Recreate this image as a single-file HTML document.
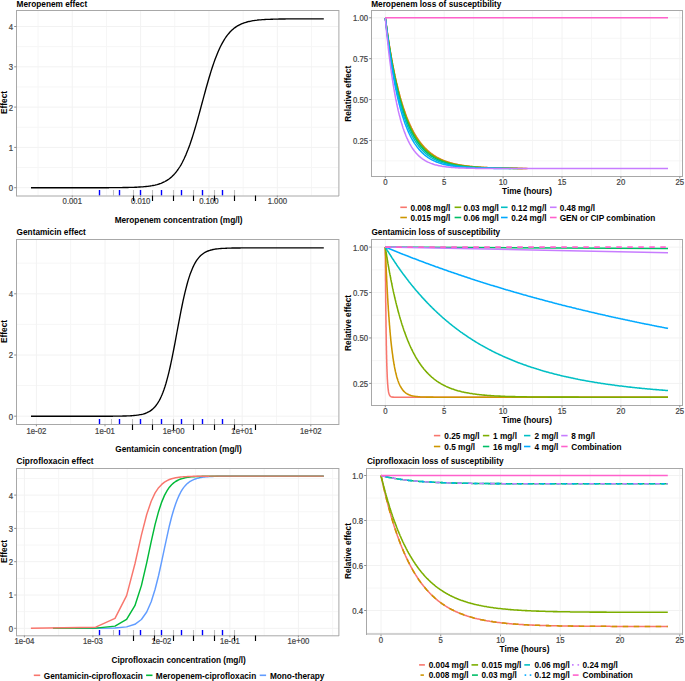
<!DOCTYPE html>
<html><head><meta charset="utf-8"><style>
html,body{margin:0;padding:0;background:#fff;width:685px;height:681px;overflow:hidden;}
svg{display:block;font-family:"Liberation Sans",sans-serif;}
</style></head><body>
<svg width="685" height="681" viewBox="0 0 685 681">
<rect x="0" y="0" width="685" height="681" fill="#fff"/>
<line x1="38.075" y1="10.5" x2="38.075" y2="195.5" stroke="#F6F6F6" stroke-width="1"/>
<line x1="106.425" y1="10.5" x2="106.425" y2="195.5" stroke="#F6F6F6" stroke-width="1"/>
<line x1="174.77499999999998" y1="10.5" x2="174.77499999999998" y2="195.5" stroke="#F6F6F6" stroke-width="1"/>
<line x1="243.125" y1="10.5" x2="243.125" y2="195.5" stroke="#F6F6F6" stroke-width="1"/>
<line x1="311.475" y1="10.5" x2="311.475" y2="195.5" stroke="#F6F6F6" stroke-width="1"/>
<line x1="16.5" y1="167.54999999999998" x2="338.5" y2="167.54999999999998" stroke="#F6F6F6" stroke-width="1"/>
<line x1="16.5" y1="127.25" x2="338.5" y2="127.25" stroke="#F6F6F6" stroke-width="1"/>
<line x1="16.5" y1="86.94999999999999" x2="338.5" y2="86.94999999999999" stroke="#F6F6F6" stroke-width="1"/>
<line x1="16.5" y1="46.650000000000006" x2="338.5" y2="46.650000000000006" stroke="#F6F6F6" stroke-width="1"/>
<line x1="72.25" y1="10.5" x2="72.25" y2="195.5" stroke="#F2F2F2" stroke-width="1"/>
<line x1="140.6" y1="10.5" x2="140.6" y2="195.5" stroke="#F2F2F2" stroke-width="1"/>
<line x1="208.95" y1="10.5" x2="208.95" y2="195.5" stroke="#F2F2F2" stroke-width="1"/>
<line x1="277.29999999999995" y1="10.5" x2="277.29999999999995" y2="195.5" stroke="#F2F2F2" stroke-width="1"/>
<line x1="16.5" y1="187.7" x2="338.5" y2="187.7" stroke="#F2F2F2" stroke-width="1"/>
<line x1="16.5" y1="147.39999999999998" x2="338.5" y2="147.39999999999998" stroke="#F2F2F2" stroke-width="1"/>
<line x1="16.5" y1="107.1" x2="338.5" y2="107.1" stroke="#F2F2F2" stroke-width="1"/>
<line x1="16.5" y1="66.8" x2="338.5" y2="66.8" stroke="#F2F2F2" stroke-width="1"/>
<line x1="16.5" y1="26.5" x2="338.5" y2="26.5" stroke="#F2F2F2" stroke-width="1"/>
<polyline points="31.0,187.7 32.0,187.7 33.0,187.7 34.0,187.7 35.0,187.7 36.0,187.7 37.0,187.7 38.0,187.7 39.0,187.7 40.0,187.7 41.0,187.7 42.0,187.7 43.0,187.7 44.0,187.7 45.0,187.7 46.0,187.7 47.0,187.7 48.0,187.7 49.0,187.7 50.0,187.7 51.0,187.7 52.0,187.7 53.0,187.7 54.0,187.7 55.0,187.7 56.0,187.7 57.0,187.7 58.0,187.7 59.0,187.7 60.0,187.7 61.0,187.7 62.0,187.7 63.0,187.7 64.0,187.7 65.0,187.7 66.0,187.7 67.0,187.7 68.0,187.7 69.0,187.7 70.0,187.7 71.0,187.7 72.0,187.7 73.0,187.7 74.0,187.7 75.0,187.7 76.0,187.7 77.0,187.7 78.0,187.7 79.0,187.7 80.0,187.7 81.0,187.7 82.0,187.7 83.0,187.7 84.0,187.7 85.0,187.7 86.0,187.7 87.0,187.7 88.0,187.7 89.0,187.7 90.0,187.7 91.0,187.7 92.0,187.7 93.0,187.7 94.0,187.7 95.0,187.7 96.0,187.7 97.0,187.7 98.0,187.7 99.0,187.7 100.0,187.7 101.0,187.7 102.0,187.7 103.0,187.7 104.0,187.7 105.0,187.7 106.0,187.7 107.0,187.7 108.0,187.7 109.0,187.7 110.0,187.6 111.0,187.6 112.0,187.6 113.0,187.6 114.0,187.6 115.0,187.6 116.0,187.6 117.0,187.6 118.0,187.6 119.0,187.6 120.0,187.6 121.0,187.6 122.0,187.6 123.0,187.5 124.0,187.5 125.0,187.5 126.0,187.5 127.0,187.5 128.0,187.5 129.0,187.4 130.0,187.4 131.0,187.4 132.0,187.3 133.0,187.3 134.0,187.3 135.0,187.2 136.0,187.2 137.0,187.2 138.0,187.1 139.0,187.0 140.0,187.0 141.0,186.9 142.0,186.8 143.0,186.8 144.0,186.7 145.0,186.6 146.0,186.5 147.0,186.4 148.0,186.3 149.0,186.1 150.0,186.0 151.0,185.8 152.0,185.7 153.0,185.5 154.0,185.3 155.0,185.1 156.0,184.8 157.0,184.6 158.0,184.3 159.0,184.0 160.0,183.6 161.0,183.3 162.0,182.9 163.0,182.4 164.0,182.0 165.0,181.5 166.0,180.9 167.0,180.3 168.0,179.7 169.0,179.0 170.0,178.2 171.0,177.4 172.0,176.5 173.0,175.5 174.0,174.5 175.0,173.4 176.0,172.2 177.0,170.9 178.0,169.5 179.0,168.0 180.0,166.5 181.0,164.8 182.0,163.0 183.0,161.0 184.0,159.0 185.0,156.8 186.0,154.6 187.0,152.1 188.0,149.6 189.0,146.9 190.0,144.2 191.0,141.3 192.0,138.2 193.0,135.1 194.0,131.9 195.0,128.5 196.0,125.1 197.0,121.6 198.0,118.0 199.0,114.4 200.0,110.7 201.0,107.0 202.0,103.3 203.0,99.6 204.0,95.9 205.0,92.2 206.0,88.5 207.0,85.0 208.0,81.5 209.0,78.0 210.0,74.7 211.0,71.4 212.0,68.3 213.0,65.3 214.0,62.4 215.0,59.6 216.0,56.9 217.0,54.4 218.0,52.0 219.0,49.7 220.0,47.5 221.0,45.5 222.0,43.6 223.0,41.8 224.0,40.1 225.0,38.5 226.0,37.0 227.0,35.6 228.0,34.4 229.0,33.2 230.0,32.0 231.0,31.0 232.0,30.1 233.0,29.2 234.0,28.3 235.0,27.6 236.0,26.9 237.0,26.2 238.0,25.6 239.0,25.1 240.0,24.6 241.0,24.1 242.0,23.7 243.0,23.3 244.0,22.9 245.0,22.6 246.0,22.3 247.0,22.0 248.0,21.7 249.0,21.5 250.0,21.3 251.0,21.1 252.0,20.9 253.0,20.7 254.0,20.6 255.0,20.4 256.0,20.3 257.0,20.2 258.0,20.0 259.0,19.9 260.0,19.9 261.0,19.8 262.0,19.7 263.0,19.6 264.0,19.6 265.0,19.5 266.0,19.4 267.0,19.4 268.0,19.3 269.0,19.3 270.0,19.3 271.0,19.2 272.0,19.2 273.0,19.2 274.0,19.1 275.0,19.1 276.0,19.1 277.0,19.1 278.0,19.1 279.0,19.0 280.0,19.0 281.0,19.0 282.0,19.0 283.0,19.0 284.0,19.0 285.0,19.0 286.0,18.9 287.0,18.9 288.0,18.9 289.0,18.9 290.0,18.9 291.0,18.9 292.0,18.9 293.0,18.9 294.0,18.9 295.0,18.9 296.0,18.9 297.0,18.9 298.0,18.9 299.0,18.9 300.0,18.9 301.0,18.9 302.0,18.9 303.0,18.9 304.0,18.9 305.0,18.9 306.0,18.9 307.0,18.9 308.0,18.9 309.0,18.9 310.0,18.9 311.0,18.9 312.0,18.9 313.0,18.9 314.0,18.9 315.0,18.9 316.0,18.9 317.0,18.8 318.0,18.8 319.0,18.8 320.0,18.8 321.0,18.8 322.0,18.8 323.0,18.8 323.8,18.8" fill="none" stroke="#000" stroke-width="1.35" stroke-linejoin="round" stroke-linecap="butt"/>
<line x1="113.5" y1="190" x2="113.5" y2="195.5" stroke="#C0C0C0" stroke-width="1.1"/>
<line x1="133.5" y1="190" x2="133.5" y2="195.5" stroke="#C0C0C0" stroke-width="1.1"/>
<line x1="152.5" y1="190" x2="152.5" y2="195.5" stroke="#C0C0C0" stroke-width="1.1"/>
<line x1="173.5" y1="190" x2="173.5" y2="195.5" stroke="#C0C0C0" stroke-width="1.1"/>
<line x1="193.5" y1="190" x2="193.5" y2="195.5" stroke="#C0C0C0" stroke-width="1.1"/>
<line x1="214.5" y1="190" x2="214.5" y2="195.5" stroke="#C0C0C0" stroke-width="1.1"/>
<line x1="234.5" y1="190" x2="234.5" y2="195.5" stroke="#C0C0C0" stroke-width="1.1"/>
<line x1="99.5" y1="190" x2="99.5" y2="195.5" stroke="#0000FF" stroke-width="1.4"/>
<line x1="119.5" y1="190" x2="119.5" y2="195.5" stroke="#0000FF" stroke-width="1.4"/>
<line x1="140.5" y1="190" x2="140.5" y2="195.5" stroke="#0000FF" stroke-width="1.4"/>
<line x1="161.5" y1="190" x2="161.5" y2="195.5" stroke="#0000FF" stroke-width="1.4"/>
<line x1="181.5" y1="190" x2="181.5" y2="195.5" stroke="#0000FF" stroke-width="1.4"/>
<line x1="202.5" y1="190" x2="202.5" y2="195.5" stroke="#0000FF" stroke-width="1.4"/>
<line x1="222.5" y1="190" x2="222.5" y2="195.5" stroke="#0000FF" stroke-width="1.4"/>
<line x1="16" y1="10.5" x2="339" y2="10.5" stroke="#A8A8A8" stroke-width="1"/>
<line x1="16.5" y1="10" x2="16.5" y2="196" stroke="#A8A8A8" stroke-width="1"/>
<line x1="16" y1="196.0" x2="339" y2="196.0" stroke="#A8A8A8" stroke-width="1"/>
<line x1="338.9" y1="10" x2="338.9" y2="196" stroke="#A8A8A8" stroke-width="1"/>
<line x1="14.2" y1="187.7" x2="16.5" y2="187.7" stroke="#8C8C8C" stroke-width="1"/>
<text font-size="8.6" text-anchor="end" fill="#444444" stroke="#444444" stroke-width="0.22" transform="translate(13.00 191.10) scale(0.9 1)">0</text>
<line x1="14.2" y1="147.39999999999998" x2="16.5" y2="147.39999999999998" stroke="#8C8C8C" stroke-width="1"/>
<text font-size="8.6" text-anchor="end" fill="#444444" stroke="#444444" stroke-width="0.22" transform="translate(13.00 150.80) scale(0.9 1)">1</text>
<line x1="14.2" y1="107.1" x2="16.5" y2="107.1" stroke="#8C8C8C" stroke-width="1"/>
<text font-size="8.6" text-anchor="end" fill="#444444" stroke="#444444" stroke-width="0.22" transform="translate(13.00 110.50) scale(0.9 1)">2</text>
<line x1="14.2" y1="66.8" x2="16.5" y2="66.8" stroke="#8C8C8C" stroke-width="1"/>
<text font-size="8.6" text-anchor="end" fill="#444444" stroke="#444444" stroke-width="0.22" transform="translate(13.00 70.20) scale(0.9 1)">3</text>
<line x1="14.2" y1="26.5" x2="16.5" y2="26.5" stroke="#8C8C8C" stroke-width="1"/>
<text font-size="8.6" text-anchor="end" fill="#444444" stroke="#444444" stroke-width="0.22" transform="translate(13.00 29.90) scale(0.9 1)">4</text>
<line x1="72.25" y1="195.5" x2="72.25" y2="197.3" stroke="#8C8C8C" stroke-width="1"/>
<text font-size="8.6" text-anchor="middle" fill="#444444" stroke="#444444" stroke-width="0.22" transform="translate(72.25 204.30) scale(0.9 1)">0.001</text>
<line x1="140.6" y1="195.5" x2="140.6" y2="197.3" stroke="#8C8C8C" stroke-width="1"/>
<text font-size="8.6" text-anchor="middle" fill="#444444" stroke="#444444" stroke-width="0.22" transform="translate(140.60 204.30) scale(0.9 1)">0.010</text>
<line x1="208.95" y1="195.5" x2="208.95" y2="197.3" stroke="#8C8C8C" stroke-width="1"/>
<text font-size="8.6" text-anchor="middle" fill="#444444" stroke="#444444" stroke-width="0.22" transform="translate(208.95 204.30) scale(0.9 1)">0.100</text>
<line x1="277.29999999999995" y1="195.5" x2="277.29999999999995" y2="197.3" stroke="#8C8C8C" stroke-width="1"/>
<text font-size="8.6" text-anchor="middle" fill="#444444" stroke="#444444" stroke-width="0.22" transform="translate(277.30 204.30) scale(0.9 1)">1.000</text>
<line x1="133.5" y1="195.5" x2="133.5" y2="201" stroke="#000" stroke-width="1.15"/>
<line x1="152.5" y1="195.5" x2="152.5" y2="201" stroke="#000" stroke-width="1.15"/>
<line x1="173.5" y1="195.5" x2="173.5" y2="201" stroke="#000" stroke-width="1.15"/>
<line x1="193.5" y1="195.5" x2="193.5" y2="201" stroke="#000" stroke-width="1.15"/>
<line x1="214.5" y1="195.5" x2="214.5" y2="201" stroke="#000" stroke-width="1.15"/>
<line x1="234.5" y1="195.5" x2="234.5" y2="201" stroke="#000" stroke-width="1.15"/>
<line x1="255.5" y1="195.5" x2="255.5" y2="201" stroke="#000" stroke-width="1.15"/>
<text x="16.6" y="6.7" font-size="8.25" font-weight="bold" text-anchor="start" fill="#000000">Meropenem effect</text>
<text x="178.6" y="222.6" font-size="8.25" font-weight="bold" text-anchor="middle" fill="#000000">Meropenem concentration (mg/l)</text>
<text x="7.1" y="102.5" font-size="8.25" font-weight="bold" text-anchor="middle" fill="#000000" transform="rotate(-90 7.1 102.5)">Effect</text>
<line x1="70.69999999999999" y1="239.5" x2="70.69999999999999" y2="424.5" stroke="#F6F6F6" stroke-width="1"/>
<line x1="139.29999999999998" y1="239.5" x2="139.29999999999998" y2="424.5" stroke="#F6F6F6" stroke-width="1"/>
<line x1="207.9" y1="239.5" x2="207.9" y2="424.5" stroke="#F6F6F6" stroke-width="1"/>
<line x1="276.49999999999994" y1="239.5" x2="276.49999999999994" y2="424.5" stroke="#F6F6F6" stroke-width="1"/>
<line x1="16.5" y1="385.59999999999997" x2="338.5" y2="385.59999999999997" stroke="#F6F6F6" stroke-width="1"/>
<line x1="16.5" y1="324.4" x2="338.5" y2="324.4" stroke="#F6F6F6" stroke-width="1"/>
<line x1="16.5" y1="263.2" x2="338.5" y2="263.2" stroke="#F6F6F6" stroke-width="1"/>
<line x1="36.4" y1="239.5" x2="36.4" y2="424.5" stroke="#F2F2F2" stroke-width="1"/>
<line x1="105.0" y1="239.5" x2="105.0" y2="424.5" stroke="#F2F2F2" stroke-width="1"/>
<line x1="173.6" y1="239.5" x2="173.6" y2="424.5" stroke="#F2F2F2" stroke-width="1"/>
<line x1="242.2" y1="239.5" x2="242.2" y2="424.5" stroke="#F2F2F2" stroke-width="1"/>
<line x1="310.79999999999995" y1="239.5" x2="310.79999999999995" y2="424.5" stroke="#F2F2F2" stroke-width="1"/>
<line x1="16.5" y1="416.2" x2="338.5" y2="416.2" stroke="#F2F2F2" stroke-width="1"/>
<line x1="16.5" y1="355.0" x2="338.5" y2="355.0" stroke="#F2F2F2" stroke-width="1"/>
<line x1="16.5" y1="293.79999999999995" x2="338.5" y2="293.79999999999995" stroke="#F2F2F2" stroke-width="1"/>
<polyline points="31.0,416.2 32.0,416.2 33.0,416.2 34.0,416.2 35.0,416.2 36.0,416.2 37.0,416.2 38.0,416.2 39.0,416.2 40.0,416.2 41.0,416.2 42.0,416.2 43.0,416.2 44.0,416.2 45.0,416.2 46.0,416.2 47.0,416.2 48.0,416.2 49.0,416.2 50.0,416.2 51.0,416.2 52.0,416.2 53.0,416.2 54.0,416.2 55.0,416.2 56.0,416.2 57.0,416.2 58.0,416.2 59.0,416.2 60.0,416.2 61.0,416.2 62.0,416.2 63.0,416.2 64.0,416.2 65.0,416.2 66.0,416.2 67.0,416.2 68.0,416.2 69.0,416.2 70.0,416.2 71.0,416.2 72.0,416.2 73.0,416.2 74.0,416.2 75.0,416.2 76.0,416.2 77.0,416.2 78.0,416.2 79.0,416.2 80.0,416.2 81.0,416.2 82.0,416.2 83.0,416.2 84.0,416.2 85.0,416.2 86.0,416.2 87.0,416.2 88.0,416.2 89.0,416.2 90.0,416.2 91.0,416.2 92.0,416.2 93.0,416.2 94.0,416.2 95.0,416.2 96.0,416.2 97.0,416.2 98.0,416.2 99.0,416.2 100.0,416.2 101.0,416.2 102.0,416.2 103.0,416.2 104.0,416.2 105.0,416.2 106.0,416.2 107.0,416.2 108.0,416.2 109.0,416.2 110.0,416.2 111.0,416.2 112.0,416.2 113.0,416.2 114.0,416.1 115.0,416.1 116.0,416.1 117.0,416.1 118.0,416.1 119.0,416.1 120.0,416.1 121.0,416.1 122.0,416.1 123.0,416.0 124.0,416.0 125.0,416.0 126.0,416.0 127.0,415.9 128.0,415.9 129.0,415.8 130.0,415.8 131.0,415.7 132.0,415.7 133.0,415.6 134.0,415.5 135.0,415.4 136.0,415.3 137.0,415.2 138.0,415.1 139.0,414.9 140.0,414.7 141.0,414.6 142.0,414.3 143.0,414.1 144.0,413.8 145.0,413.5 146.0,413.1 147.0,412.7 148.0,412.2 149.0,411.7 150.0,411.1 151.0,410.4 152.0,409.6 153.0,408.8 154.0,407.8 155.0,406.7 156.0,405.5 157.0,404.2 158.0,402.7 159.0,401.0 160.0,399.1 161.0,397.0 162.0,394.7 163.0,392.2 164.0,389.5 165.0,386.5 166.0,383.2 167.0,379.6 168.0,375.8 169.0,371.8 170.0,367.5 171.0,362.9 172.0,358.1 173.0,353.2 174.0,348.0 175.0,342.8 176.0,337.4 177.0,332.0 178.0,326.7 179.0,321.3 180.0,316.1 181.0,310.9 182.0,306.0 183.0,301.2 184.0,296.6 185.0,292.3 186.0,288.3 187.0,284.5 188.0,280.9 189.0,277.6 190.0,274.6 191.0,271.9 192.0,269.4 193.0,267.1 194.0,265.0 195.0,263.1 196.0,261.4 197.0,259.9 198.0,258.6 199.0,257.4 200.0,256.3 201.0,255.3 202.0,254.5 203.0,253.7 204.0,253.0 205.0,252.4 206.0,251.9 207.0,251.4 208.0,251.0 209.0,250.6 210.0,250.3 211.0,250.0 212.0,249.8 213.0,249.5 214.0,249.4 215.0,249.2 216.0,249.0 217.0,248.9 218.0,248.8 219.0,248.7 220.0,248.6 221.0,248.5 222.0,248.4 223.0,248.4 224.0,248.3 225.0,248.3 226.0,248.2 227.0,248.2 228.0,248.1 229.0,248.1 230.0,248.1 231.0,248.1 232.0,248.0 233.0,248.0 234.0,248.0 235.0,248.0 236.0,248.0 237.0,248.0 238.0,248.0 239.0,248.0 240.0,248.0 241.0,247.9 242.0,247.9 243.0,247.9 244.0,247.9 245.0,247.9 246.0,247.9 247.0,247.9 248.0,247.9 249.0,247.9 250.0,247.9 251.0,247.9 252.0,247.9 253.0,247.9 254.0,247.9 255.0,247.9 256.0,247.9 257.0,247.9 258.0,247.9 259.0,247.9 260.0,247.9 261.0,247.9 262.0,247.9 263.0,247.9 264.0,247.9 265.0,247.9 266.0,247.9 267.0,247.9 268.0,247.9 269.0,247.9 270.0,247.9 271.0,247.9 272.0,247.9 273.0,247.9 274.0,247.9 275.0,247.9 276.0,247.9 277.0,247.9 278.0,247.9 279.0,247.9 280.0,247.9 281.0,247.9 282.0,247.9 283.0,247.9 284.0,247.9 285.0,247.9 286.0,247.9 287.0,247.9 288.0,247.9 289.0,247.9 290.0,247.9 291.0,247.9 292.0,247.9 293.0,247.9 294.0,247.9 295.0,247.9 296.0,247.9 297.0,247.9 298.0,247.9 299.0,247.9 300.0,247.9 301.0,247.9 302.0,247.9 303.0,247.9 304.0,247.9 305.0,247.9 306.0,247.9 307.0,247.9 308.0,247.9 309.0,247.9 310.0,247.9 311.0,247.9 312.0,247.9 313.0,247.9 314.0,247.9 315.0,247.9 316.0,247.9 317.0,247.9 318.0,247.9 319.0,247.9 320.0,247.9 321.0,247.9 322.0,247.9 323.0,247.9 323.8,247.9" fill="none" stroke="#000" stroke-width="1.35" stroke-linejoin="round" stroke-linecap="butt"/>
<line x1="111.5" y1="419" x2="111.5" y2="424.5" stroke="#C0C0C0" stroke-width="1.1"/>
<line x1="132.5" y1="419" x2="132.5" y2="424.5" stroke="#C0C0C0" stroke-width="1.1"/>
<line x1="152.5" y1="419" x2="152.5" y2="424.5" stroke="#C0C0C0" stroke-width="1.1"/>
<line x1="173.5" y1="419" x2="173.5" y2="424.5" stroke="#C0C0C0" stroke-width="1.1"/>
<line x1="193.5" y1="419" x2="193.5" y2="424.5" stroke="#C0C0C0" stroke-width="1.1"/>
<line x1="214.5" y1="419" x2="214.5" y2="424.5" stroke="#C0C0C0" stroke-width="1.1"/>
<line x1="234.5" y1="419" x2="234.5" y2="424.5" stroke="#C0C0C0" stroke-width="1.1"/>
<line x1="99.5" y1="419" x2="99.5" y2="424.5" stroke="#0000FF" stroke-width="1.4"/>
<line x1="119.5" y1="419" x2="119.5" y2="424.5" stroke="#0000FF" stroke-width="1.4"/>
<line x1="140.5" y1="419" x2="140.5" y2="424.5" stroke="#0000FF" stroke-width="1.4"/>
<line x1="161.5" y1="419" x2="161.5" y2="424.5" stroke="#0000FF" stroke-width="1.4"/>
<line x1="181.5" y1="419" x2="181.5" y2="424.5" stroke="#0000FF" stroke-width="1.4"/>
<line x1="202.5" y1="419" x2="202.5" y2="424.5" stroke="#0000FF" stroke-width="1.4"/>
<line x1="222.5" y1="419" x2="222.5" y2="424.5" stroke="#0000FF" stroke-width="1.4"/>
<line x1="16" y1="239.5" x2="339" y2="239.5" stroke="#A8A8A8" stroke-width="1"/>
<line x1="16.5" y1="239" x2="16.5" y2="425" stroke="#A8A8A8" stroke-width="1"/>
<line x1="16" y1="424.5" x2="339" y2="424.5" stroke="#A8A8A8" stroke-width="1"/>
<line x1="338.9" y1="239" x2="338.9" y2="425" stroke="#A8A8A8" stroke-width="1"/>
<line x1="14.2" y1="416.2" x2="16.5" y2="416.2" stroke="#8C8C8C" stroke-width="1"/>
<text font-size="8.6" text-anchor="end" fill="#444444" stroke="#444444" stroke-width="0.22" transform="translate(13.00 419.60) scale(0.9 1)">0</text>
<line x1="14.2" y1="355.0" x2="16.5" y2="355.0" stroke="#8C8C8C" stroke-width="1"/>
<text font-size="8.6" text-anchor="end" fill="#444444" stroke="#444444" stroke-width="0.22" transform="translate(13.00 358.40) scale(0.9 1)">2</text>
<line x1="14.2" y1="293.79999999999995" x2="16.5" y2="293.79999999999995" stroke="#8C8C8C" stroke-width="1"/>
<text font-size="8.6" text-anchor="end" fill="#444444" stroke="#444444" stroke-width="0.22" transform="translate(13.00 297.20) scale(0.9 1)">4</text>
<line x1="36.4" y1="424.5" x2="36.4" y2="426.3" stroke="#8C8C8C" stroke-width="1"/>
<text font-size="8.6" text-anchor="middle" fill="#444444" stroke="#444444" stroke-width="0.22" transform="translate(36.40 433.50) scale(0.9 1)">1e-02</text>
<line x1="105.0" y1="424.5" x2="105.0" y2="426.3" stroke="#8C8C8C" stroke-width="1"/>
<text font-size="8.6" text-anchor="middle" fill="#444444" stroke="#444444" stroke-width="0.22" transform="translate(105.00 433.50) scale(0.9 1)">1e-01</text>
<line x1="173.6" y1="424.5" x2="173.6" y2="426.3" stroke="#8C8C8C" stroke-width="1"/>
<text font-size="8.6" text-anchor="middle" fill="#444444" stroke="#444444" stroke-width="0.22" transform="translate(173.60 433.50) scale(0.9 1)">1e+00</text>
<line x1="242.2" y1="424.5" x2="242.2" y2="426.3" stroke="#8C8C8C" stroke-width="1"/>
<text font-size="8.6" text-anchor="middle" fill="#444444" stroke="#444444" stroke-width="0.22" transform="translate(242.20 433.50) scale(0.9 1)">1e+01</text>
<line x1="310.79999999999995" y1="424.5" x2="310.79999999999995" y2="426.3" stroke="#8C8C8C" stroke-width="1"/>
<text font-size="8.6" text-anchor="middle" fill="#444444" stroke="#444444" stroke-width="0.22" transform="translate(310.80 433.50) scale(0.9 1)">1e+02</text>
<line x1="132.5" y1="424.5" x2="132.5" y2="430" stroke="#000" stroke-width="1.15"/>
<line x1="152.5" y1="424.5" x2="152.5" y2="430" stroke="#000" stroke-width="1.15"/>
<line x1="173.5" y1="424.5" x2="173.5" y2="430" stroke="#000" stroke-width="1.15"/>
<line x1="193.5" y1="424.5" x2="193.5" y2="430" stroke="#000" stroke-width="1.15"/>
<line x1="214.5" y1="424.5" x2="214.5" y2="430" stroke="#000" stroke-width="1.15"/>
<line x1="234.5" y1="424.5" x2="234.5" y2="430" stroke="#000" stroke-width="1.15"/>
<line x1="255.5" y1="424.5" x2="255.5" y2="430" stroke="#000" stroke-width="1.15"/>
<text x="16.6" y="235.1" font-size="8.25" font-weight="bold" text-anchor="start" fill="#000000">Gentamicin effect</text>
<text x="178.5" y="452.0" font-size="8.25" font-weight="bold" text-anchor="middle" fill="#000000">Gentamicin concentration (mg/l)</text>
<text x="7.1" y="331.5" font-size="8.25" font-weight="bold" text-anchor="middle" fill="#000000" transform="rotate(-90 7.1 331.5)">Effect</text>
<line x1="58.65" y1="468.5" x2="58.65" y2="635.5" stroke="#F6F6F6" stroke-width="1"/>
<line x1="127.15" y1="468.5" x2="127.15" y2="635.5" stroke="#F6F6F6" stroke-width="1"/>
<line x1="195.65" y1="468.5" x2="195.65" y2="635.5" stroke="#F6F6F6" stroke-width="1"/>
<line x1="264.15" y1="468.5" x2="264.15" y2="635.5" stroke="#F6F6F6" stroke-width="1"/>
<line x1="332.65" y1="468.5" x2="332.65" y2="635.5" stroke="#F6F6F6" stroke-width="1"/>
<line x1="16.5" y1="611.65" x2="338.5" y2="611.65" stroke="#F6F6F6" stroke-width="1"/>
<line x1="16.5" y1="578.3499999999999" x2="338.5" y2="578.3499999999999" stroke="#F6F6F6" stroke-width="1"/>
<line x1="16.5" y1="545.05" x2="338.5" y2="545.05" stroke="#F6F6F6" stroke-width="1"/>
<line x1="16.5" y1="511.75" x2="338.5" y2="511.75" stroke="#F6F6F6" stroke-width="1"/>
<line x1="16.5" y1="478.44999999999993" x2="338.5" y2="478.44999999999993" stroke="#F6F6F6" stroke-width="1"/>
<line x1="24.4" y1="468.5" x2="24.4" y2="635.5" stroke="#F2F2F2" stroke-width="1"/>
<line x1="92.9" y1="468.5" x2="92.9" y2="635.5" stroke="#F2F2F2" stroke-width="1"/>
<line x1="161.4" y1="468.5" x2="161.4" y2="635.5" stroke="#F2F2F2" stroke-width="1"/>
<line x1="229.9" y1="468.5" x2="229.9" y2="635.5" stroke="#F2F2F2" stroke-width="1"/>
<line x1="298.4" y1="468.5" x2="298.4" y2="635.5" stroke="#F2F2F2" stroke-width="1"/>
<line x1="16.5" y1="628.3" x2="338.5" y2="628.3" stroke="#F2F2F2" stroke-width="1"/>
<line x1="16.5" y1="595.0" x2="338.5" y2="595.0" stroke="#F2F2F2" stroke-width="1"/>
<line x1="16.5" y1="561.6999999999999" x2="338.5" y2="561.6999999999999" stroke="#F2F2F2" stroke-width="1"/>
<line x1="16.5" y1="528.4" x2="338.5" y2="528.4" stroke="#F2F2F2" stroke-width="1"/>
<line x1="16.5" y1="495.09999999999997" x2="338.5" y2="495.09999999999997" stroke="#F2F2F2" stroke-width="1"/>
<polyline points="75.4,628.3 95.7,628.3 115.0,628.0 126.6,626.9 134.9,624.3 141.4,619.5 146.7,612.0 151.2,601.8 155.1,589.3 158.6,575.5 161.7,561.4 164.5,548.1 167.1,536.1 169.4,525.7 171.6,517.0 173.7,509.8 175.6,504.0 177.4,499.2 179.1,495.4 180.7,492.2 182.2,489.7 183.6,487.6 185.0,485.9 186.3,484.5 187.6,483.3 188.8,482.4 189.9,481.5 191.1,480.9 192.1,480.3 193.2,479.8 194.2,479.4 195.2,479.0 196.1,478.7 197.0,478.4 197.9,478.2 198.8,478.0 199.6,477.8 200.4,477.6 201.2,477.5 202.0,477.4 202.7,477.2 203.4,477.1 204.2,477.1 204.9,477.0 205.5,476.9 206.2,476.8 206.9,476.8 207.5,476.7 208.1,476.7 208.7,476.6 209.3,476.6 212.2,476.5 214.8,476.4 217.1,476.3 219.3,476.3 221.4,476.2 223.3,476.2 225.1,476.2 226.8,476.2 228.4,476.2 229.9,476.2 231.4,476.2 232.8,476.1 234.1,476.1 235.3,476.1 236.6,476.1 237.7,476.1 238.8,476.1 239.9,476.1 241.0,476.1 242.0,476.1 243.0,476.1 243.9,476.1 244.8,476.1 245.7,476.1 246.6,476.1 247.4,476.1 248.2,476.1 249.0,476.1 249.8,476.1 250.5,476.1 251.3,476.1 252.0,476.1 252.7,476.1 253.4,476.1 254.0,476.1 254.7,476.1 255.3,476.1 256.0,476.1 256.6,476.1 257.2,476.1 257.8,476.1 258.3,476.1 258.9,476.1 259.5,476.1 260.0,476.1 260.5,476.1 261.1,476.1 261.6,476.1 262.1,476.1 262.6,476.1 265.0,476.1 267.2,476.1 269.2,476.1 271.1,476.1 273.0,476.1 274.7,476.1 276.3,476.1 277.8,476.1 279.2,476.1 280.6,476.1 281.9,476.1 283.2,476.1 284.4,476.1 285.6,476.1 286.7,476.1 287.8,476.1 288.8,476.1 289.8,476.1 290.8,476.1 291.8,476.1 292.7,476.1 293.6,476.1 294.4,476.1 295.3,476.1 296.1,476.1 296.9,476.1 297.6,476.1 298.4,476.1 299.1,476.1 299.9,476.1 300.6,476.1 301.2,476.1 301.9,476.1 302.6,476.1 303.2,476.1 303.8,476.1 304.4,476.1 305.0,476.1 305.6,476.1 306.2,476.1 306.8,476.1 307.3,476.1 307.9,476.1 308.4,476.1 308.9,476.1 309.5,476.1 310.0,476.1 310.5,476.1 311.0,476.1 311.4,476.1 311.9,476.1 312.4,476.1 312.8,476.1 313.3,476.1 313.7,476.1 314.2,476.1 314.6,476.1 315.0,476.1 315.5,476.1 315.9,476.1 316.3,476.1 316.7,476.1 317.1,476.1 317.5,476.1 317.9,476.1 318.3,476.1 318.6,476.1 319.0,476.1 319.4,476.1 319.8,476.1 320.1,476.1 320.5,476.1 320.8,476.1 321.2,476.1 321.5,476.1 321.9,476.1 322.2,476.1 322.5,476.1 322.9,476.1 323.2,476.1 323.5,476.1 323.8,476.1" fill="none" stroke="#619CFF" stroke-width="1.45" stroke-linejoin="round" stroke-linecap="butt"/>
<polyline points="52.9,628.3 95.7,628.1 115.0,626.1 126.6,619.4 134.9,605.7 141.4,585.6 146.7,562.8 151.2,541.6 155.1,524.4 158.6,511.4 161.7,502.1 164.5,495.4 167.1,490.7 169.4,487.2 171.6,484.7 173.7,482.9 175.6,481.5 177.4,480.5 179.1,479.7 180.7,479.0 182.2,478.6 183.6,478.2 185.0,477.8 186.3,477.6 187.6,477.4 188.8,477.2 189.9,477.1 191.1,476.9 192.1,476.8 193.2,476.7 194.2,476.7 195.2,476.6 196.1,476.6 197.0,476.5 197.9,476.5 198.8,476.4 199.6,476.4 200.4,476.4 201.2,476.4 202.0,476.3 202.7,476.3 203.4,476.3 204.2,476.3 204.9,476.3 205.5,476.3 206.2,476.2 206.9,476.2 207.5,476.2 208.1,476.2 208.7,476.2 209.3,476.2 212.2,476.2 214.8,476.2 217.1,476.2 219.3,476.1 221.4,476.1 223.3,476.1 225.1,476.1 226.8,476.1 228.4,476.1 229.9,476.1 231.4,476.1 232.8,476.1 234.1,476.1 235.3,476.1 236.6,476.1 237.7,476.1 238.8,476.1 239.9,476.1 241.0,476.1 242.0,476.1 243.0,476.1 243.9,476.1 244.8,476.1 245.7,476.1 246.6,476.1 247.4,476.1 248.2,476.1 249.0,476.1 249.8,476.1 250.5,476.1 251.3,476.1 252.0,476.1 252.7,476.1 253.4,476.1 254.0,476.1 254.7,476.1 255.3,476.1 256.0,476.1 256.6,476.1 257.2,476.1 257.8,476.1 258.3,476.1 258.9,476.1 259.5,476.1 260.0,476.1 260.5,476.1 261.1,476.1 261.6,476.1 262.1,476.1 262.6,476.1 265.0,476.1 267.2,476.1 269.2,476.1 271.1,476.1 273.0,476.1 274.7,476.1 276.3,476.1 277.8,476.1 279.2,476.1 280.6,476.1 281.9,476.1 283.2,476.1 284.4,476.1 285.6,476.1 286.7,476.1 287.8,476.1 288.8,476.1 289.8,476.1 290.8,476.1 291.8,476.1 292.7,476.1 293.6,476.1 294.4,476.1 295.3,476.1 296.1,476.1 296.9,476.1 297.6,476.1 298.4,476.1 299.1,476.1 299.9,476.1 300.6,476.1 301.2,476.1 301.9,476.1 302.6,476.1 303.2,476.1 303.8,476.1 304.4,476.1 305.0,476.1 305.6,476.1 306.2,476.1 306.8,476.1 307.3,476.1 307.9,476.1 308.4,476.1 308.9,476.1 309.5,476.1 310.0,476.1 310.5,476.1 311.0,476.1 311.4,476.1 311.9,476.1 312.4,476.1 312.8,476.1 313.3,476.1 313.7,476.1 314.2,476.1 314.6,476.1 315.0,476.1 315.5,476.1 315.9,476.1 316.3,476.1 316.7,476.1 317.1,476.1 317.5,476.1 317.9,476.1 318.3,476.1 318.6,476.1 319.0,476.1 319.4,476.1 319.8,476.1 320.1,476.1 320.5,476.1 320.8,476.1 321.2,476.1 321.5,476.1 321.9,476.1 322.2,476.1 322.5,476.1 322.9,476.1 323.2,476.1 323.5,476.1 323.8,476.1" fill="none" stroke="#00BA38" stroke-width="1.45" stroke-linejoin="round" stroke-linecap="butt"/>
<polyline points="30.9,628.3 95.7,627.2 115.0,618.4 126.6,595.6 134.9,564.0 141.4,535.1 146.7,514.5 151.2,501.2 155.1,492.9 158.6,487.7 161.7,484.4 164.5,482.1 167.1,480.6 169.4,479.5 171.6,478.8 173.7,478.2 175.6,477.8 177.4,477.5 179.1,477.2 180.7,477.0 182.2,476.9 183.6,476.8 185.0,476.7 186.3,476.6 187.6,476.5 188.8,476.5 189.9,476.4 191.1,476.4 192.1,476.4 193.2,476.3 194.2,476.3 195.2,476.3 196.1,476.3 197.0,476.3 197.9,476.2 198.8,476.2 199.6,476.2 200.4,476.2 201.2,476.2 202.0,476.2 202.7,476.2 203.4,476.2 204.2,476.2 204.9,476.2 205.5,476.2 206.2,476.2 206.9,476.2 207.5,476.2 208.1,476.2 208.7,476.2 209.3,476.1 212.2,476.1 214.8,476.1 217.1,476.1 219.3,476.1 221.4,476.1 223.3,476.1 225.1,476.1 226.8,476.1 228.4,476.1 229.9,476.1 231.4,476.1 232.8,476.1 234.1,476.1 235.3,476.1 236.6,476.1 237.7,476.1 238.8,476.1 239.9,476.1 241.0,476.1 242.0,476.1 243.0,476.1 243.9,476.1 244.8,476.1 245.7,476.1 246.6,476.1 247.4,476.1 248.2,476.1 249.0,476.1 249.8,476.1 250.5,476.1 251.3,476.1 252.0,476.1 252.7,476.1 253.4,476.1 254.0,476.1 254.7,476.1 255.3,476.1 256.0,476.1 256.6,476.1 257.2,476.1 257.8,476.1 258.3,476.1 258.9,476.1 259.5,476.1 260.0,476.1 260.5,476.1 261.1,476.1 261.6,476.1 262.1,476.1 262.6,476.1 265.0,476.1 267.2,476.1 269.2,476.1 271.1,476.1 273.0,476.1 274.7,476.1 276.3,476.1 277.8,476.1 279.2,476.1 280.6,476.1 281.9,476.1 283.2,476.1 284.4,476.1 285.6,476.1 286.7,476.1 287.8,476.1 288.8,476.1 289.8,476.1 290.8,476.1 291.8,476.1 292.7,476.1 293.6,476.1 294.4,476.1 295.3,476.1 296.1,476.1 296.9,476.1 297.6,476.1 298.4,476.1 299.1,476.1 299.9,476.1 300.6,476.1 301.2,476.1 301.9,476.1 302.6,476.1 303.2,476.1 303.8,476.1 304.4,476.1 305.0,476.1 305.6,476.1 306.2,476.1 306.8,476.1 307.3,476.1 307.9,476.1 308.4,476.1 308.9,476.1 309.5,476.1 310.0,476.1 310.5,476.1 311.0,476.1 311.4,476.1 311.9,476.1 312.4,476.1 312.8,476.1 313.3,476.1 313.7,476.1 314.2,476.1 314.6,476.1 315.0,476.1 315.5,476.1 315.9,476.1 316.3,476.1 316.7,476.1 317.1,476.1 317.5,476.1 317.9,476.1 318.3,476.1 318.6,476.1 319.0,476.1 319.4,476.1 319.8,476.1 320.1,476.1 320.5,476.1 320.8,476.1 321.2,476.1 321.5,476.1 321.9,476.1 322.2,476.1 322.5,476.1 322.9,476.1 323.2,476.1 323.5,476.1 323.8,476.1" fill="none" stroke="#F8766D" stroke-width="1.45" stroke-linejoin="round" stroke-linecap="butt"/>
<line x1="113.5" y1="630" x2="113.5" y2="635.5" stroke="#C0C0C0" stroke-width="1.1"/>
<line x1="133.5" y1="630" x2="133.5" y2="635.5" stroke="#C0C0C0" stroke-width="1.1"/>
<line x1="154.5" y1="630" x2="154.5" y2="635.5" stroke="#C0C0C0" stroke-width="1.1"/>
<line x1="173.5" y1="630" x2="173.5" y2="635.5" stroke="#C0C0C0" stroke-width="1.1"/>
<line x1="193.5" y1="630" x2="193.5" y2="635.5" stroke="#C0C0C0" stroke-width="1.1"/>
<line x1="214.5" y1="630" x2="214.5" y2="635.5" stroke="#C0C0C0" stroke-width="1.1"/>
<line x1="234.5" y1="630" x2="234.5" y2="635.5" stroke="#C0C0C0" stroke-width="1.1"/>
<line x1="99.5" y1="630" x2="99.5" y2="635.5" stroke="#0000FF" stroke-width="1.4"/>
<line x1="119.5" y1="630" x2="119.5" y2="635.5" stroke="#0000FF" stroke-width="1.4"/>
<line x1="140.5" y1="630" x2="140.5" y2="635.5" stroke="#0000FF" stroke-width="1.4"/>
<line x1="161.5" y1="630" x2="161.5" y2="635.5" stroke="#0000FF" stroke-width="1.4"/>
<line x1="181.5" y1="630" x2="181.5" y2="635.5" stroke="#0000FF" stroke-width="1.4"/>
<line x1="202.5" y1="630" x2="202.5" y2="635.5" stroke="#0000FF" stroke-width="1.4"/>
<line x1="222.5" y1="630" x2="222.5" y2="635.5" stroke="#0000FF" stroke-width="1.4"/>
<line x1="16" y1="468.5" x2="339" y2="468.5" stroke="#A8A8A8" stroke-width="1"/>
<line x1="16.5" y1="468" x2="16.5" y2="636" stroke="#A8A8A8" stroke-width="1"/>
<line x1="16" y1="635.8" x2="339" y2="635.8" stroke="#A8A8A8" stroke-width="1"/>
<line x1="338.9" y1="468" x2="338.9" y2="636" stroke="#A8A8A8" stroke-width="1"/>
<line x1="14.2" y1="628.3" x2="16.5" y2="628.3" stroke="#8C8C8C" stroke-width="1"/>
<text font-size="8.6" text-anchor="end" fill="#444444" stroke="#444444" stroke-width="0.22" transform="translate(13.00 631.70) scale(0.9 1)">0</text>
<line x1="14.2" y1="595.0" x2="16.5" y2="595.0" stroke="#8C8C8C" stroke-width="1"/>
<text font-size="8.6" text-anchor="end" fill="#444444" stroke="#444444" stroke-width="0.22" transform="translate(13.00 598.40) scale(0.9 1)">1</text>
<line x1="14.2" y1="561.6999999999999" x2="16.5" y2="561.6999999999999" stroke="#8C8C8C" stroke-width="1"/>
<text font-size="8.6" text-anchor="end" fill="#444444" stroke="#444444" stroke-width="0.22" transform="translate(13.00 565.10) scale(0.9 1)">2</text>
<line x1="14.2" y1="528.4" x2="16.5" y2="528.4" stroke="#8C8C8C" stroke-width="1"/>
<text font-size="8.6" text-anchor="end" fill="#444444" stroke="#444444" stroke-width="0.22" transform="translate(13.00 531.80) scale(0.9 1)">3</text>
<line x1="14.2" y1="495.09999999999997" x2="16.5" y2="495.09999999999997" stroke="#8C8C8C" stroke-width="1"/>
<text font-size="8.6" text-anchor="end" fill="#444444" stroke="#444444" stroke-width="0.22" transform="translate(13.00 498.50) scale(0.9 1)">4</text>
<line x1="24.4" y1="635.5" x2="24.4" y2="637.3" stroke="#8C8C8C" stroke-width="1"/>
<text font-size="8.6" text-anchor="middle" fill="#444444" stroke="#444444" stroke-width="0.22" transform="translate(24.40 644.30) scale(0.9 1)">1e-04</text>
<line x1="92.9" y1="635.5" x2="92.9" y2="637.3" stroke="#8C8C8C" stroke-width="1"/>
<text font-size="8.6" text-anchor="middle" fill="#444444" stroke="#444444" stroke-width="0.22" transform="translate(92.90 644.30) scale(0.9 1)">1e-03</text>
<line x1="161.4" y1="635.5" x2="161.4" y2="637.3" stroke="#8C8C8C" stroke-width="1"/>
<text font-size="8.6" text-anchor="middle" fill="#444444" stroke="#444444" stroke-width="0.22" transform="translate(161.40 644.30) scale(0.9 1)">1e-02</text>
<line x1="229.9" y1="635.5" x2="229.9" y2="637.3" stroke="#8C8C8C" stroke-width="1"/>
<text font-size="8.6" text-anchor="middle" fill="#444444" stroke="#444444" stroke-width="0.22" transform="translate(229.90 644.30) scale(0.9 1)">1e-01</text>
<line x1="298.4" y1="635.5" x2="298.4" y2="637.3" stroke="#8C8C8C" stroke-width="1"/>
<text font-size="8.6" text-anchor="middle" fill="#444444" stroke="#444444" stroke-width="0.22" transform="translate(298.40 644.30) scale(0.9 1)">1e+00</text>
<line x1="133.5" y1="635.5" x2="133.5" y2="641" stroke="#000" stroke-width="1.15"/>
<line x1="154.5" y1="635.5" x2="154.5" y2="641" stroke="#000" stroke-width="1.15"/>
<line x1="173.5" y1="635.5" x2="173.5" y2="641" stroke="#000" stroke-width="1.15"/>
<line x1="193.5" y1="635.5" x2="193.5" y2="641" stroke="#000" stroke-width="1.15"/>
<line x1="214.5" y1="635.5" x2="214.5" y2="641" stroke="#000" stroke-width="1.15"/>
<line x1="234.5" y1="635.5" x2="234.5" y2="641" stroke="#000" stroke-width="1.15"/>
<line x1="255.5" y1="635.5" x2="255.5" y2="641" stroke="#000" stroke-width="1.15"/>
<text x="16.6" y="464.0" font-size="8.25" font-weight="bold" text-anchor="start" fill="#000000">Ciprofloxacin effect</text>
<text x="178.6" y="662.8" font-size="8.25" font-weight="bold" text-anchor="middle" fill="#000000">Ciprofloxacin concentration (mg/l)</text>
<text x="7.1" y="551.5" font-size="8.25" font-weight="bold" text-anchor="middle" fill="#000000" transform="rotate(-90 7.1 551.5)">Effect</text>
<line x1="33.8" y1="675.3" x2="40.199999999999996" y2="675.3" stroke="#F8766D" stroke-width="1.6"/>
<text x="43.8" y="678.6" font-size="8.25" font-weight="bold" text-anchor="start" fill="#000000">Gentamicin-ciprofloxacin</text>
<line x1="146.1" y1="675.3" x2="152.5" y2="675.3" stroke="#00BA38" stroke-width="1.6"/>
<text x="155.8" y="678.6" font-size="8.25" font-weight="bold" text-anchor="start" fill="#000000">Meropenem-ciprofloxacin</text>
<line x1="259.7" y1="675.3" x2="266.09999999999997" y2="675.3" stroke="#619CFF" stroke-width="1.6"/>
<text x="269.9" y="678.6" font-size="8.25" font-weight="bold" text-anchor="start" fill="#000000">Mono-therapy</text>
<line x1="414.75" y1="10.5" x2="414.75" y2="176.5" stroke="#F6F6F6" stroke-width="1"/>
<line x1="473.65" y1="10.5" x2="473.65" y2="176.5" stroke="#F6F6F6" stroke-width="1"/>
<line x1="532.55" y1="10.5" x2="532.55" y2="176.5" stroke="#F6F6F6" stroke-width="1"/>
<line x1="591.45" y1="10.5" x2="591.45" y2="176.5" stroke="#F6F6F6" stroke-width="1"/>
<line x1="650.35" y1="10.5" x2="650.35" y2="176.5" stroke="#F6F6F6" stroke-width="1"/>
<line x1="371.5" y1="160.8625" x2="682.5" y2="160.8625" stroke="#F6F6F6" stroke-width="1"/>
<line x1="371.5" y1="119.98750000000001" x2="682.5" y2="119.98750000000001" stroke="#F6F6F6" stroke-width="1"/>
<line x1="371.5" y1="79.11250000000001" x2="682.5" y2="79.11250000000001" stroke="#F6F6F6" stroke-width="1"/>
<line x1="371.5" y1="38.23750000000001" x2="682.5" y2="38.23750000000001" stroke="#F6F6F6" stroke-width="1"/>
<line x1="385.3" y1="10.5" x2="385.3" y2="176.5" stroke="#F2F2F2" stroke-width="1"/>
<line x1="444.2" y1="10.5" x2="444.2" y2="176.5" stroke="#F2F2F2" stroke-width="1"/>
<line x1="503.1" y1="10.5" x2="503.1" y2="176.5" stroke="#F2F2F2" stroke-width="1"/>
<line x1="562.0" y1="10.5" x2="562.0" y2="176.5" stroke="#F2F2F2" stroke-width="1"/>
<line x1="620.9" y1="10.5" x2="620.9" y2="176.5" stroke="#F2F2F2" stroke-width="1"/>
<line x1="679.8" y1="10.5" x2="679.8" y2="176.5" stroke="#F2F2F2" stroke-width="1"/>
<line x1="371.5" y1="140.425" x2="682.5" y2="140.425" stroke="#F2F2F2" stroke-width="1"/>
<line x1="371.5" y1="99.55000000000001" x2="682.5" y2="99.55000000000001" stroke="#F2F2F2" stroke-width="1"/>
<line x1="371.5" y1="58.67500000000001" x2="682.5" y2="58.67500000000001" stroke="#F2F2F2" stroke-width="1"/>
<line x1="371.5" y1="17.80000000000001" x2="682.5" y2="17.80000000000001" stroke="#F2F2F2" stroke-width="1"/>
<polyline points="385.3,17.8 385.4,18.5 385.5,19.2 385.6,20.0 385.7,20.7 385.8,21.4 385.9,22.1 386.0,23.0 386.1,23.9 386.3,24.8 386.4,25.7 386.5,26.6 386.6,27.5 386.8,28.4 386.9,29.2 387.0,30.1 387.1,31.0 387.3,31.8 387.4,32.7 387.5,33.5 387.6,34.4 387.8,35.2 387.9,36.0 388.0,36.9 388.1,37.7 388.3,38.5 388.4,39.3 388.5,40.1 388.6,40.9 388.7,41.7 388.9,42.5 389.0,43.3 389.1,44.1 389.2,44.9 389.4,45.6 389.5,46.4 389.6,47.2 389.7,47.9 389.9,48.7 390.0,49.4 390.1,50.2 390.2,50.9 390.4,51.6 390.5,52.4 390.6,53.1 390.7,53.8 390.9,54.5 391.0,55.2 391.1,55.9 391.2,56.6 391.4,57.3 391.5,58.0 391.6,58.7 391.7,59.4 391.9,60.1 392.0,60.8 392.2,61.6 392.3,62.5 392.5,63.4 392.6,64.2 392.8,65.1 393.0,65.9 393.1,66.7 393.3,67.6 393.5,68.4 393.6,69.2 393.8,70.0 393.9,70.8 394.1,71.6 394.3,72.4 394.4,73.1 394.6,73.9 394.8,74.7 394.9,75.4 395.1,76.2 395.2,76.9 395.4,77.7 395.6,78.4 395.7,79.2 395.9,79.9 396.1,80.6 396.2,81.3 396.4,82.0 396.5,82.7 396.7,83.4 396.9,84.1 397.0,84.8 397.2,85.5 397.4,86.1 397.5,86.8 397.7,87.5 397.8,88.1 398.0,88.8 398.2,89.4 398.3,90.1 398.5,90.9 398.8,91.7 399.0,92.5 399.2,93.3 399.4,94.1 399.6,94.9 399.8,95.7 400.0,96.4 400.2,97.2 400.4,97.9 400.7,98.7 400.9,99.4 401.1,100.1 401.3,100.9 401.5,101.6 401.7,102.3 401.9,103.0 402.1,103.7 402.3,104.3 402.6,105.0 402.8,105.7 403.0,106.3 403.2,107.0 403.4,107.7 403.6,108.3 403.8,108.9 404.0,109.6 404.2,110.2 404.5,110.8 404.7,111.4 404.9,112.0 405.1,112.6 405.4,113.4 405.6,114.1 405.9,114.9 406.2,115.6 406.5,116.3 406.7,117.0 407.0,117.7 407.3,118.4 407.6,119.1 407.8,119.8 408.1,120.4 408.4,121.1 408.7,121.7 408.9,122.4 409.2,123.0 409.5,123.6 409.8,124.3 410.0,124.9 410.3,125.5 410.6,126.0 410.9,126.6 411.1,127.2 411.4,127.8 411.7,128.3 411.9,128.9 412.2,129.4 412.5,129.9 412.8,130.5 413.1,131.1 413.5,131.8 413.8,132.5 414.2,133.1 414.6,133.7 414.9,134.3 415.3,134.9 415.6,135.5 416.0,136.1 416.3,136.7 416.7,137.3 417.1,137.8 417.4,138.4 417.8,138.9 418.1,139.4 418.5,139.9 418.8,140.4 419.2,140.9 419.6,141.4 419.9,141.9 420.3,142.4 420.6,142.8 421.0,143.3 421.3,143.7 421.8,144.3 422.3,144.9 422.7,145.4 423.2,145.9 423.7,146.5 424.1,147.0 424.6,147.5 425.0,148.0 425.5,148.4 426.0,148.9 426.4,149.3 426.9,149.8 427.4,150.2 427.8,150.6 428.3,151.0 428.8,151.4 429.2,151.8 429.7,152.2 430.1,152.6 430.6,153.0 431.1,153.3 431.5,153.7 432.0,154.0 432.6,154.4 433.2,154.9 433.8,155.3 434.4,155.7 435.0,156.0 435.6,156.4 436.2,156.8 436.8,157.1 437.4,157.5 438.0,157.8 438.6,158.1 439.2,158.4 439.8,158.7 440.4,159.0 441.0,159.3 441.6,159.6 442.3,159.8 442.9,160.1 443.5,160.4 444.1,160.6 444.7,160.8 445.3,161.1 445.9,161.3 446.5,161.5 447.1,161.7 447.7,161.9 448.3,162.1 449.1,162.4 449.9,162.6 450.6,162.8 451.4,163.1 452.2,163.3 453.0,163.5 453.8,163.7 454.6,163.8 455.3,164.0 456.1,164.2 456.9,164.4 457.7,164.5 458.5,164.7 459.3,164.8 460.0,165.0 460.8,165.1 461.6,165.2 462.4,165.4 463.2,165.5 464.0,165.6 464.7,165.7 465.5,165.8 466.3,165.9 467.1,166.0 467.9,166.1 468.7,166.2 469.4,166.3 470.2,166.4 471.0,166.5 471.8,166.6 472.6,166.6 473.4,166.7 474.1,166.8 474.9,166.9 475.7,166.9 476.5,167.0 477.3,167.0 478.1,167.1 478.9,167.2 479.6,167.2 480.4,167.3 481.2,167.3 482.0,167.4 482.8,167.4 483.6,167.4 484.3,167.5 485.1,167.5 485.9,167.6 486.7,167.6 487.5,167.6 488.3,167.7 489.0,167.7 489.8,167.7 490.6,167.8 491.4,167.8 492.2,167.8 493.0,167.9 493.7,167.9 494.5,167.9 495.3,167.9 496.1,168.0 496.9,168.0 497.7,168.0 498.4,168.0 499.2,168.0 500.0,168.1 500.8,168.1 501.6,168.1 502.4,168.1 503.2,168.1 504.2,168.2 505.2,168.2 506.2,168.2 507.2,168.2 508.2,168.2 509.3,168.2 510.3,168.3 511.3,168.3 512.3,168.3 513.3,168.3 514.4,168.3 515.4,168.3 516.4,168.3 517.4,168.3 518.4,168.4 519.5,168.4 520.5,168.4 521.5,168.4 522.5,168.4 523.5,168.4 524.6,168.4 525.6,168.4 526.6,168.4 527.6,168.4 527.8,168.4" fill="none" stroke="#F8766D" stroke-width="1.5" stroke-linejoin="round" stroke-linecap="butt"/>
<polyline points="385.3,17.8 385.4,18.5 385.5,19.3 385.6,20.0 385.7,20.7 385.8,21.4 385.9,22.1 386.0,22.8 386.1,23.5 386.2,24.5 386.3,25.4 386.4,26.3 386.6,27.2 386.7,28.0 386.8,28.9 386.9,29.8 387.1,30.7 387.2,31.5 387.3,32.4 387.4,33.3 387.6,34.1 387.7,35.0 387.8,35.8 387.9,36.6 388.1,37.5 388.2,38.3 388.3,39.1 388.4,39.9 388.6,40.7 388.7,41.5 388.8,42.3 388.9,43.1 389.1,43.9 389.2,44.7 389.3,45.5 389.4,46.3 389.6,47.0 389.7,47.8 389.8,48.5 389.9,49.3 390.1,50.1 390.2,50.8 390.3,51.5 390.4,52.3 390.6,53.0 390.7,53.7 390.8,54.5 390.9,55.2 391.1,55.9 391.2,56.6 391.3,57.3 391.4,58.0 391.6,58.7 391.7,59.4 391.8,60.1 391.9,60.8 392.1,61.4 392.2,62.3 392.4,63.2 392.6,64.0 392.7,64.9 392.9,65.7 393.0,66.6 393.2,67.4 393.4,68.2 393.5,69.1 393.7,69.9 393.9,70.7 394.0,71.5 394.2,72.3 394.3,73.1 394.5,73.8 394.7,74.6 394.8,75.4 395.0,76.1 395.2,76.9 395.3,77.6 395.5,78.4 395.6,79.1 395.8,79.8 396.0,80.6 396.1,81.3 396.3,82.0 396.4,82.7 396.6,83.4 396.8,84.1 396.9,84.8 397.1,85.5 397.3,86.2 397.4,86.8 397.6,87.5 397.7,88.2 397.9,88.8 398.1,89.5 398.2,90.1 398.4,90.8 398.6,91.6 398.8,92.4 399.0,93.2 399.2,94.0 399.5,94.8 399.7,95.6 399.9,96.4 400.1,97.1 400.3,97.9 400.5,98.6 400.7,99.4 400.9,100.1 401.1,100.8 401.4,101.5 401.6,102.3 401.8,103.0 402.0,103.7 402.2,104.3 402.4,105.0 402.6,105.7 402.8,106.4 403.0,107.0 403.3,107.7 403.5,108.3 403.7,109.0 403.9,109.6 404.1,110.2 404.3,110.8 404.5,111.4 404.7,112.1 404.9,112.7 405.2,113.2 405.4,114.0 405.7,114.8 406.0,115.5 406.3,116.2 406.5,116.9 406.8,117.7 407.1,118.4 407.3,119.1 407.6,119.7 407.9,120.4 408.2,121.1 408.4,121.7 408.7,122.4 409.0,123.0 409.3,123.6 409.5,124.2 409.8,124.9 410.1,125.5 410.4,126.1 410.6,126.6 410.9,127.2 411.2,127.8 411.5,128.3 411.7,128.9 412.0,129.4 412.3,130.0 412.6,130.5 412.9,131.2 413.3,131.9 413.6,132.5 414.0,133.2 414.3,133.8 414.7,134.4 415.1,135.0 415.4,135.6 415.8,136.2 416.1,136.8 416.5,137.4 416.8,137.9 417.2,138.5 417.6,139.0 417.9,139.5 418.3,140.0 418.6,140.5 419.0,141.0 419.3,141.5 419.7,142.0 420.1,142.5 420.4,143.0 420.8,143.4 421.1,143.9 421.6,144.4 422.1,145.0 422.5,145.5 423.0,146.1 423.4,146.6 423.9,147.1 424.4,147.6 424.8,148.1 425.3,148.6 425.8,149.0 426.2,149.5 426.7,149.9 427.2,150.3 427.6,150.8 428.1,151.2 428.5,151.6 429.0,152.0 429.5,152.4 429.9,152.7 430.4,153.1 430.9,153.5 431.3,153.8 431.8,154.1 432.4,154.6 433.0,155.0 433.6,155.4 434.2,155.8 434.8,156.2 435.4,156.6 436.0,156.9 436.6,157.3 437.2,157.6 437.8,157.9 438.4,158.2 439.0,158.6 439.6,158.9 440.2,159.1 440.8,159.4 441.4,159.7 442.0,160.0 442.6,160.2 443.3,160.5 443.9,160.7 444.5,161.0 445.1,161.2 445.7,161.4 446.3,161.6 446.9,161.8 447.5,162.0 448.3,162.3 449.0,162.5 449.8,162.8 450.6,163.0 451.4,163.2 452.2,163.4 453.0,163.6 453.7,163.8 454.5,164.0 455.3,164.2 456.1,164.3 456.9,164.5 457.7,164.6 458.4,164.8 459.2,164.9 460.0,165.1 460.8,165.2 461.6,165.3 462.4,165.5 463.1,165.6 463.9,165.7 464.7,165.8 465.5,165.9 466.3,166.0 467.1,166.1 467.9,166.2 468.6,166.3 469.4,166.4 470.2,166.5 471.0,166.6 471.8,166.6 472.6,166.7 473.3,166.8 474.1,166.8 474.9,166.9 475.7,167.0 476.5,167.0 477.3,167.1 478.0,167.2 478.8,167.2 479.6,167.3 480.4,167.3 481.2,167.4 482.0,167.4 482.7,167.4 483.5,167.5 484.3,167.5 485.1,167.6 485.9,167.6 486.7,167.6 487.4,167.7 488.2,167.7 489.0,167.7 489.8,167.8 490.6,167.8 491.4,167.8 492.2,167.9 492.9,167.9 493.7,167.9 494.5,167.9 495.3,168.0 496.1,168.0 496.9,168.0 497.6,168.0 498.4,168.0 499.2,168.1 500.0,168.1 500.8,168.1 501.6,168.1 502.3,168.1 503.4,168.2 504.4,168.2 505.4,168.2 506.4,168.2 507.4,168.2 508.5,168.2 509.5,168.3 510.5,168.3 511.5,168.3 512.5,168.3 513.6,168.3 514.6,168.3 515.6,168.3 516.6,168.3 517.6,168.4 518.6,168.4 519.7,168.4 520.7,168.4 521.7,168.4 522.7,168.4 523.7,168.4 524.8,168.4 525.8,168.4 526.6,168.4" fill="none" stroke="#CD9600" stroke-width="1.5" stroke-linejoin="round" stroke-linecap="butt"/>
<polyline points="385.3,17.8 385.4,18.6 385.5,19.3 385.6,20.0 385.7,20.8 385.8,21.5 385.9,22.2 386.0,23.0 386.1,23.7 386.2,24.4 386.3,25.1 386.4,25.9 386.5,26.6 386.5,27.3 386.7,28.2 386.8,29.1 386.9,30.0 387.0,30.9 387.2,31.8 387.3,32.7 387.4,33.5 387.5,34.4 387.7,35.3 387.8,36.2 387.9,37.0 388.0,37.9 388.2,38.7 388.3,39.5 388.4,40.4 388.5,41.2 388.7,42.0 388.8,42.8 388.9,43.7 389.0,44.5 389.2,45.3 389.3,46.1 389.4,46.9 389.5,47.6 389.7,48.4 389.8,49.2 389.9,50.0 390.0,50.7 390.2,51.5 390.3,52.3 390.4,53.0 390.5,53.8 390.7,54.5 390.8,55.2 390.9,56.0 391.0,56.7 391.2,57.4 391.3,58.1 391.4,58.9 391.5,59.6 391.7,60.3 391.8,61.0 391.9,61.7 392.0,62.4 392.2,63.1 392.3,63.7 392.4,64.4 392.6,65.3 392.7,66.2 392.9,67.0 393.1,67.9 393.2,68.7 393.4,69.6 393.6,70.4 393.7,71.2 393.9,72.0 394.0,72.8 394.2,73.6 394.4,74.4 394.5,75.2 394.7,76.0 394.9,76.8 395.0,77.6 395.2,78.3 395.3,79.1 395.5,79.8 395.7,80.6 395.8,81.3 396.0,82.1 396.2,82.8 396.3,83.5 396.5,84.2 396.6,84.9 396.8,85.6 397.0,86.3 397.1,87.0 397.3,87.7 397.5,88.4 397.6,89.1 397.8,89.7 397.9,90.4 398.1,91.0 398.3,91.7 398.4,92.3 398.6,93.0 398.8,93.8 399.0,94.6 399.2,95.4 399.4,96.2 399.6,97.0 399.9,97.8 400.1,98.6 400.3,99.3 400.5,100.1 400.7,100.8 400.9,101.6 401.1,102.3 401.3,103.0 401.5,103.7 401.8,104.4 402.0,105.1 402.2,105.8 402.4,106.5 402.6,107.2 402.8,107.9 403.0,108.5 403.2,109.2 403.4,109.8 403.7,110.5 403.9,111.1 404.1,111.7 404.3,112.3 404.5,113.0 404.7,113.6 404.9,114.2 405.1,114.8 405.4,115.5 405.7,116.3 406.0,117.0 406.2,117.7 406.5,118.5 406.8,119.2 407.1,119.9 407.3,120.6 407.6,121.2 407.9,121.9 408.2,122.6 408.4,123.2 408.7,123.9 409.0,124.5 409.3,125.1 409.5,125.7 409.8,126.3 410.1,126.9 410.4,127.5 410.6,128.1 410.9,128.7 411.2,129.2 411.4,129.8 411.7,130.3 412.0,130.9 412.3,131.4 412.5,131.9 412.9,132.6 413.3,133.3 413.6,133.9 414.0,134.6 414.3,135.2 414.7,135.8 415.0,136.4 415.4,137.0 415.8,137.6 416.1,138.1 416.5,138.7 416.8,139.2 417.2,139.8 417.5,140.3 417.9,140.8 418.3,141.3 418.6,141.8 419.0,142.3 419.3,142.8 419.7,143.3 420.0,143.7 420.4,144.2 420.8,144.6 421.2,145.2 421.7,145.8 422.1,146.3 422.6,146.8 423.1,147.4 423.5,147.9 424.0,148.4 424.5,148.8 424.9,149.3 425.4,149.8 425.9,150.2 426.3,150.7 426.8,151.1 427.2,151.5 427.7,151.9 428.2,152.3 428.6,152.7 429.1,153.1 429.6,153.4 430.0,153.8 430.5,154.1 431.0,154.5 431.6,154.9 432.2,155.3 432.8,155.7 433.4,156.1 434.0,156.5 434.6,156.9 435.2,157.3 435.8,157.6 436.4,157.9 437.0,158.3 437.6,158.6 438.2,158.9 438.8,159.2 439.4,159.5 440.0,159.8 440.6,160.0 441.2,160.3 441.8,160.5 442.4,160.8 443.0,161.0 443.6,161.3 444.2,161.5 444.8,161.7 445.4,161.9 446.0,162.1 446.6,162.3 447.4,162.6 448.2,162.8 449.0,163.0 449.8,163.3 450.6,163.5 451.3,163.7 452.1,163.9 452.9,164.1 453.7,164.2 454.5,164.4 455.3,164.6 456.0,164.7 456.8,164.9 457.6,165.0 458.4,165.2 459.2,165.3 460.0,165.4 460.7,165.6 461.5,165.7 462.3,165.8 463.1,165.9 463.9,166.0 464.7,166.1 465.4,166.2 466.2,166.3 467.0,166.4 467.8,166.5 468.6,166.6 469.4,166.6 470.1,166.7 470.9,166.8 471.7,166.9 472.5,166.9 473.3,167.0 474.1,167.0 474.9,167.1 475.6,167.2 476.4,167.2 477.2,167.3 478.0,167.3 478.8,167.4 479.6,167.4 480.3,167.5 481.1,167.5 481.9,167.6 482.7,167.6 483.5,167.6 484.3,167.7 485.0,167.7 485.8,167.7 486.6,167.8 487.4,167.8 488.2,167.8 489.0,167.9 489.7,167.9 490.5,167.9 491.3,167.9 492.1,168.0 492.9,168.0 493.7,168.0 494.4,168.0 495.2,168.0 496.0,168.1 496.8,168.1 497.6,168.1 498.4,168.1 499.2,168.1 499.9,168.2 501.0,168.2 502.0,168.2 503.0,168.2 504.0,168.2 505.0,168.2 506.1,168.3 507.1,168.3 508.1,168.3 509.1,168.3 510.1,168.3 511.1,168.3 512.2,168.3 513.2,168.4 514.2,168.4 515.2,168.4 516.2,168.4 517.3,168.4 518.3,168.4 519.3,168.4 520.3,168.4 521.3,168.4 522.4,168.4 522.7,168.4" fill="none" stroke="#7CAE00" stroke-width="1.5" stroke-linejoin="round" stroke-linecap="butt"/>
<polyline points="385.3,17.8 385.4,18.6 385.5,19.4 385.6,20.1 385.7,20.9 385.8,21.7 385.9,22.4 386.0,23.2 386.1,23.9 386.2,24.7 386.3,25.4 386.4,26.1 386.5,26.9 386.5,27.6 386.6,28.3 386.7,29.1 386.8,29.8 386.9,30.5 387.0,31.2 387.1,31.9 387.2,32.6 387.3,33.5 387.5,34.5 387.6,35.4 387.7,36.2 387.8,37.1 388.0,38.0 388.1,38.9 388.2,39.8 388.3,40.6 388.5,41.5 388.6,42.3 388.7,43.2 388.8,44.0 389.0,44.9 389.1,45.7 389.2,46.5 389.3,47.3 389.5,48.1 389.6,49.0 389.7,49.8 389.8,50.6 390.0,51.3 390.1,52.1 390.2,52.9 390.3,53.7 390.5,54.5 390.6,55.2 390.7,56.0 390.8,56.7 391.0,57.5 391.1,58.2 391.2,59.0 391.3,59.7 391.5,60.4 391.6,61.2 391.7,61.9 391.8,62.6 392.0,63.3 392.1,64.0 392.2,64.7 392.3,65.4 392.5,66.1 392.6,66.8 392.7,67.5 392.8,68.2 393.0,69.0 393.2,69.9 393.3,70.8 393.5,71.6 393.7,72.5 393.8,73.3 394.0,74.1 394.1,75.0 394.3,75.8 394.5,76.6 394.6,77.4 394.8,78.2 395.0,79.0 395.1,79.7 395.3,80.5 395.4,81.3 395.6,82.0 395.8,82.8 395.9,83.5 396.1,84.3 396.3,85.0 396.4,85.7 396.6,86.5 396.7,87.2 396.9,87.9 397.1,88.6 397.2,89.3 397.4,90.0 397.6,90.7 397.7,91.3 397.9,92.0 398.0,92.7 398.2,93.4 398.4,94.0 398.5,94.7 398.7,95.3 398.9,95.9 399.1,96.8 399.3,97.6 399.5,98.4 399.7,99.2 399.9,100.0 400.1,100.7 400.3,101.5 400.5,102.3 400.8,103.0 401.0,103.7 401.2,104.5 401.4,105.2 401.6,105.9 401.8,106.6 402.0,107.3 402.2,108.0 402.4,108.7 402.7,109.4 402.9,110.1 403.1,110.7 403.3,111.4 403.5,112.0 403.7,112.7 403.9,113.3 404.1,113.9 404.3,114.5 404.6,115.1 404.8,115.8 405.0,116.3 405.2,116.9 405.5,117.7 405.7,118.4 406.0,119.2 406.3,119.9 406.6,120.6 406.8,121.3 407.1,122.0 407.4,122.7 407.7,123.4 407.9,124.0 408.2,124.7 408.5,125.3 408.8,126.0 409.0,126.6 409.3,127.2 409.6,127.8 409.9,128.4 410.1,129.0 410.4,129.6 410.7,130.2 410.9,130.7 411.2,131.3 411.5,131.8 411.8,132.4 412.0,132.9 412.4,133.6 412.8,134.2 413.1,134.9 413.5,135.5 413.8,136.2 414.2,136.8 414.5,137.4 414.9,138.0 415.3,138.6 415.6,139.1 416.0,139.7 416.3,140.2 416.7,140.8 417.0,141.3 417.4,141.8 417.8,142.3 418.1,142.8 418.5,143.3 418.8,143.8 419.2,144.3 419.5,144.7 419.9,145.2 420.3,145.6 420.7,146.2 421.2,146.8 421.6,147.3 422.1,147.8 422.6,148.3 423.0,148.8 423.5,149.3 424.0,149.8 424.4,150.3 424.9,150.7 425.4,151.1 425.8,151.6 426.3,152.0 426.7,152.4 427.2,152.8 427.7,153.2 428.1,153.6 428.6,153.9 429.1,154.3 429.5,154.7 430.0,155.0 430.6,155.4 431.2,155.8 431.8,156.3 432.4,156.6 433.0,157.0 433.6,157.4 434.2,157.8 434.8,158.1 435.4,158.4 436.0,158.8 436.6,159.1 437.2,159.4 437.8,159.7 438.4,160.0 439.0,160.2 439.6,160.5 440.2,160.7 440.8,161.0 441.4,161.2 442.1,161.5 442.7,161.7 443.3,161.9 443.9,162.1 444.5,162.3 445.1,162.5 445.9,162.8 446.6,163.0 447.4,163.3 448.2,163.5 449.0,163.7 449.8,163.9 450.6,164.1 451.3,164.3 452.1,164.4 452.9,164.6 453.7,164.8 454.5,164.9 455.3,165.1 456.0,165.2 456.8,165.4 457.6,165.5 458.4,165.6 459.2,165.7 460.0,165.9 460.7,166.0 461.5,166.1 462.3,166.2 463.1,166.3 463.9,166.4 464.7,166.5 465.4,166.5 466.2,166.6 467.0,166.7 467.8,166.8 468.6,166.9 469.4,166.9 470.2,167.0 470.9,167.1 471.7,167.1 472.5,167.2 473.3,167.2 474.1,167.3 474.9,167.3 475.6,167.4 476.4,167.4 477.2,167.5 478.0,167.5 478.8,167.6 479.6,167.6 480.3,167.6 481.1,167.7 481.9,167.7 482.7,167.8 483.5,167.8 484.3,167.8 485.0,167.9 485.8,167.9 486.6,167.9 487.4,167.9 488.2,168.0 489.0,168.0 489.7,168.0 490.5,168.0 491.3,168.0 492.1,168.1 492.9,168.1 493.7,168.1 494.5,168.1 495.2,168.1 496.0,168.2 497.0,168.2 498.1,168.2 499.1,168.2 500.1,168.2 501.1,168.3 502.1,168.3 503.2,168.3 504.2,168.3 505.2,168.3 506.2,168.3 507.2,168.3 508.2,168.3 509.3,168.4 510.3,168.4 511.3,168.4 512.3,168.4 513.3,168.4 514.4,168.4 515.4,168.4 516.4,168.4 517.4,168.4 517.7,168.4" fill="none" stroke="#00BE67" stroke-width="1.5" stroke-linejoin="round" stroke-linecap="butt"/>
<polyline points="385.3,17.8 385.4,18.6 385.5,19.4 385.6,20.3 385.7,21.1 385.8,21.9 385.9,22.7 386.0,23.5 386.1,24.2 386.2,25.0 386.3,25.8 386.4,26.6 386.5,27.4 386.5,28.1 386.6,28.9 386.7,29.7 386.8,30.4 386.9,31.2 387.0,31.9 387.1,32.7 387.2,33.4 387.3,34.1 387.4,34.9 387.5,35.6 387.6,36.3 387.7,37.1 387.8,37.8 387.9,38.5 388.0,39.2 388.1,39.9 388.2,40.8 388.3,41.7 388.5,42.6 388.6,43.5 388.7,44.4 388.8,45.3 389.0,46.1 389.1,47.0 389.2,47.9 389.3,48.7 389.5,49.6 389.6,50.4 389.7,51.2 389.8,52.1 390.0,52.9 390.1,53.7 390.2,54.5 390.3,55.3 390.5,56.1 390.6,56.9 390.7,57.7 390.8,58.5 391.0,59.3 391.1,60.1 391.2,60.8 391.3,61.6 391.5,62.4 391.6,63.1 391.7,63.9 391.8,64.6 392.0,65.3 392.1,66.1 392.2,66.8 392.3,67.5 392.5,68.2 392.6,68.9 392.7,69.6 392.8,70.3 393.0,71.0 393.1,71.7 393.2,72.4 393.3,73.1 393.5,73.8 393.6,74.6 393.8,75.5 393.9,76.4 394.1,77.2 394.3,78.0 394.4,78.9 394.6,79.7 394.8,80.5 394.9,81.3 395.1,82.1 395.2,82.9 395.4,83.7 395.6,84.5 395.7,85.3 395.9,86.0 396.1,86.8 396.2,87.5 396.4,88.3 396.5,89.0 396.7,89.8 396.9,90.5 397.0,91.2 397.2,91.9 397.4,92.6 397.5,93.3 397.7,94.0 397.8,94.7 398.0,95.4 398.2,96.0 398.3,96.7 398.5,97.4 398.7,98.0 398.8,98.7 399.0,99.3 399.2,100.1 399.4,101.0 399.6,101.8 399.8,102.6 400.0,103.3 400.2,104.1 400.5,104.9 400.7,105.7 400.9,106.4 401.1,107.1 401.3,107.9 401.5,108.6 401.7,109.3 401.9,110.0 402.1,110.7 402.4,111.4 402.6,112.1 402.8,112.8 403.0,113.4 403.2,114.1 403.4,114.7 403.6,115.4 403.8,116.0 404.0,116.6 404.3,117.3 404.5,117.9 404.7,118.5 404.9,119.1 405.1,119.7 405.4,120.4 405.7,121.2 405.9,121.9 406.2,122.6 406.5,123.3 406.7,124.0 407.0,124.7 407.3,125.4 407.6,126.1 407.8,126.7 408.1,127.4 408.4,128.0 408.7,128.6 408.9,129.3 409.2,129.9 409.5,130.5 409.8,131.1 410.0,131.6 410.3,132.2 410.6,132.8 410.9,133.3 411.1,133.9 411.4,134.4 411.7,134.9 412.0,135.6 412.4,136.3 412.8,136.9 413.1,137.6 413.5,138.2 413.8,138.8 414.2,139.4 414.5,140.0 414.9,140.6 415.3,141.1 415.6,141.7 416.0,142.2 416.3,142.7 416.7,143.3 417.0,143.8 417.4,144.3 417.8,144.7 418.1,145.2 418.5,145.7 418.8,146.2 419.2,146.6 419.6,147.2 420.1,147.7 420.6,148.3 421.0,148.8 421.5,149.3 422.0,149.8 422.4,150.3 422.9,150.8 423.4,151.2 423.8,151.7 424.3,152.1 424.7,152.6 425.2,153.0 425.7,153.4 426.1,153.8 426.6,154.2 427.1,154.5 427.5,154.9 428.0,155.3 428.5,155.6 428.9,155.9 429.5,156.4 430.1,156.8 430.7,157.2 431.3,157.6 431.9,157.9 432.5,158.3 433.1,158.6 433.7,159.0 434.3,159.3 435.0,159.6 435.6,159.9 436.2,160.2 436.8,160.5 437.4,160.7 438.0,161.0 438.6,161.3 439.2,161.5 439.8,161.7 440.4,162.0 441.0,162.2 441.6,162.4 442.2,162.6 442.8,162.8 443.6,163.1 444.4,163.3 445.1,163.5 445.9,163.8 446.7,164.0 447.5,164.2 448.3,164.4 449.1,164.5 449.8,164.7 450.6,164.9 451.4,165.0 452.2,165.2 453.0,165.3 453.8,165.5 454.5,165.6 455.3,165.7 456.1,165.9 456.9,166.0 457.7,166.1 458.5,166.2 459.3,166.3 460.0,166.4 460.8,166.5 461.6,166.6 462.4,166.7 463.2,166.7 464.0,166.8 464.7,166.9 465.5,167.0 466.3,167.0 467.1,167.1 467.9,167.2 468.7,167.2 469.4,167.3 470.2,167.3 471.0,167.4 471.8,167.4 472.6,167.5 473.4,167.5 474.1,167.6 474.9,167.6 475.7,167.7 476.5,167.7 477.3,167.7 478.1,167.8 478.8,167.8 479.6,167.8 480.4,167.9 481.2,167.9 482.0,167.9 482.8,168.0 483.6,168.0 484.3,168.0 485.1,168.0 485.9,168.1 486.7,168.1 487.5,168.1 488.3,168.1 489.0,168.1 489.8,168.2 490.6,168.2 491.4,168.2 492.4,168.2 493.4,168.2 494.4,168.2 495.5,168.3 496.5,168.3 497.5,168.3 498.5,168.3 499.5,168.3 500.6,168.3 501.6,168.3 502.6,168.4 503.6,168.4 504.6,168.4 505.7,168.4 506.7,168.4 507.7,168.4 508.7,168.4 509.7,168.4 510.8,168.4 510.8,168.4" fill="none" stroke="#00BFC4" stroke-width="1.5" stroke-linejoin="round" stroke-linecap="butt"/>
<polyline points="385.3,17.8 385.4,18.7 385.5,19.6 385.6,20.4 385.7,21.3 385.8,22.2 385.9,23.0 386.0,23.9 386.1,24.7 386.2,25.6 386.3,26.4 386.4,27.2 386.5,28.1 386.5,28.9 386.6,29.7 386.7,30.5 386.8,31.3 386.9,32.1 387.0,32.9 387.1,33.7 387.2,34.5 387.3,35.3 387.4,36.1 387.5,36.8 387.6,37.6 387.7,38.4 387.8,39.1 387.9,39.9 388.0,40.7 388.1,41.4 388.2,42.2 388.3,42.9 388.4,43.6 388.5,44.4 388.6,45.1 388.7,45.8 388.8,46.5 388.9,47.2 389.0,48.0 389.0,48.7 389.2,49.6 389.3,50.5 389.4,51.4 389.5,52.3 389.7,53.2 389.8,54.0 389.9,54.9 390.0,55.8 390.2,56.6 390.3,57.5 390.4,58.3 390.5,59.2 390.7,60.0 390.8,60.8 390.9,61.6 391.0,62.4 391.2,63.3 391.3,64.1 391.4,64.8 391.5,65.6 391.7,66.4 391.8,67.2 391.9,68.0 392.0,68.7 392.2,69.5 392.3,70.2 392.4,71.0 392.5,71.7 392.7,72.5 392.8,73.2 392.9,73.9 393.0,74.6 393.2,75.4 393.3,76.1 393.4,76.8 393.5,77.5 393.7,78.2 393.8,78.9 393.9,79.5 394.0,80.2 394.2,81.1 394.4,81.9 394.5,82.8 394.7,83.7 394.9,84.5 395.0,85.3 395.2,86.1 395.3,87.0 395.5,87.8 395.7,88.6 395.8,89.3 396.0,90.1 396.2,90.9 396.3,91.7 396.5,92.4 396.6,93.2 396.8,93.9 397.0,94.7 397.1,95.4 397.3,96.1 397.5,96.8 397.6,97.5 397.8,98.2 397.9,98.9 398.1,99.6 398.3,100.3 398.4,101.0 398.6,101.6 398.8,102.3 398.9,103.0 399.1,103.6 399.2,104.3 399.5,105.1 399.7,105.9 399.9,106.7 400.1,107.5 400.3,108.3 400.5,109.0 400.7,109.8 400.9,110.6 401.1,111.3 401.4,112.0 401.6,112.8 401.8,113.5 402.0,114.2 402.2,114.9 402.4,115.6 402.6,116.2 402.8,116.9 403.0,117.6 403.3,118.2 403.5,118.9 403.7,119.5 403.9,120.1 404.1,120.8 404.3,121.4 404.5,122.0 404.7,122.6 404.9,123.2 405.2,123.9 405.5,124.7 405.8,125.4 406.0,126.1 406.3,126.8 406.6,127.5 406.9,128.2 407.1,128.9 407.4,129.5 407.7,130.2 408.0,130.8 408.2,131.4 408.5,132.1 408.8,132.7 409.1,133.3 409.3,133.8 409.6,134.4 409.9,135.0 410.2,135.6 410.4,136.1 410.7,136.6 411.0,137.2 411.3,137.8 411.7,138.5 412.0,139.2 412.4,139.8 412.8,140.4 413.1,141.0 413.5,141.6 413.8,142.2 414.2,142.8 414.5,143.3 414.9,143.9 415.3,144.4 415.6,144.9 416.0,145.4 416.3,145.9 416.7,146.4 417.0,146.9 417.4,147.4 417.8,147.8 418.1,148.3 418.6,148.8 419.0,149.4 419.5,149.9 420.0,150.4 420.4,150.9 420.9,151.4 421.4,151.9 421.8,152.4 422.3,152.8 422.8,153.3 423.2,153.7 423.7,154.1 424.1,154.5 424.6,154.9 425.1,155.3 425.5,155.7 426.0,156.0 426.5,156.4 426.9,156.7 427.5,157.1 428.1,157.6 428.7,157.9 429.3,158.3 429.9,158.7 430.5,159.1 431.1,159.4 431.8,159.7 432.4,160.1 433.0,160.4 433.6,160.7 434.2,160.9 434.8,161.2 435.4,161.5 436.0,161.7 436.6,162.0 437.2,162.2 437.8,162.4 438.4,162.7 439.0,162.9 439.6,163.1 440.2,163.3 441.0,163.5 441.8,163.8 442.5,164.0 443.3,164.2 444.1,164.4 444.9,164.6 445.7,164.8 446.5,165.0 447.2,165.1 448.0,165.3 448.8,165.4 449.6,165.6 450.4,165.7 451.2,165.9 452.0,166.0 452.7,166.1 453.5,166.2 454.3,166.3 455.1,166.4 455.9,166.5 456.7,166.6 457.4,166.7 458.2,166.8 459.0,166.9 459.8,167.0 460.6,167.0 461.4,167.1 462.1,167.2 462.9,167.2 463.7,167.3 464.5,167.4 465.3,167.4 466.1,167.5 466.8,167.5 467.6,167.6 468.4,167.6 469.2,167.7 470.0,167.7 470.8,167.7 471.5,167.8 472.3,167.8 473.1,167.8 473.9,167.9 474.7,167.9 475.5,167.9 476.3,168.0 477.0,168.0 477.8,168.0 478.6,168.0 479.4,168.1 480.2,168.1 481.0,168.1 481.7,168.1 482.5,168.2 483.3,168.2 484.1,168.2 484.9,168.2 485.9,168.2 486.9,168.2 487.9,168.3 488.9,168.3 490.0,168.3 491.0,168.3 492.0,168.3 493.0,168.3 494.0,168.4 495.1,168.4 496.1,168.4 497.1,168.4 498.1,168.4 499.1,168.4 500.2,168.4 501.2,168.4 502.1,168.4" fill="none" stroke="#00A9FF" stroke-width="1.5" stroke-linejoin="round" stroke-linecap="butt"/>
<polyline points="385.3,17.8 385.4,18.6 385.4,19.4 385.5,20.2 385.6,21.1 385.7,21.9 385.7,22.7 385.8,23.5 385.9,24.2 386.0,25.0 386.0,25.8 386.1,26.6 386.2,27.4 386.3,28.1 386.3,28.9 386.4,29.7 386.5,30.4 386.6,31.2 386.6,31.9 386.7,32.7 386.8,33.4 386.9,34.1 386.9,34.9 387.0,35.6 387.1,36.5 387.2,37.5 387.3,38.4 387.4,39.3 387.5,40.2 387.6,41.1 387.7,42.0 387.8,42.9 387.9,43.8 388.0,44.7 388.1,45.6 388.2,46.4 388.2,47.3 388.3,48.2 388.4,49.0 388.5,49.9 388.6,50.7 388.7,51.5 388.8,52.4 388.9,53.2 389.0,54.0 389.1,54.8 389.2,55.6 389.3,56.4 389.4,57.2 389.5,58.0 389.6,58.8 389.7,59.5 389.8,60.3 389.9,61.1 390.0,61.8 390.1,62.6 390.2,63.3 390.3,64.1 390.4,64.8 390.5,65.6 390.6,66.3 390.7,67.0 390.7,67.7 390.8,68.4 390.9,69.2 391.1,70.1 391.2,71.0 391.3,71.9 391.4,72.8 391.6,73.6 391.7,74.5 391.8,75.4 391.9,76.2 392.1,77.1 392.2,77.9 392.3,78.7 392.4,79.6 392.6,80.4 392.7,81.2 392.8,82.0 392.9,82.8 393.1,83.6 393.2,84.4 393.3,85.1 393.4,85.9 393.6,86.7 393.7,87.4 393.8,88.2 393.9,88.9 394.1,89.6 394.2,90.4 394.3,91.1 394.4,91.8 394.6,92.5 394.7,93.2 394.8,93.9 394.9,94.6 395.1,95.2 395.2,96.1 395.4,97.0 395.5,97.8 395.7,98.7 395.9,99.5 396.0,100.3 396.2,101.1 396.4,101.9 396.5,102.7 396.7,103.5 396.8,104.3 397.0,105.1 397.2,105.8 397.3,106.6 397.5,107.3 397.7,108.0 397.8,108.8 398.0,109.5 398.1,110.2 398.3,110.9 398.5,111.6 398.6,112.2 398.8,112.9 399.0,113.6 399.1,114.2 399.3,114.9 399.4,115.5 399.7,116.3 399.9,117.1 400.1,117.9 400.3,118.7 400.5,119.5 400.7,120.3 400.9,121.0 401.1,121.7 401.3,122.5 401.6,123.2 401.8,123.9 402.0,124.6 402.2,125.2 402.4,125.9 402.6,126.6 402.8,127.2 403.0,127.9 403.2,128.5 403.5,129.1 403.7,129.7 403.9,130.3 404.1,130.9 404.4,131.7 404.6,132.4 404.9,133.1 405.2,133.8 405.5,134.5 405.7,135.2 406.0,135.9 406.3,136.6 406.6,137.2 406.8,137.8 407.1,138.4 407.4,139.0 407.7,139.6 407.9,140.2 408.2,140.8 408.5,141.3 408.8,141.9 409.0,142.4 409.4,143.1 409.7,143.8 410.1,144.4 410.5,145.0 410.8,145.6 411.2,146.2 411.5,146.8 411.9,147.4 412.2,147.9 412.6,148.5 413.0,149.0 413.3,149.5 413.7,150.0 414.0,150.5 414.4,151.0 414.7,151.4 415.1,151.9 415.6,152.4 416.0,153.0 416.5,153.5 417.0,154.0 417.4,154.5 417.9,155.0 418.3,155.4 418.8,155.9 419.3,156.3 419.7,156.7 420.2,157.1 420.7,157.5 421.1,157.9 421.6,158.2 422.1,158.6 422.5,158.9 423.1,159.3 423.7,159.7 424.3,160.1 424.9,160.5 425.5,160.8 426.1,161.2 426.7,161.5 427.3,161.8 427.9,162.1 428.5,162.4 429.2,162.6 429.8,162.9 430.4,163.1 431.0,163.4 431.6,163.6 432.2,163.8 432.8,164.0 433.4,164.2 434.2,164.5 434.9,164.7 435.7,164.9 436.5,165.1 437.3,165.3 438.1,165.5 438.9,165.7 439.6,165.8 440.4,166.0 441.2,166.1 442.0,166.3 442.8,166.4 443.6,166.5 444.3,166.6 445.1,166.7 445.9,166.8 446.7,166.9 447.5,167.0 448.3,167.1 449.0,167.2 449.8,167.3 450.6,167.3 451.4,167.4 452.2,167.5 453.0,167.5 453.8,167.6 454.5,167.6 455.3,167.7 456.1,167.7 456.9,167.8 457.7,167.8 458.5,167.9 459.2,167.9 460.0,167.9 460.8,168.0 461.6,168.0 462.4,168.0 463.2,168.1 463.9,168.1 464.7,168.1 465.5,168.1 466.3,168.2 467.1,168.2 467.9,168.2 468.6,168.2 469.4,168.2 470.2,168.3 471.2,168.3 472.3,168.3 473.3,168.3 474.3,168.3 475.3,168.4 476.3,168.4 477.3,168.4 478.4,168.4 479.4,168.4 480.4,168.4 481.4,168.4 482.4,168.4 483.5,168.4 484.5,168.4 485.5,168.5 486.5,168.5 487.5,168.5 488.6,168.5 489.6,168.5 490.6,168.5 491.6,168.5 492.6,168.5 493.7,168.5 494.7,168.5 495.7,168.5 496.7,168.5 497.7,168.5 498.7,168.5 499.8,168.5 500.8,168.5 501.8,168.5 502.8,168.5 503.8,168.5 504.9,168.5 505.9,168.5 506.9,168.5 507.9,168.5 508.9,168.5 510.0,168.5 511.0,168.5 512.0,168.5 513.0,168.5 514.0,168.5 515.1,168.5 516.1,168.5 517.1,168.5 518.1,168.5 519.1,168.5 520.1,168.5 521.2,168.5 522.2,168.5 523.2,168.5 524.2,168.5 525.2,168.5 526.3,168.5 527.3,168.5 528.3,168.5 529.3,168.5 530.3,168.5 531.4,168.5 532.4,168.5 533.4,168.5 534.4,168.5 535.4,168.5 536.4,168.5 537.5,168.5 538.5,168.5 539.5,168.5 540.5,168.5 541.5,168.5 542.6,168.5 543.6,168.5 544.6,168.5 545.6,168.5 546.6,168.5 547.7,168.5 548.7,168.5 549.7,168.5 550.7,168.5 551.7,168.5 552.8,168.5 553.8,168.5 554.8,168.5 555.8,168.5 556.8,168.5 557.8,168.5 558.9,168.5 559.9,168.5 560.9,168.5 561.9,168.5 562.9,168.5 564.0,168.5 565.0,168.5 566.0,168.5 567.0,168.5 568.0,168.5 569.1,168.5 570.1,168.5 571.1,168.5 572.1,168.5 573.1,168.5 574.2,168.5 575.2,168.5 576.2,168.5 577.2,168.5 578.2,168.5 579.2,168.5 580.3,168.5 581.3,168.5 582.3,168.5 583.3,168.5 584.3,168.5 585.4,168.5 586.4,168.5 587.4,168.5 588.4,168.5 589.4,168.5 590.5,168.5 591.5,168.5 592.5,168.5 593.5,168.5 594.5,168.5 595.6,168.5 596.6,168.5 597.6,168.5 598.6,168.5 599.6,168.5 600.6,168.5 601.7,168.5 602.7,168.5 603.7,168.5 604.7,168.5 605.7,168.5 606.8,168.5 607.8,168.5 608.8,168.5 609.8,168.5 610.8,168.5 611.9,168.5 612.9,168.5 613.9,168.5 614.9,168.5 615.9,168.5 617.0,168.5 618.0,168.5 619.0,168.5 620.0,168.5 621.0,168.5 622.0,168.5 623.1,168.5 624.1,168.5 625.1,168.5 626.1,168.5 627.1,168.5 628.2,168.5 629.2,168.5 630.2,168.5 631.2,168.5 632.2,168.5 633.3,168.5 634.3,168.5 635.3,168.5 636.3,168.5 637.3,168.5 638.4,168.5 639.4,168.5 640.4,168.5 641.4,168.5 642.4,168.5 643.4,168.5 644.5,168.5 645.5,168.5 646.5,168.5 647.5,168.5 648.5,168.5 649.6,168.5 650.6,168.5 651.6,168.5 652.6,168.5 653.6,168.5 654.7,168.5 655.7,168.5 656.7,168.5 657.7,168.5 658.7,168.5 659.8,168.5 660.8,168.5 661.8,168.5 662.8,168.5 663.8,168.5 664.8,168.5 665.9,168.5 666.9,168.5 667.9,168.5 668.0,168.5" fill="none" stroke="#C77CFF" stroke-width="1.5" stroke-linejoin="round" stroke-linecap="butt"/>
<polyline points="385.3,17.8 668.0,17.8" fill="none" stroke="#FF61CC" stroke-width="1.6" stroke-linejoin="round" stroke-linecap="butt"/>
<line x1="371" y1="10.5" x2="683" y2="10.5" stroke="#A8A8A8" stroke-width="1"/>
<line x1="371.5" y1="10" x2="371.5" y2="177" stroke="#A8A8A8" stroke-width="1"/>
<line x1="371" y1="176.5" x2="683" y2="176.5" stroke="#A8A8A8" stroke-width="1"/>
<line x1="682.5" y1="10" x2="682.5" y2="177" stroke="#A8A8A8" stroke-width="1"/>
<line x1="369.2" y1="140.425" x2="371.5" y2="140.425" stroke="#8C8C8C" stroke-width="1"/>
<text font-size="8.6" text-anchor="end" fill="#444444" stroke="#444444" stroke-width="0.22" transform="translate(368.00 143.83) scale(0.9 1)">0.25</text>
<line x1="369.2" y1="99.55000000000001" x2="371.5" y2="99.55000000000001" stroke="#8C8C8C" stroke-width="1"/>
<text font-size="8.6" text-anchor="end" fill="#444444" stroke="#444444" stroke-width="0.22" transform="translate(368.00 102.95) scale(0.9 1)">0.50</text>
<line x1="369.2" y1="58.67500000000001" x2="371.5" y2="58.67500000000001" stroke="#8C8C8C" stroke-width="1"/>
<text font-size="8.6" text-anchor="end" fill="#444444" stroke="#444444" stroke-width="0.22" transform="translate(368.00 62.08) scale(0.9 1)">0.75</text>
<line x1="369.2" y1="17.80000000000001" x2="371.5" y2="17.80000000000001" stroke="#8C8C8C" stroke-width="1"/>
<text font-size="8.6" text-anchor="end" fill="#444444" stroke="#444444" stroke-width="0.22" transform="translate(368.00 21.20) scale(0.9 1)">1.00</text>
<line x1="385.3" y1="176.5" x2="385.3" y2="178.3" stroke="#8C8C8C" stroke-width="1"/>
<text font-size="8.6" text-anchor="middle" fill="#444444" stroke="#444444" stroke-width="0.22" transform="translate(385.30 185.20) scale(0.9 1)">0</text>
<line x1="444.2" y1="176.5" x2="444.2" y2="178.3" stroke="#8C8C8C" stroke-width="1"/>
<text font-size="8.6" text-anchor="middle" fill="#444444" stroke="#444444" stroke-width="0.22" transform="translate(444.20 185.20) scale(0.9 1)">5</text>
<line x1="503.1" y1="176.5" x2="503.1" y2="178.3" stroke="#8C8C8C" stroke-width="1"/>
<text font-size="8.6" text-anchor="middle" fill="#444444" stroke="#444444" stroke-width="0.22" transform="translate(503.10 185.20) scale(0.9 1)">10</text>
<line x1="562.0" y1="176.5" x2="562.0" y2="178.3" stroke="#8C8C8C" stroke-width="1"/>
<text font-size="8.6" text-anchor="middle" fill="#444444" stroke="#444444" stroke-width="0.22" transform="translate(562.00 185.20) scale(0.9 1)">15</text>
<line x1="620.9" y1="176.5" x2="620.9" y2="178.3" stroke="#8C8C8C" stroke-width="1"/>
<text font-size="8.6" text-anchor="middle" fill="#444444" stroke="#444444" stroke-width="0.22" transform="translate(620.90 185.20) scale(0.9 1)">20</text>
<line x1="679.8" y1="176.5" x2="679.8" y2="178.3" stroke="#8C8C8C" stroke-width="1"/>
<text font-size="8.6" text-anchor="middle" fill="#444444" stroke="#444444" stroke-width="0.22" transform="translate(679.80 185.20) scale(0.9 1)">25</text>
<text x="371.2" y="6.7" font-size="8.25" font-weight="bold" text-anchor="start" fill="#000000">Meropenem loss of susceptibility</text>
<text x="527.0" y="193.7" font-size="8.25" font-weight="bold" text-anchor="middle" fill="#000000">Time (hours)</text>
<text x="351.0" y="93.8" font-size="8.25" font-weight="bold" text-anchor="middle" fill="#000000" transform="rotate(-90 351.0 93.8)">Relative effect</text>
<line x1="400.3" y1="207.3" x2="406.90000000000003" y2="207.3" stroke="#F8766D" stroke-width="1.6"/>
<text x="410.4" y="210.8" font-size="8.25" font-weight="bold" text-anchor="start" fill="#000000">0.008 mg/l</text>
<line x1="400.3" y1="217.5" x2="406.90000000000003" y2="217.5" stroke="#CD9600" stroke-width="1.6"/>
<text x="410.4" y="221.0" font-size="8.25" font-weight="bold" text-anchor="start" fill="#000000">0.015 mg/l</text>
<line x1="454.6" y1="207.3" x2="461.20000000000005" y2="207.3" stroke="#7CAE00" stroke-width="1.6"/>
<text x="463.6" y="210.8" font-size="8.25" font-weight="bold" text-anchor="start" fill="#000000">0.03 mg/l</text>
<line x1="454.6" y1="217.5" x2="461.20000000000005" y2="217.5" stroke="#00BE67" stroke-width="1.6"/>
<text x="463.6" y="221.0" font-size="8.25" font-weight="bold" text-anchor="start" fill="#000000">0.06 mg/l</text>
<line x1="501.0" y1="207.3" x2="507.6" y2="207.3" stroke="#00BFC4" stroke-width="1.6"/>
<text x="511.2" y="210.8" font-size="8.25" font-weight="bold" text-anchor="start" fill="#000000">0.12 mg/l</text>
<line x1="501.0" y1="217.5" x2="507.6" y2="217.5" stroke="#00A9FF" stroke-width="1.6"/>
<text x="511.2" y="221.0" font-size="8.25" font-weight="bold" text-anchor="start" fill="#000000">0.24 mg/l</text>
<line x1="550.0" y1="207.3" x2="556.6" y2="207.3" stroke="#C77CFF" stroke-width="1.6"/>
<text x="559.7" y="210.8" font-size="8.25" font-weight="bold" text-anchor="start" fill="#000000">0.48 mg/l</text>
<line x1="550.0" y1="217.5" x2="556.6" y2="217.5" stroke="#FF61CC" stroke-width="1.6"/>
<text x="559.7" y="221.0" font-size="8.25" font-weight="bold" text-anchor="start" fill="#000000">GEN or CIP combination</text>
<line x1="414.75" y1="239.5" x2="414.75" y2="405.5" stroke="#F6F6F6" stroke-width="1"/>
<line x1="473.65" y1="239.5" x2="473.65" y2="405.5" stroke="#F6F6F6" stroke-width="1"/>
<line x1="532.55" y1="239.5" x2="532.55" y2="405.5" stroke="#F6F6F6" stroke-width="1"/>
<line x1="591.45" y1="239.5" x2="591.45" y2="405.5" stroke="#F6F6F6" stroke-width="1"/>
<line x1="650.35" y1="239.5" x2="650.35" y2="405.5" stroke="#F6F6F6" stroke-width="1"/>
<line x1="371.5" y1="360.6625" x2="682.5" y2="360.6625" stroke="#F6F6F6" stroke-width="1"/>
<line x1="371.5" y1="315.23749999999995" x2="682.5" y2="315.23749999999995" stroke="#F6F6F6" stroke-width="1"/>
<line x1="371.5" y1="269.8125" x2="682.5" y2="269.8125" stroke="#F6F6F6" stroke-width="1"/>
<line x1="385.3" y1="239.5" x2="385.3" y2="405.5" stroke="#F2F2F2" stroke-width="1"/>
<line x1="444.2" y1="239.5" x2="444.2" y2="405.5" stroke="#F2F2F2" stroke-width="1"/>
<line x1="503.1" y1="239.5" x2="503.1" y2="405.5" stroke="#F2F2F2" stroke-width="1"/>
<line x1="562.0" y1="239.5" x2="562.0" y2="405.5" stroke="#F2F2F2" stroke-width="1"/>
<line x1="620.9" y1="239.5" x2="620.9" y2="405.5" stroke="#F2F2F2" stroke-width="1"/>
<line x1="679.8" y1="239.5" x2="679.8" y2="405.5" stroke="#F2F2F2" stroke-width="1"/>
<line x1="371.5" y1="383.375" x2="682.5" y2="383.375" stroke="#F2F2F2" stroke-width="1"/>
<line x1="371.5" y1="337.95" x2="682.5" y2="337.95" stroke="#F2F2F2" stroke-width="1"/>
<line x1="371.5" y1="292.525" x2="682.5" y2="292.525" stroke="#F2F2F2" stroke-width="1"/>
<line x1="371.5" y1="247.1" x2="682.5" y2="247.1" stroke="#F2F2F2" stroke-width="1"/>
<polyline points="385.3,247.1 385.3,248.9 385.3,250.7 385.3,252.4 385.3,254.1 385.4,255.8 385.4,257.5 385.4,259.2 385.4,260.8 385.4,262.5 385.4,264.1 385.4,265.7 385.4,267.2 385.5,268.8 385.5,270.3 385.5,271.8 385.5,273.3 385.5,274.8 385.5,276.3 385.5,277.7 385.5,279.1 385.5,280.5 385.6,281.9 385.6,283.3 385.6,284.7 385.6,286.0 385.6,287.3 385.6,288.6 385.6,289.9 385.6,291.2 385.7,292.5 385.7,293.7 385.7,295.0 385.7,296.2 385.7,297.4 385.7,298.6 385.7,299.7 385.7,300.9 385.7,302.1 385.8,303.2 385.8,304.3 385.8,305.4 385.8,306.5 385.8,307.6 385.8,308.7 385.8,309.7 385.8,310.8 385.9,311.8 385.9,312.8 385.9,313.8 385.9,314.8 385.9,315.8 385.9,316.8 385.9,317.7 385.9,318.7 385.9,319.6 386.0,320.5 386.0,321.5 386.0,322.4 386.0,323.2 386.0,324.1 386.0,325.0 386.0,325.9 386.0,326.7 386.1,327.6 386.1,328.4 386.1,329.2 386.1,330.0 386.1,330.8 386.1,331.6 386.1,332.6 386.1,333.6 386.2,334.6 386.2,335.6 386.2,336.5 386.2,337.5 386.2,338.4 386.2,339.3 386.3,340.2 386.3,341.1 386.3,341.9 386.3,342.8 386.3,343.6 386.3,344.5 386.3,345.3 386.4,346.1 386.4,346.9 386.4,347.9 386.4,348.9 386.4,349.9 386.5,350.8 386.5,351.7 386.5,352.6 386.5,353.5 386.5,354.4 386.6,355.3 386.6,356.1 386.6,356.9 386.6,357.7 386.6,358.5 386.7,359.5 386.7,360.5 386.7,361.5 386.7,362.4 386.8,363.3 386.8,364.2 386.8,365.1 386.8,365.9 386.9,366.7 386.9,367.5 386.9,368.5 387.0,369.5 387.0,370.4 387.0,371.3 387.1,372.2 387.1,373.0 387.1,373.8 387.2,374.6 387.2,375.6 387.2,376.5 387.3,377.4 387.3,378.3 387.4,379.1 387.4,379.9 387.5,380.9 387.5,381.8 387.6,382.7 387.6,383.5 387.7,384.3 387.8,385.2 387.9,386.1 387.9,386.9 388.0,387.6 388.1,388.5 388.2,389.3 388.3,390.1 388.4,390.9 388.5,391.7 388.7,392.5 388.9,393.2 389.1,394.0 389.3,394.6 389.6,395.2 389.9,395.8 390.4,396.3 391.0,396.7 391.6,396.9 392.4,397.1 393.2,397.1 393.9,397.2 395.0,397.2 396.0,397.2 397.0,397.2 398.0,397.2 399.0,397.2 400.1,397.2 401.1,397.2 402.1,397.2 403.1,397.2 404.1,397.2 405.1,397.2 406.2,397.2 407.2,397.2 408.2,397.2 409.2,397.2 410.2,397.2 411.3,397.2 412.3,397.2 413.3,397.2 414.3,397.2 415.3,397.2 416.4,397.2 417.4,397.2 418.4,397.2 419.4,397.2 420.4,397.2 421.5,397.2 422.5,397.2 423.5,397.2 424.5,397.2 425.5,397.2 426.5,397.2 427.6,397.2 428.6,397.2 429.6,397.2 430.6,397.2 431.6,397.2 432.7,397.2 433.7,397.2 434.7,397.2 435.7,397.2 436.7,397.2 437.8,397.2 438.8,397.2 439.8,397.2 440.8,397.2 441.8,397.2 442.9,397.2 443.9,397.2 444.9,397.2 445.9,397.2 446.9,397.2 447.9,397.2 449.0,397.2 450.0,397.2 451.0,397.2 452.0,397.2 453.0,397.2 454.1,397.2 455.1,397.2 456.1,397.2 457.1,397.2 458.1,397.2 459.2,397.2 460.2,397.2 461.2,397.2 462.2,397.2 463.2,397.2 464.3,397.2 465.3,397.2 466.3,397.2 467.3,397.2 468.3,397.2 469.3,397.2 470.4,397.2 471.4,397.2 472.4,397.2 473.4,397.2 474.4,397.2 475.5,397.2 476.5,397.2 477.5,397.2 478.5,397.2 479.5,397.2 480.6,397.2 481.6,397.2 482.6,397.2 483.6,397.2 484.6,397.2 485.7,397.2 486.7,397.2 487.7,397.2 488.7,397.2 489.7,397.2 490.7,397.2 491.8,397.2 492.8,397.2 493.8,397.2 494.8,397.2 495.8,397.2 496.9,397.2 497.9,397.2 498.9,397.2 499.9,397.2 500.9,397.2 502.0,397.2 503.0,397.2 504.0,397.2 505.0,397.2 506.0,397.2 507.1,397.2 508.1,397.2 509.1,397.2 510.1,397.2 511.1,397.2 512.1,397.2 513.2,397.2 514.2,397.2 515.2,397.2 516.2,397.2 517.2,397.2 518.3,397.2 519.3,397.2 520.3,397.2 521.3,397.2 522.3,397.2 523.4,397.2 524.4,397.2 525.4,397.2 526.4,397.2 527.4,397.2 528.5,397.2 529.5,397.2 530.5,397.2 531.5,397.2 532.5,397.2 533.5,397.2 534.6,397.2 535.6,397.2 536.6,397.2 537.6,397.2 538.6,397.2 539.7,397.2 540.7,397.2 541.7,397.2 542.7,397.2 543.7,397.2 544.8,397.2 545.8,397.2 546.8,397.2 547.8,397.2 548.8,397.2 549.8,397.2 550.9,397.2 551.9,397.2 552.9,397.2 553.9,397.2 554.9,397.2 556.0,397.2 557.0,397.2 558.0,397.2 559.0,397.2 560.0,397.2 561.1,397.2 562.1,397.2 563.1,397.2 564.1,397.2 565.1,397.2 566.2,397.2 567.2,397.2 568.2,397.2 569.2,397.2 570.2,397.2 571.2,397.2 572.3,397.2 573.3,397.2 574.3,397.2 575.3,397.2 576.3,397.2 577.4,397.2 578.4,397.2 579.4,397.2 580.4,397.2 581.4,397.2 582.5,397.2 583.5,397.2 584.5,397.2 585.5,397.2 586.5,397.2 587.6,397.2 588.6,397.2 589.6,397.2 590.6,397.2 591.6,397.2 592.6,397.2 593.7,397.2 594.7,397.2 595.7,397.2 596.7,397.2 597.7,397.2 598.8,397.2 599.8,397.2 600.8,397.2 601.8,397.2 602.8,397.2 603.9,397.2 604.9,397.2 605.9,397.2 606.9,397.2 607.9,397.2 609.0,397.2 610.0,397.2 611.0,397.2 612.0,397.2 613.0,397.2 614.0,397.2 615.1,397.2 616.1,397.2 617.1,397.2 618.1,397.2 619.1,397.2 620.2,397.2 621.2,397.2 622.2,397.2 623.2,397.2 624.2,397.2 625.3,397.2 626.3,397.2 627.3,397.2 628.3,397.2 629.3,397.2 630.4,397.2 631.4,397.2 632.4,397.2 633.4,397.2 634.4,397.2 635.4,397.2 636.5,397.2 637.5,397.2 638.5,397.2 639.5,397.2 640.5,397.2 641.6,397.2 642.6,397.2 643.6,397.2 644.6,397.2 645.6,397.2 646.7,397.2 647.7,397.2 648.7,397.2 649.7,397.2 650.7,397.2 651.8,397.2 652.8,397.2 653.8,397.2 654.8,397.2 655.8,397.2 656.8,397.2 657.9,397.2 658.9,397.2 659.9,397.2 660.9,397.2 661.9,397.2 663.0,397.2 664.0,397.2 665.0,397.2 666.0,397.2 667.0,397.2 668.0,397.2" fill="none" stroke="#F8766D" stroke-width="1.55" stroke-linejoin="round" stroke-linecap="butt"/>
<polyline points="385.3,247.1 385.3,248.0 385.4,248.8 385.4,249.7 385.4,250.6 385.5,251.4 385.5,252.3 385.5,253.1 385.6,254.0 385.6,254.8 385.6,255.6 385.7,256.5 385.7,257.3 385.7,258.1 385.8,258.9 385.8,259.7 385.8,260.5 385.9,261.3 385.9,262.1 385.9,262.9 386.0,263.7 386.0,264.5 386.0,265.2 386.1,266.0 386.1,267.0 386.2,268.0 386.2,269.0 386.2,269.9 386.3,270.9 386.3,271.9 386.4,272.8 386.4,273.8 386.5,274.7 386.5,275.6 386.6,276.5 386.6,277.5 386.6,278.4 386.7,279.3 386.7,280.2 386.8,281.0 386.8,281.9 386.9,282.8 386.9,283.7 386.9,284.5 387.0,285.4 387.0,286.2 387.1,287.1 387.1,287.9 387.2,288.7 387.2,289.6 387.3,290.4 387.3,291.2 387.3,292.0 387.4,292.8 387.4,293.6 387.5,294.4 387.5,295.1 387.6,295.9 387.6,296.7 387.6,297.4 387.7,298.4 387.8,299.4 387.8,300.4 387.9,301.3 387.9,302.3 388.0,303.2 388.0,304.1 388.1,305.0 388.2,305.9 388.2,306.8 388.3,307.7 388.3,308.6 388.4,309.5 388.4,310.4 388.5,311.2 388.6,312.1 388.6,312.9 388.7,313.7 388.7,314.5 388.8,315.4 388.8,316.2 388.9,317.0 389.0,317.7 389.0,318.5 389.1,319.3 389.1,320.1 389.2,320.8 389.2,321.6 389.3,322.3 389.4,323.3 389.4,324.2 389.5,325.2 389.6,326.1 389.7,327.0 389.7,327.9 389.8,328.8 389.9,329.6 390.0,330.5 390.0,331.4 390.1,332.2 390.2,333.0 390.3,333.9 390.3,334.7 390.4,335.5 390.5,336.3 390.6,337.0 390.6,337.8 390.7,338.6 390.8,339.3 390.8,340.0 390.9,340.8 391.0,341.7 391.1,342.6 391.2,343.5 391.3,344.4 391.4,345.3 391.5,346.2 391.6,347.0 391.7,347.8 391.8,348.7 391.9,349.5 392.0,350.3 392.1,351.0 392.2,351.8 392.3,352.6 392.4,353.3 392.5,354.0 392.6,354.7 392.7,355.4 392.8,356.3 392.9,357.2 393.0,358.1 393.2,358.9 393.3,359.7 393.4,360.5 393.5,361.3 393.7,362.1 393.8,362.9 393.9,363.6 394.0,364.3 394.2,365.0 394.3,365.7 394.4,366.4 394.6,367.3 394.7,368.1 394.9,368.9 395.1,369.7 395.2,370.5 395.4,371.2 395.5,371.9 395.7,372.6 395.9,373.3 396.0,374.0 396.2,374.6 396.4,375.4 396.6,376.2 396.8,377.0 397.0,377.7 397.2,378.4 397.5,379.1 397.7,379.7 397.9,380.4 398.1,381.0 398.4,381.7 398.6,382.5 398.9,383.1 399.2,383.8 399.5,384.4 399.7,385.0 400.0,385.6 400.3,386.1 400.6,386.8 401.0,387.4 401.4,388.0 401.7,388.6 402.1,389.1 402.4,389.6 402.8,390.0 403.2,390.6 403.7,391.1 404.2,391.6 404.6,392.0 405.1,392.4 405.6,392.8 406.0,393.1 406.6,393.5 407.2,393.9 407.8,394.2 408.4,394.5 409.0,394.8 409.6,395.0 410.2,395.2 411.0,395.5 411.8,395.7 412.6,395.9 413.4,396.1 414.2,396.2 415.0,396.3 415.7,396.4 416.5,396.5 417.3,396.6 418.1,396.7 418.9,396.7 419.7,396.8 420.4,396.9 421.2,396.9 422.0,396.9 422.8,397.0 423.6,397.0 424.4,397.0 425.1,397.0 425.9,397.1 426.7,397.1 427.7,397.1 428.7,397.1 429.8,397.1 430.8,397.1 431.8,397.1 432.8,397.1 433.8,397.2 434.9,397.2 435.9,397.2 436.9,397.2 437.9,397.2 438.9,397.2 440.0,397.2 441.0,397.2 442.0,397.2 443.0,397.2 444.0,397.2 445.1,397.2 446.1,397.2 447.1,397.2 448.1,397.2 449.1,397.2 450.1,397.2 451.2,397.2 452.2,397.2 453.2,397.2 454.2,397.2 455.2,397.2 456.3,397.2 457.3,397.2 458.3,397.2 459.3,397.2 460.3,397.2 461.4,397.2 462.4,397.2 463.4,397.2 464.4,397.2 465.4,397.2 466.5,397.2 467.5,397.2 468.5,397.2 469.5,397.2 470.5,397.2 471.5,397.2 472.6,397.2 473.6,397.2 474.6,397.2 475.6,397.2 476.6,397.2 477.7,397.2 478.7,397.2 479.7,397.2 480.7,397.2 481.7,397.2 482.8,397.2 483.8,397.2 484.8,397.2 485.8,397.2 486.8,397.2 487.9,397.2 488.9,397.2 489.9,397.2 490.9,397.2 491.9,397.2 492.9,397.2 494.0,397.2 495.0,397.2 496.0,397.2 497.0,397.2 498.0,397.2 499.1,397.2 500.1,397.2 501.1,397.2 502.1,397.2 503.1,397.2 504.2,397.2 505.2,397.2 506.2,397.2 507.2,397.2 508.2,397.2 509.3,397.2 510.3,397.2 511.3,397.2 512.3,397.2 513.3,397.2 514.3,397.2 515.4,397.2 516.4,397.2 517.4,397.2 518.4,397.2 519.4,397.2 520.5,397.2 521.5,397.2 522.5,397.2 523.5,397.2 524.5,397.2 525.6,397.2 526.6,397.2 527.6,397.2 528.6,397.2 529.6,397.2 530.7,397.2 531.7,397.2 532.7,397.2 533.7,397.2 534.7,397.2 535.7,397.2 536.8,397.2 537.8,397.2 538.8,397.2 539.8,397.2 540.8,397.2 541.9,397.2 542.9,397.2 543.9,397.2 544.9,397.2 545.9,397.2 547.0,397.2 548.0,397.2 549.0,397.2 550.0,397.2 551.0,397.2 552.0,397.2 553.1,397.2 554.1,397.2 555.1,397.2 556.1,397.2 557.1,397.2 558.2,397.2 559.2,397.2 560.2,397.2 561.2,397.2 562.2,397.2 563.3,397.2 564.3,397.2 565.3,397.2 566.3,397.2 567.3,397.2 568.4,397.2 569.4,397.2 570.4,397.2 571.4,397.2 572.4,397.2 573.4,397.2 574.5,397.2 575.5,397.2 576.5,397.2 577.5,397.2 578.5,397.2 579.6,397.2 580.6,397.2 581.6,397.2 582.6,397.2 583.6,397.2 584.7,397.2 585.7,397.2 586.7,397.2 587.7,397.2 588.7,397.2 589.8,397.2 590.8,397.2 591.8,397.2 592.8,397.2 593.8,397.2 594.8,397.2 595.9,397.2 596.9,397.2 597.9,397.2 598.9,397.2 599.9,397.2 601.0,397.2 602.0,397.2 603.0,397.2 604.0,397.2 605.0,397.2 606.1,397.2 607.1,397.2 608.1,397.2 609.1,397.2 610.1,397.2 611.2,397.2 612.2,397.2 613.2,397.2 614.2,397.2 615.2,397.2 616.2,397.2 617.3,397.2 618.3,397.2 619.3,397.2 620.3,397.2 621.3,397.2 622.4,397.2 623.4,397.2 624.4,397.2 625.4,397.2 626.4,397.2 627.5,397.2 628.5,397.2 629.5,397.2 630.5,397.2 631.5,397.2 632.6,397.2 633.6,397.2 634.6,397.2 635.6,397.2 636.6,397.2 637.6,397.2 638.7,397.2 639.7,397.2 640.7,397.2 641.7,397.2 642.7,397.2 643.8,397.2 644.8,397.2 645.8,397.2 646.8,397.2 647.8,397.2 648.9,397.2 649.9,397.2 650.9,397.2 651.9,397.2 652.9,397.2 654.0,397.2 655.0,397.2 656.0,397.2 657.0,397.2 658.0,397.2 659.0,397.2 660.1,397.2 661.1,397.2 662.1,397.2 663.1,397.2 664.1,397.2 665.2,397.2 666.2,397.2 667.2,397.2 668.0,397.2" fill="none" stroke="#CD9600" stroke-width="1.55" stroke-linejoin="round" stroke-linecap="butt"/>
<polyline points="385.3,247.1 385.4,247.9 385.5,248.7 385.7,249.5 385.8,250.3 385.9,251.1 386.0,251.9 386.2,252.7 386.3,253.5 386.4,254.2 386.5,255.0 386.7,255.8 386.8,256.5 386.9,257.3 387.0,258.0 387.2,258.8 387.3,259.5 387.4,260.3 387.5,261.0 387.7,261.8 387.8,262.5 387.9,263.2 388.0,263.9 388.2,264.7 388.3,265.4 388.4,266.1 388.5,266.8 388.7,267.5 388.8,268.2 388.9,268.9 389.0,269.6 389.2,270.3 389.3,271.0 389.4,271.6 389.5,272.3 389.7,273.2 389.9,274.1 390.0,274.9 390.2,275.8 390.4,276.6 390.5,277.5 390.7,278.3 390.8,279.1 391.0,280.0 391.2,280.8 391.3,281.6 391.5,282.4 391.7,283.2 391.8,284.0 392.0,284.8 392.1,285.6 392.3,286.4 392.5,287.2 392.6,287.9 392.8,288.7 393.0,289.4 393.1,290.2 393.3,291.0 393.4,291.7 393.6,292.4 393.8,293.2 393.9,293.9 394.1,294.6 394.3,295.3 394.4,296.1 394.6,296.8 394.7,297.5 394.9,298.2 395.1,298.9 395.2,299.5 395.4,300.2 395.6,300.9 395.7,301.6 395.9,302.3 396.0,302.9 396.2,303.6 396.4,304.2 396.5,304.9 396.7,305.5 396.9,306.2 397.1,307.0 397.3,307.8 397.5,308.6 397.7,309.4 397.9,310.2 398.1,311.0 398.3,311.8 398.5,312.6 398.8,313.4 399.0,314.1 399.2,314.9 399.4,315.6 399.6,316.4 399.8,317.1 400.0,317.8 400.2,318.6 400.4,319.3 400.7,320.0 400.9,320.7 401.1,321.4 401.3,322.1 401.5,322.8 401.7,323.4 401.9,324.1 402.1,324.8 402.3,325.4 402.6,326.1 402.8,326.7 403.0,327.4 403.2,328.0 403.4,328.6 403.6,329.3 403.8,329.9 404.0,330.5 404.2,331.1 404.5,331.7 404.7,332.3 404.9,332.9 405.2,333.6 405.4,334.4 405.7,335.1 406.0,335.9 406.2,336.6 406.5,337.3 406.8,338.0 407.1,338.7 407.3,339.4 407.6,340.1 407.9,340.8 408.2,341.4 408.4,342.1 408.7,342.7 409.0,343.4 409.3,344.0 409.5,344.6 409.8,345.3 410.1,345.9 410.4,346.5 410.6,347.1 410.9,347.7 411.2,348.3 411.5,348.8 411.7,349.4 412.0,350.0 412.3,350.5 412.6,351.1 412.8,351.6 413.1,352.2 413.4,352.7 413.7,353.4 414.1,354.0 414.5,354.7 414.8,355.4 415.2,356.0 415.5,356.6 415.9,357.3 416.2,357.9 416.6,358.5 417.0,359.1 417.3,359.6 417.7,360.2 418.0,360.8 418.4,361.3 418.7,361.9 419.1,362.4 419.5,363.0 419.8,363.5 420.2,364.0 420.5,364.5 420.9,365.0 421.2,365.5 421.6,366.0 421.9,366.5 422.3,366.9 422.7,367.4 423.0,367.9 423.4,368.3 423.8,368.9 424.3,369.5 424.8,370.0 425.2,370.5 425.7,371.1 426.2,371.6 426.6,372.1 427.1,372.6 427.6,373.1 428.0,373.6 428.5,374.0 428.9,374.5 429.4,374.9 429.9,375.4 430.3,375.8 430.8,376.2 431.3,376.7 431.7,377.1 432.2,377.5 432.7,377.9 433.1,378.2 433.6,378.6 434.0,379.0 434.5,379.4 435.0,379.7 435.4,380.1 435.9,380.4 436.5,380.8 437.1,381.3 437.7,381.7 438.3,382.1 438.9,382.5 439.5,382.8 440.1,383.2 440.7,383.6 441.3,383.9 441.9,384.3 442.5,384.6 443.1,384.9 443.7,385.2 444.3,385.5 444.9,385.8 445.5,386.1 446.1,386.4 446.8,386.7 447.4,387.0 448.0,387.2 448.6,387.5 449.2,387.7 449.8,388.0 450.4,388.2 451.0,388.4 451.6,388.7 452.2,388.9 452.8,389.1 453.4,389.3 454.0,389.5 454.6,389.7 455.4,390.0 456.2,390.2 456.9,390.4 457.7,390.7 458.5,390.9 459.3,391.1 460.1,391.3 460.9,391.5 461.6,391.7 462.4,391.9 463.2,392.0 464.0,392.2 464.8,392.4 465.6,392.5 466.3,392.7 467.1,392.8 467.9,393.0 468.7,393.1 469.5,393.3 470.3,393.4 471.1,393.5 471.8,393.6 472.6,393.8 473.4,393.9 474.2,394.0 475.0,394.1 475.8,394.2 476.5,394.3 477.3,394.4 478.1,394.5 478.9,394.6 479.7,394.7 480.5,394.7 481.2,394.8 482.0,394.9 482.8,395.0 483.6,395.1 484.4,395.1 485.2,395.2 485.9,395.3 486.7,395.3 487.5,395.4 488.3,395.4 489.1,395.5 489.9,395.6 490.6,395.6 491.4,395.7 492.2,395.7 493.0,395.8 493.8,395.8 494.6,395.9 495.4,395.9 496.1,395.9 496.9,396.0 497.7,396.0 498.5,396.1 499.3,396.1 500.1,396.1 500.8,396.2 501.6,396.2 502.4,396.2 503.2,396.3 504.0,396.3 504.8,396.3 505.5,396.4 506.3,396.4 507.1,396.4 507.9,396.4 508.7,396.5 509.5,396.5 510.2,396.5 511.0,396.5 511.8,396.6 512.6,396.6 513.4,396.6 514.2,396.6 514.9,396.6 515.7,396.7 516.5,396.7 517.3,396.7 518.1,396.7 519.1,396.7 520.1,396.7 521.1,396.8 522.2,396.8 523.2,396.8 524.2,396.8 525.2,396.8 526.2,396.8 527.3,396.9 528.3,396.9 529.3,396.9 530.3,396.9 531.3,396.9 532.3,396.9 533.4,396.9 534.4,396.9 535.4,397.0 536.4,397.0 537.4,397.0 538.5,397.0 539.5,397.0 540.5,397.0 541.5,397.0 542.5,397.0 543.6,397.0 544.6,397.0 545.6,397.0 546.6,397.0 547.6,397.1 548.7,397.1 549.7,397.1 550.7,397.1 551.7,397.1 552.7,397.1 553.7,397.1 554.8,397.1 555.8,397.1 556.8,397.1 557.8,397.1 558.8,397.1 559.9,397.1 560.9,397.1 561.9,397.1 562.9,397.1 563.9,397.1 565.0,397.1 566.0,397.1 567.0,397.1 568.0,397.1 569.0,397.1 570.1,397.1 571.1,397.1 572.1,397.1 573.1,397.1 574.1,397.1 575.1,397.1 576.2,397.1 577.2,397.1 578.2,397.1 579.2,397.2 580.2,397.2 581.3,397.2 582.3,397.2 583.3,397.2 584.3,397.2 585.3,397.2 586.4,397.2 587.4,397.2 588.4,397.2 589.4,397.2 590.4,397.2 591.5,397.2 592.5,397.2 593.5,397.2 594.5,397.2 595.5,397.2 596.5,397.2 597.6,397.2 598.6,397.2 599.6,397.2 600.6,397.2 601.6,397.2 602.7,397.2 603.7,397.2 604.7,397.2 605.7,397.2 606.7,397.2 607.8,397.2 608.8,397.2 609.8,397.2 610.8,397.2 611.8,397.2 612.9,397.2 613.9,397.2 614.9,397.2 615.9,397.2 616.9,397.2 617.9,397.2 619.0,397.2 620.0,397.2 621.0,397.2 622.0,397.2 623.0,397.2 624.1,397.2 625.1,397.2 626.1,397.2 627.1,397.2 628.1,397.2 629.2,397.2 630.2,397.2 631.2,397.2 632.2,397.2 633.2,397.2 634.3,397.2 635.3,397.2 636.3,397.2 637.3,397.2 638.3,397.2 639.3,397.2 640.4,397.2 641.4,397.2 642.4,397.2 643.4,397.2 644.4,397.2 645.5,397.2 646.5,397.2 647.5,397.2 648.5,397.2 649.5,397.2 650.6,397.2 651.6,397.2 652.6,397.2 653.6,397.2 654.6,397.2 655.7,397.2 656.7,397.2 657.7,397.2 658.7,397.2 659.7,397.2 660.7,397.2 661.8,397.2 662.8,397.2 663.8,397.2 664.8,397.2 665.8,397.2 666.9,397.2 667.9,397.2 668.0,397.2" fill="none" stroke="#7CAE00" stroke-width="1.55" stroke-linejoin="round" stroke-linecap="butt"/>
<polyline points="385.3,247.1 668.0,248.6" fill="none" stroke="#00BE67" stroke-width="1.5" stroke-linejoin="round" stroke-linecap="butt"/>
<polyline points="385.3,247.1 385.7,247.7 386.0,248.3 386.4,248.9 386.7,249.4 387.1,250.0 387.4,250.6 387.8,251.2 388.2,251.8 388.5,252.3 388.9,252.9 389.2,253.5 389.6,254.0 389.9,254.6 390.3,255.1 390.7,255.7 391.0,256.3 391.4,256.8 391.7,257.4 392.1,257.9 392.4,258.5 392.8,259.0 393.1,259.6 393.5,260.1 393.9,260.6 394.2,261.2 394.6,261.7 394.9,262.2 395.3,262.8 395.6,263.3 396.0,263.8 396.4,264.3 396.7,264.9 397.1,265.4 397.4,265.9 397.8,266.4 398.1,266.9 398.5,267.4 398.9,268.0 399.2,268.5 399.6,269.0 399.9,269.5 400.3,270.0 400.6,270.5 401.0,271.0 401.4,271.5 401.7,272.0 402.1,272.5 402.4,272.9 402.8,273.4 403.1,273.9 403.5,274.4 403.9,274.9 404.2,275.4 404.6,275.8 404.9,276.3 405.3,276.8 405.6,277.3 406.0,277.7 406.4,278.2 406.7,278.7 407.1,279.1 407.4,279.6 407.8,280.1 408.1,280.5 408.5,281.0 408.8,281.4 409.2,281.9 409.6,282.4 409.9,282.8 410.3,283.3 410.6,283.7 411.0,284.1 411.3,284.6 411.8,285.2 412.3,285.7 412.7,286.3 413.2,286.9 413.7,287.4 414.1,288.0 414.6,288.6 415.1,289.1 415.5,289.7 416.0,290.2 416.4,290.8 416.9,291.3 417.4,291.8 417.8,292.4 418.3,292.9 418.8,293.4 419.2,294.0 419.7,294.5 420.2,295.0 420.6,295.5 421.1,296.1 421.5,296.6 422.0,297.1 422.5,297.6 422.9,298.1 423.4,298.6 423.9,299.1 424.3,299.6 424.8,300.1 425.3,300.6 425.7,301.1 426.2,301.6 426.7,302.1 427.1,302.6 427.6,303.1 428.0,303.5 428.5,304.0 429.0,304.5 429.4,305.0 429.9,305.4 430.4,305.9 430.8,306.4 431.3,306.8 431.8,307.3 432.2,307.8 432.7,308.2 433.1,308.7 433.6,309.1 434.1,309.6 434.5,310.0 435.0,310.5 435.5,310.9 435.9,311.3 436.4,311.8 436.9,312.2 437.3,312.7 437.8,313.1 438.2,313.5 438.7,313.9 439.2,314.4 439.6,314.8 440.1,315.2 440.6,315.6 441.0,316.0 441.5,316.5 442.0,316.9 442.4,317.3 442.9,317.7 443.3,318.1 443.8,318.5 444.3,318.9 444.7,319.3 445.2,319.7 445.7,320.1 446.1,320.5 446.6,320.9 447.1,321.3 447.5,321.7 448.0,322.0 448.5,322.4 448.9,322.8 449.4,323.2 449.8,323.6 450.3,323.9 450.8,324.3 451.2,324.7 451.7,325.1 452.2,325.4 452.6,325.8 453.1,326.2 453.6,326.5 454.0,326.9 454.5,327.2 454.9,327.6 455.4,327.9 455.9,328.3 456.3,328.7 456.8,329.0 457.3,329.4 457.7,329.7 458.2,330.0 458.7,330.4 459.1,330.7 459.6,331.1 460.0,331.4 460.6,331.8 461.3,332.3 461.9,332.7 462.5,333.1 463.1,333.6 463.7,334.0 464.3,334.4 464.9,334.8 465.5,335.2 466.1,335.6 466.7,336.0 467.3,336.5 467.9,336.9 468.5,337.3 469.1,337.7 469.7,338.0 470.3,338.4 470.9,338.8 471.5,339.2 472.1,339.6 472.7,340.0 473.3,340.4 473.9,340.7 474.5,341.1 475.1,341.5 475.7,341.9 476.3,342.2 476.9,342.6 477.5,342.9 478.1,343.3 478.7,343.7 479.3,344.0 479.9,344.4 480.5,344.7 481.2,345.1 481.8,345.4 482.4,345.8 483.0,346.1 483.6,346.4 484.2,346.8 484.8,347.1 485.4,347.4 486.0,347.8 486.6,348.1 487.2,348.4 487.8,348.7 488.4,349.1 489.0,349.4 489.6,349.7 490.2,350.0 490.8,350.3 491.4,350.6 492.0,351.0 492.6,351.3 493.2,351.6 493.8,351.9 494.4,352.2 495.0,352.5 495.6,352.8 496.2,353.1 496.8,353.4 497.4,353.6 498.0,353.9 498.6,354.2 499.2,354.5 499.8,354.8 500.4,355.1 501.0,355.3 501.7,355.6 502.3,355.9 502.9,356.2 503.5,356.4 504.1,356.7 504.7,357.0 505.3,357.2 505.9,357.5 506.5,357.8 507.1,358.0 507.7,358.3 508.3,358.6 508.9,358.8 509.5,359.1 510.1,359.3 510.7,359.6 511.3,359.8 511.9,360.1 512.5,360.3 513.1,360.6 513.7,360.8 514.3,361.0 514.9,361.3 515.5,361.5 516.1,361.8 516.7,362.0 517.3,362.2 517.9,362.5 518.5,362.7 519.1,362.9 519.7,363.1 520.3,363.4 520.9,363.6 521.5,363.8 522.2,364.0 522.8,364.3 523.4,364.5 524.0,364.7 524.6,364.9 525.2,365.1 525.8,365.3 526.4,365.5 527.0,365.8 527.6,366.0 528.2,366.2 528.8,366.4 529.4,366.6 530.0,366.8 530.6,367.0 531.2,367.2 531.8,367.4 532.4,367.6 533.2,367.8 534.0,368.1 534.8,368.3 535.5,368.6 536.3,368.8 537.1,369.1 537.9,369.3 538.7,369.6 539.5,369.8 540.2,370.0 541.0,370.3 541.8,370.5 542.6,370.7 543.4,371.0 544.2,371.2 544.9,371.4 545.7,371.6 546.5,371.9 547.3,372.1 548.1,372.3 548.9,372.5 549.6,372.7 550.4,372.9 551.2,373.1 552.0,373.3 552.8,373.5 553.6,373.7 554.4,374.0 555.1,374.2 555.9,374.3 556.7,374.5 557.5,374.7 558.3,374.9 559.1,375.1 559.8,375.3 560.6,375.5 561.4,375.7 562.2,375.9 563.0,376.1 563.8,376.2 564.5,376.4 565.3,376.6 566.1,376.8 566.9,377.0 567.7,377.1 568.5,377.3 569.2,377.5 570.0,377.6 570.8,377.8 571.6,378.0 572.4,378.1 573.2,378.3 573.9,378.5 574.7,378.6 575.5,378.8 576.3,378.9 577.1,379.1 577.9,379.3 578.7,379.4 579.4,379.6 580.2,379.7 581.0,379.9 581.8,380.0 582.6,380.2 583.4,380.3 584.1,380.5 584.9,380.6 585.7,380.7 586.5,380.9 587.3,381.0 588.1,381.2 588.8,381.3 589.6,381.4 590.4,381.6 591.2,381.7 592.0,381.8 592.8,382.0 593.5,382.1 594.3,382.2 595.1,382.4 595.9,382.5 596.7,382.6 597.5,382.7 598.2,382.9 599.0,383.0 599.8,383.1 600.6,383.2 601.4,383.4 602.2,383.5 603.0,383.6 603.7,383.7 604.5,383.8 605.3,383.9 606.1,384.1 606.9,384.2 607.7,384.3 608.4,384.4 609.2,384.5 610.0,384.6 610.8,384.7 611.6,384.8 612.4,384.9 613.1,385.0 613.9,385.1 614.7,385.2 615.5,385.4 616.3,385.5 617.1,385.6 617.8,385.7 618.6,385.8 619.4,385.9 620.2,385.9 621.0,386.0 621.8,386.1 622.5,386.2 623.3,386.3 624.1,386.4 624.9,386.5 625.7,386.6 626.5,386.7 627.3,386.8 628.0,386.9 628.8,387.0 629.6,387.1 630.4,387.1 631.2,387.2 632.0,387.3 632.7,387.4 633.5,387.5 634.3,387.6 635.1,387.7 635.9,387.7 636.7,387.8 637.4,387.9 638.2,388.0 639.0,388.1 639.8,388.1 640.6,388.2 641.4,388.3 642.1,388.4 642.9,388.4 643.7,388.5 644.5,388.6 645.3,388.7 646.1,388.7 646.8,388.8 647.6,388.9 648.4,389.0 649.2,389.0 650.0,389.1 650.8,389.2 651.6,389.2 652.3,389.3 653.1,389.4 653.9,389.4 654.7,389.5 655.5,389.6 656.3,389.6 657.0,389.7 657.8,389.8 658.6,389.8 659.4,389.9 660.2,390.0 661.0,390.0 661.7,390.1 662.5,390.1 663.3,390.2 664.1,390.3 664.9,390.3 665.7,390.4 666.4,390.4 667.2,390.5 668.0,390.6 668.0,390.6" fill="none" stroke="#00BFC4" stroke-width="1.55" stroke-linejoin="round" stroke-linecap="butt"/>
<polyline points="385.3,247.1 385.9,247.3 386.5,247.6 387.1,247.8 387.7,248.1 388.3,248.3 388.9,248.6 389.5,248.8 390.1,249.1 390.7,249.3 391.3,249.6 391.9,249.8 392.5,250.1 393.1,250.3 393.7,250.6 394.3,250.8 394.9,251.0 395.6,251.3 396.2,251.5 396.8,251.8 397.4,252.0 398.0,252.3 398.6,252.5 399.2,252.7 399.8,253.0 400.4,253.2 401.0,253.5 401.6,253.7 402.2,253.9 402.8,254.2 403.4,254.4 404.0,254.6 404.6,254.9 405.2,255.1 405.8,255.4 406.4,255.6 407.0,255.8 407.6,256.1 408.2,256.3 408.8,256.5 409.4,256.8 410.0,257.0 410.6,257.2 411.2,257.5 411.8,257.7 412.4,257.9 413.0,258.2 413.6,258.4 414.2,258.6 414.8,258.8 415.4,259.1 416.1,259.3 416.7,259.5 417.3,259.8 417.9,260.0 418.5,260.2 419.1,260.5 419.7,260.7 420.3,260.9 420.9,261.1 421.5,261.4 422.1,261.6 422.7,261.8 423.3,262.0 423.9,262.3 424.5,262.5 425.1,262.7 425.7,262.9 426.3,263.2 426.9,263.4 427.5,263.6 428.1,263.8 428.7,264.0 429.3,264.3 429.9,264.5 430.5,264.7 431.1,264.9 431.7,265.1 432.3,265.4 432.9,265.6 433.5,265.8 434.1,266.0 434.7,266.2 435.3,266.5 435.9,266.7 436.6,266.9 437.2,267.1 437.8,267.3 438.4,267.5 439.0,267.8 439.6,268.0 440.2,268.2 440.8,268.4 441.4,268.6 442.0,268.8 442.6,269.0 443.2,269.3 443.8,269.5 444.4,269.7 445.0,269.9 445.6,270.1 446.2,270.3 446.8,270.5 447.4,270.7 448.0,270.9 448.6,271.2 449.2,271.4 449.8,271.6 450.4,271.8 451.0,272.0 451.6,272.2 452.2,272.4 452.8,272.6 453.4,272.8 454.0,273.0 454.6,273.2 455.2,273.4 455.8,273.6 456.5,273.8 457.1,274.1 457.7,274.3 458.3,274.5 458.9,274.7 459.5,274.9 460.1,275.1 460.7,275.3 461.3,275.5 461.9,275.7 462.5,275.9 463.1,276.1 463.7,276.3 464.3,276.5 464.9,276.7 465.5,276.9 466.1,277.1 466.7,277.3 467.3,277.5 467.9,277.7 468.5,277.9 469.1,278.1 469.7,278.3 470.3,278.5 470.9,278.7 471.7,278.9 472.5,279.2 473.3,279.4 474.1,279.7 474.8,280.0 475.6,280.2 476.4,280.5 477.2,280.7 478.0,281.0 478.8,281.2 479.5,281.5 480.3,281.7 481.1,282.0 481.9,282.2 482.7,282.5 483.5,282.7 484.2,283.0 485.0,283.2 485.8,283.4 486.6,283.7 487.4,283.9 488.2,284.2 489.0,284.4 489.7,284.7 490.5,284.9 491.3,285.2 492.1,285.4 492.9,285.6 493.7,285.9 494.4,286.1 495.2,286.4 496.0,286.6 496.8,286.8 497.6,287.1 498.4,287.3 499.1,287.6 499.9,287.8 500.7,288.0 501.5,288.3 502.3,288.5 503.1,288.7 503.8,289.0 504.6,289.2 505.4,289.4 506.2,289.7 507.0,289.9 507.8,290.1 508.5,290.4 509.3,290.6 510.1,290.8 510.9,291.1 511.7,291.3 512.5,291.5 513.3,291.7 514.0,292.0 514.8,292.2 515.6,292.4 516.4,292.6 517.2,292.9 518.0,293.1 518.7,293.3 519.5,293.5 520.3,293.8 521.1,294.0 521.9,294.2 522.7,294.4 523.4,294.7 524.2,294.9 525.0,295.1 525.8,295.3 526.6,295.5 527.4,295.8 528.1,296.0 528.9,296.2 529.7,296.4 530.5,296.6 531.3,296.9 532.1,297.1 532.8,297.3 533.6,297.5 534.4,297.7 535.2,297.9 536.0,298.1 536.8,298.4 537.5,298.6 538.3,298.8 539.1,299.0 539.9,299.2 540.7,299.4 541.5,299.6 542.3,299.8 543.0,300.1 543.8,300.3 544.6,300.5 545.4,300.7 546.2,300.9 547.0,301.1 547.7,301.3 548.5,301.5 549.3,301.7 550.1,301.9 550.9,302.1 551.7,302.3 552.4,302.5 553.2,302.8 554.0,303.0 554.8,303.2 555.6,303.4 556.4,303.6 557.1,303.8 557.9,304.0 558.7,304.2 559.5,304.4 560.3,304.6 561.1,304.8 561.8,305.0 562.6,305.2 563.4,305.4 564.2,305.6 565.0,305.8 565.8,306.0 566.6,306.2 567.3,306.4 568.1,306.6 568.9,306.7 569.7,306.9 570.5,307.1 571.3,307.3 572.0,307.5 572.8,307.7 573.6,307.9 574.4,308.1 575.2,308.3 576.0,308.5 576.7,308.7 577.5,308.9 578.3,309.1 579.1,309.3 579.9,309.4 580.7,309.6 581.4,309.8 582.2,310.0 583.0,310.2 583.8,310.4 584.6,310.6 585.4,310.8 586.1,310.9 586.9,311.1 587.7,311.3 588.5,311.5 589.3,311.7 590.1,311.9 590.9,312.1 591.6,312.2 592.4,312.4 593.2,312.6 594.0,312.8 594.8,313.0 595.6,313.2 596.3,313.3 597.1,313.5 597.9,313.7 598.7,313.9 599.5,314.1 600.3,314.2 601.0,314.4 601.8,314.6 602.6,314.8 603.4,315.0 604.2,315.1 605.0,315.3 605.7,315.5 606.5,315.7 607.3,315.8 608.1,316.0 608.9,316.2 609.7,316.4 610.4,316.5 611.2,316.7 612.0,316.9 612.8,317.1 613.6,317.2 614.4,317.4 615.2,317.6 615.9,317.8 616.7,317.9 617.5,318.1 618.3,318.3 619.1,318.4 619.9,318.6 620.6,318.8 621.4,318.9 622.2,319.1 623.0,319.3 623.8,319.5 624.6,319.6 625.3,319.8 626.1,320.0 626.9,320.1 627.7,320.3 628.5,320.5 629.3,320.6 630.0,320.8 630.8,321.0 631.6,321.1 632.4,321.3 633.2,321.4 634.0,321.6 634.7,321.8 635.5,321.9 636.3,322.1 637.1,322.3 637.9,322.4 638.7,322.6 639.5,322.7 640.2,322.9 641.0,323.1 641.8,323.2 642.6,323.4 643.4,323.5 644.2,323.7 644.9,323.9 645.7,324.0 646.5,324.2 647.3,324.3 648.1,324.5 648.9,324.6 649.6,324.8 650.4,325.0 651.2,325.1 652.0,325.3 652.8,325.4 653.6,325.6 654.3,325.7 655.1,325.9 655.9,326.0 656.7,326.2 657.5,326.4 658.3,326.5 659.0,326.7 659.8,326.8 660.6,327.0 661.4,327.1 662.2,327.3 663.0,327.4 663.8,327.6 664.5,327.7 665.3,327.9 666.1,328.0 666.9,328.2 667.7,328.3 668.0,328.4" fill="none" stroke="#00A9FF" stroke-width="1.55" stroke-linejoin="round" stroke-linecap="butt"/>
<polyline points="385.3,247.1 668.0,252.7" fill="none" stroke="#C77CFF" stroke-width="1.5" stroke-linejoin="round" stroke-linecap="butt"/>
<polyline points="385.3,247.1 668.0,247.1" fill="none" stroke="#FF61CC" stroke-width="1.6" stroke-linejoin="round" stroke-linecap="butt" stroke-dasharray="5.5 5.5"/>
<line x1="371" y1="239.5" x2="683" y2="239.5" stroke="#A8A8A8" stroke-width="1"/>
<line x1="371.5" y1="239" x2="371.5" y2="406" stroke="#A8A8A8" stroke-width="1"/>
<line x1="371" y1="405.5" x2="683" y2="405.5" stroke="#A8A8A8" stroke-width="1"/>
<line x1="682.5" y1="239" x2="682.5" y2="406" stroke="#A8A8A8" stroke-width="1"/>
<line x1="369.2" y1="383.375" x2="371.5" y2="383.375" stroke="#8C8C8C" stroke-width="1"/>
<text font-size="8.6" text-anchor="end" fill="#444444" stroke="#444444" stroke-width="0.22" transform="translate(368.00 386.77) scale(0.9 1)">0.25</text>
<line x1="369.2" y1="337.95" x2="371.5" y2="337.95" stroke="#8C8C8C" stroke-width="1"/>
<text font-size="8.6" text-anchor="end" fill="#444444" stroke="#444444" stroke-width="0.22" transform="translate(368.00 341.35) scale(0.9 1)">0.50</text>
<line x1="369.2" y1="292.525" x2="371.5" y2="292.525" stroke="#8C8C8C" stroke-width="1"/>
<text font-size="8.6" text-anchor="end" fill="#444444" stroke="#444444" stroke-width="0.22" transform="translate(368.00 295.92) scale(0.9 1)">0.75</text>
<line x1="369.2" y1="247.1" x2="371.5" y2="247.1" stroke="#8C8C8C" stroke-width="1"/>
<text font-size="8.6" text-anchor="end" fill="#444444" stroke="#444444" stroke-width="0.22" transform="translate(368.00 250.50) scale(0.9 1)">1.00</text>
<line x1="385.3" y1="405.5" x2="385.3" y2="407.3" stroke="#8C8C8C" stroke-width="1"/>
<text font-size="8.6" text-anchor="middle" fill="#444444" stroke="#444444" stroke-width="0.22" transform="translate(385.30 413.80) scale(0.9 1)">0</text>
<line x1="444.2" y1="405.5" x2="444.2" y2="407.3" stroke="#8C8C8C" stroke-width="1"/>
<text font-size="8.6" text-anchor="middle" fill="#444444" stroke="#444444" stroke-width="0.22" transform="translate(444.20 413.80) scale(0.9 1)">5</text>
<line x1="503.1" y1="405.5" x2="503.1" y2="407.3" stroke="#8C8C8C" stroke-width="1"/>
<text font-size="8.6" text-anchor="middle" fill="#444444" stroke="#444444" stroke-width="0.22" transform="translate(503.10 413.80) scale(0.9 1)">10</text>
<line x1="562.0" y1="405.5" x2="562.0" y2="407.3" stroke="#8C8C8C" stroke-width="1"/>
<text font-size="8.6" text-anchor="middle" fill="#444444" stroke="#444444" stroke-width="0.22" transform="translate(562.00 413.80) scale(0.9 1)">15</text>
<line x1="620.9" y1="405.5" x2="620.9" y2="407.3" stroke="#8C8C8C" stroke-width="1"/>
<text font-size="8.6" text-anchor="middle" fill="#444444" stroke="#444444" stroke-width="0.22" transform="translate(620.90 413.80) scale(0.9 1)">20</text>
<line x1="679.8" y1="405.5" x2="679.8" y2="407.3" stroke="#8C8C8C" stroke-width="1"/>
<text font-size="8.6" text-anchor="middle" fill="#444444" stroke="#444444" stroke-width="0.22" transform="translate(679.80 413.80) scale(0.9 1)">25</text>
<text x="371.4" y="234.9" font-size="8.25" font-weight="bold" text-anchor="start" fill="#000000">Gentamicin loss of susceptibility</text>
<text x="527.0" y="422.8" font-size="8.25" font-weight="bold" text-anchor="middle" fill="#000000">Time (hours)</text>
<text x="351.0" y="322.9" font-size="8.25" font-weight="bold" text-anchor="middle" fill="#000000" transform="rotate(-90 351.0 322.9)">Relative effect</text>
<line x1="433.9" y1="435.6" x2="440.29999999999995" y2="435.6" stroke="#F8766D" stroke-width="1.6"/>
<text x="444.3" y="439.0" font-size="8.25" font-weight="bold" text-anchor="start" fill="#000000">0.25 mg/l</text>
<line x1="433.9" y1="446.5" x2="440.29999999999995" y2="446.5" stroke="#CD9600" stroke-width="1.6"/>
<text x="444.3" y="449.9" font-size="8.25" font-weight="bold" text-anchor="start" fill="#000000">0.5 mg/l</text>
<line x1="482.9" y1="435.6" x2="489.29999999999995" y2="435.6" stroke="#7CAE00" stroke-width="1.6"/>
<text x="493.1" y="439.0" font-size="8.25" font-weight="bold" text-anchor="start" fill="#000000">1 mg/l</text>
<line x1="482.9" y1="446.5" x2="489.29999999999995" y2="446.5" stroke="#00BE67" stroke-width="1.6"/>
<text x="493.1" y="449.9" font-size="8.25" font-weight="bold" text-anchor="start" fill="#000000">16 mg/l</text>
<line x1="524.0" y1="435.6" x2="530.4" y2="435.6" stroke="#00BFC4" stroke-width="1.6"/>
<text x="534.5" y="439.0" font-size="8.25" font-weight="bold" text-anchor="start" fill="#000000">2 mg/l</text>
<line x1="524.0" y1="446.5" x2="530.4" y2="446.5" stroke="#00A9FF" stroke-width="1.6"/>
<text x="534.5" y="449.9" font-size="8.25" font-weight="bold" text-anchor="start" fill="#000000">4 mg/l</text>
<line x1="561.2" y1="435.6" x2="567.6" y2="435.6" stroke="#C77CFF" stroke-width="1.6"/>
<text x="571.2" y="439.0" font-size="8.25" font-weight="bold" text-anchor="start" fill="#000000">8 mg/l</text>
<line x1="561.2" y1="446.5" x2="567.6" y2="446.5" stroke="#FF61CC" stroke-width="1.6"/>
<text x="571.2" y="449.9" font-size="8.25" font-weight="bold" text-anchor="start" fill="#000000">Combination</text>
<line x1="410.875" y1="468.5" x2="410.875" y2="634.5" stroke="#F6F6F6" stroke-width="1"/>
<line x1="470.625" y1="468.5" x2="470.625" y2="634.5" stroke="#F6F6F6" stroke-width="1"/>
<line x1="530.375" y1="468.5" x2="530.375" y2="634.5" stroke="#F6F6F6" stroke-width="1"/>
<line x1="590.125" y1="468.5" x2="590.125" y2="634.5" stroke="#F6F6F6" stroke-width="1"/>
<line x1="649.875" y1="468.5" x2="649.875" y2="634.5" stroke="#F6F6F6" stroke-width="1"/>
<line x1="366.5" y1="633.0" x2="682.5" y2="633.0" stroke="#F6F6F6" stroke-width="1"/>
<line x1="366.5" y1="588.0" x2="682.5" y2="588.0" stroke="#F6F6F6" stroke-width="1"/>
<line x1="366.5" y1="543.0" x2="682.5" y2="543.0" stroke="#F6F6F6" stroke-width="1"/>
<line x1="366.5" y1="498.0" x2="682.5" y2="498.0" stroke="#F6F6F6" stroke-width="1"/>
<line x1="381.0" y1="468.5" x2="381.0" y2="634.5" stroke="#F2F2F2" stroke-width="1"/>
<line x1="440.75" y1="468.5" x2="440.75" y2="634.5" stroke="#F2F2F2" stroke-width="1"/>
<line x1="500.5" y1="468.5" x2="500.5" y2="634.5" stroke="#F2F2F2" stroke-width="1"/>
<line x1="560.25" y1="468.5" x2="560.25" y2="634.5" stroke="#F2F2F2" stroke-width="1"/>
<line x1="620.0" y1="468.5" x2="620.0" y2="634.5" stroke="#F2F2F2" stroke-width="1"/>
<line x1="679.75" y1="468.5" x2="679.75" y2="634.5" stroke="#F2F2F2" stroke-width="1"/>
<line x1="366.5" y1="610.5" x2="682.5" y2="610.5" stroke="#F2F2F2" stroke-width="1"/>
<line x1="366.5" y1="565.5" x2="682.5" y2="565.5" stroke="#F2F2F2" stroke-width="1"/>
<line x1="366.5" y1="520.5" x2="682.5" y2="520.5" stroke="#F2F2F2" stroke-width="1"/>
<line x1="366.5" y1="475.5" x2="682.5" y2="475.5" stroke="#F2F2F2" stroke-width="1"/>
<polyline points="381.0,475.5 381.2,476.3 381.3,477.0 381.5,477.8 381.7,478.5 381.8,479.3 382.0,480.1 382.2,480.8 382.3,481.5 382.5,482.3 382.6,483.0 382.8,483.7 383.0,484.5 383.1,485.2 383.3,485.9 383.5,486.6 383.6,487.3 383.8,488.0 384.0,488.7 384.1,489.4 384.3,490.1 384.5,490.8 384.6,491.5 384.8,492.2 385.0,492.9 385.1,493.6 385.3,494.3 385.4,494.9 385.6,495.6 385.8,496.3 385.9,496.9 386.1,497.6 386.3,498.2 386.4,498.9 386.6,499.5 386.8,500.2 386.9,500.8 387.1,501.5 387.3,502.1 387.5,502.9 387.7,503.7 387.9,504.6 388.1,505.4 388.3,506.2 388.5,507.0 388.8,507.7 389.0,508.5 389.2,509.3 389.4,510.1 389.6,510.9 389.8,511.6 390.0,512.4 390.3,513.1 390.5,513.9 390.7,514.6 390.9,515.4 391.1,516.1 391.3,516.8 391.5,517.5 391.8,518.3 392.0,519.0 392.2,519.7 392.4,520.4 392.6,521.1 392.8,521.8 393.0,522.5 393.3,523.2 393.5,523.9 393.7,524.5 393.9,525.2 394.1,525.9 394.3,526.5 394.5,527.2 394.8,527.9 395.0,528.5 395.2,529.2 395.4,529.8 395.6,530.4 395.8,531.1 396.0,531.7 396.3,532.3 396.5,533.0 396.7,533.6 396.9,534.2 397.1,534.8 397.3,535.4 397.5,536.0 397.8,536.6 398.0,537.2 398.2,537.8 398.4,538.4 398.7,539.1 399.0,539.9 399.2,540.6 399.5,541.4 399.8,542.1 400.1,542.8 400.3,543.5 400.6,544.2 400.9,545.0 401.2,545.7 401.5,546.3 401.7,547.0 402.0,547.7 402.3,548.4 402.6,549.1 402.9,549.7 403.1,550.4 403.4,551.0 403.7,551.7 404.0,552.3 404.2,553.0 404.5,553.6 404.8,554.2 405.1,554.8 405.4,555.5 405.6,556.1 405.9,556.7 406.2,557.3 406.5,557.9 406.7,558.5 407.0,559.0 407.3,559.6 407.6,560.2 407.9,560.8 408.1,561.3 408.4,561.9 408.7,562.4 409.0,563.0 409.3,563.5 409.5,564.1 409.8,564.6 410.1,565.1 410.4,565.7 410.6,566.2 411.0,566.9 411.4,567.5 411.7,568.2 412.1,568.8 412.5,569.5 412.8,570.1 413.2,570.7 413.5,571.4 413.9,572.0 414.3,572.6 414.6,573.2 415.0,573.8 415.4,574.4 415.7,574.9 416.1,575.5 416.4,576.1 416.8,576.6 417.2,577.2 417.5,577.7 417.9,578.3 418.2,578.8 418.6,579.4 419.0,579.9 419.3,580.4 419.7,580.9 420.1,581.4 420.4,581.9 420.8,582.4 421.1,582.9 421.5,583.4 421.9,583.9 422.2,584.4 422.6,584.8 423.0,585.3 423.3,585.7 423.7,586.2 424.0,586.6 424.4,587.1 424.8,587.5 425.2,588.1 425.7,588.6 426.2,589.2 426.6,589.7 427.1,590.3 427.6,590.8 428.1,591.3 428.5,591.8 429.0,592.3 429.5,592.8 429.9,593.3 430.4,593.8 430.9,594.2 431.3,594.7 431.8,595.2 432.3,595.6 432.8,596.1 433.2,596.5 433.7,596.9 434.2,597.4 434.6,597.8 435.1,598.2 435.6,598.6 436.1,599.0 436.5,599.4 437.0,599.8 437.5,600.2 437.9,600.6 438.4,601.0 438.9,601.3 439.3,601.7 439.8,602.0 440.3,602.4 440.8,602.7 441.2,603.1 441.7,603.4 442.2,603.8 442.8,604.2 443.4,604.6 444.0,605.0 444.6,605.4 445.2,605.8 445.8,606.2 446.5,606.6 447.1,607.0 447.7,607.3 448.3,607.7 448.9,608.0 449.5,608.4 450.1,608.7 450.7,609.0 451.3,609.4 452.0,609.7 452.6,610.0 453.2,610.3 453.8,610.6 454.4,610.9 455.0,611.2 455.6,611.5 456.2,611.8 456.9,612.1 457.5,612.3 458.1,612.6 458.7,612.9 459.3,613.1 459.9,613.4 460.5,613.6 461.1,613.8 461.7,614.1 462.4,614.3 463.0,614.5 463.6,614.8 464.2,615.0 464.8,615.2 465.4,615.4 466.0,615.6 466.6,615.8 467.2,616.0 467.9,616.2 468.5,616.4 469.1,616.6 469.9,616.8 470.7,617.1 471.5,617.3 472.3,617.5 473.1,617.7 473.9,618.0 474.7,618.2 475.4,618.4 476.2,618.6 477.0,618.8 477.8,618.9 478.6,619.1 479.4,619.3 480.2,619.5 481.0,619.7 481.8,619.8 482.6,620.0 483.4,620.1 484.2,620.3 485.0,620.4 485.8,620.6 486.6,620.7 487.4,620.9 488.2,621.0 489.0,621.1 489.8,621.3 490.6,621.4 491.3,621.5 492.1,621.6 492.9,621.8 493.7,621.9 494.5,622.0 495.3,622.1 496.1,622.2 496.9,622.3 497.7,622.4 498.5,622.5 499.3,622.6 500.1,622.7 500.9,622.8 501.7,622.9 502.5,623.0 503.3,623.0 504.1,623.1 504.9,623.2 505.7,623.3 506.5,623.4 507.3,623.4 508.0,623.5 508.8,623.6 509.6,623.7 510.4,623.7 511.2,623.8 512.0,623.9 512.8,623.9 513.6,624.0 514.4,624.0 515.2,624.1 516.0,624.2 516.8,624.2 517.6,624.3 518.4,624.3 519.2,624.4 520.0,624.4 520.8,624.5 521.6,624.5 522.4,624.6 523.2,624.6 524.0,624.7 524.7,624.7 525.5,624.8 526.3,624.8 527.1,624.8 527.9,624.9 528.7,624.9 529.5,625.0 530.3,625.0 531.1,625.0 531.9,625.1 532.7,625.1 533.5,625.1 534.3,625.2 535.1,625.2 535.9,625.2 536.7,625.3 537.5,625.3 538.3,625.3 539.1,625.3 539.9,625.4 540.7,625.4 541.4,625.4 542.2,625.4 543.0,625.5 543.8,625.5 544.6,625.5 545.4,625.5 546.2,625.6 547.0,625.6 547.8,625.6 548.6,625.6 549.4,625.7 550.2,625.7 551.0,625.7 551.8,625.7 552.6,625.7 553.4,625.7 554.2,625.8 555.0,625.8 555.8,625.8 556.6,625.8 557.3,625.8 558.1,625.8 558.9,625.9 559.7,625.9 560.5,625.9 561.3,625.9 562.1,625.9 562.9,625.9 563.7,625.9 564.5,626.0 565.3,626.0 566.1,626.0 566.9,626.0 567.7,626.0 568.5,626.0 569.3,626.0 570.1,626.0 570.9,626.1 571.7,626.1 572.5,626.1 573.3,626.1 574.0,626.1 574.8,626.1 575.6,626.1 576.4,626.1 577.2,626.1 578.0,626.1 578.8,626.1 579.6,626.2 580.4,626.2 581.2,626.2 582.0,626.2 582.8,626.2 583.6,626.2 584.4,626.2 585.2,626.2 586.0,626.2 586.8,626.2 587.6,626.2 588.4,626.2 589.2,626.2 590.0,626.2 590.7,626.2 591.5,626.3 592.3,626.3 593.1,626.3 593.9,626.3 594.7,626.3 595.5,626.3 596.6,626.3 597.6,626.3 598.6,626.3 599.7,626.3 600.7,626.3 601.7,626.3 602.8,626.3 603.8,626.3 604.8,626.3 605.9,626.3 606.9,626.3 607.9,626.3 609.0,626.3 610.0,626.3 611.0,626.4 612.1,626.4 613.1,626.4 614.1,626.4 615.2,626.4 616.2,626.4 617.2,626.4 618.3,626.4 619.3,626.4 620.3,626.4 621.4,626.4 622.4,626.4 623.4,626.4 624.5,626.4 625.5,626.4 626.5,626.4 627.6,626.4 628.6,626.4 629.6,626.4 630.7,626.4 631.7,626.4 632.7,626.4 633.8,626.4 634.8,626.4 635.8,626.4 636.9,626.4 637.9,626.4 638.9,626.4 640.0,626.4 641.0,626.4 642.0,626.4 643.1,626.4 644.1,626.4 645.1,626.4 646.2,626.4 647.2,626.4 648.2,626.4 649.3,626.4 650.3,626.4 651.3,626.4 652.4,626.4 653.4,626.4 654.4,626.4 655.5,626.4 656.5,626.4 657.5,626.4 658.6,626.4 659.6,626.4 660.6,626.4 661.7,626.4 662.7,626.5 663.7,626.5 664.8,626.5 665.8,626.5 666.8,626.5 667.8,626.5" fill="none" stroke="#F8766D" stroke-width="1.55" stroke-linejoin="round" stroke-linecap="butt"/>
<polyline points="381.0,475.5 381.2,476.3 381.3,477.0 381.5,477.8 381.7,478.5 381.8,479.3 382.0,480.1 382.2,480.8 382.3,481.5 382.5,482.3 382.6,483.0 382.8,483.7 383.0,484.5 383.1,485.2 383.3,485.9 383.5,486.6 383.6,487.3 383.8,488.0 384.0,488.7 384.1,489.4 384.3,490.1 384.5,490.8 384.6,491.5 384.8,492.2 385.0,492.9 385.1,493.6 385.3,494.3 385.4,494.9 385.6,495.6 385.8,496.3 385.9,496.9 386.1,497.6 386.3,498.2 386.4,498.9 386.6,499.5 386.8,500.2 386.9,500.8 387.1,501.5 387.3,502.1 387.5,502.9 387.7,503.7 387.9,504.6 388.1,505.4 388.3,506.2 388.5,507.0 388.8,507.7 389.0,508.5 389.2,509.3 389.4,510.1 389.6,510.9 389.8,511.6 390.0,512.4 390.3,513.1 390.5,513.9 390.7,514.6 390.9,515.4 391.1,516.1 391.3,516.8 391.5,517.5 391.8,518.3 392.0,519.0 392.2,519.7 392.4,520.4 392.6,521.1 392.8,521.8 393.0,522.5 393.3,523.2 393.5,523.9 393.7,524.5 393.9,525.2 394.1,525.9 394.3,526.5 394.5,527.2 394.8,527.9 395.0,528.5 395.2,529.2 395.4,529.8 395.6,530.4 395.8,531.1 396.0,531.7 396.3,532.3 396.5,533.0 396.7,533.6 396.9,534.2 397.1,534.8 397.3,535.4 397.5,536.0 397.8,536.6 398.0,537.2 398.2,537.8 398.4,538.4 398.7,539.1 399.0,539.9 399.2,540.6 399.5,541.4 399.8,542.1 400.1,542.8 400.3,543.5 400.6,544.2 400.9,545.0 401.2,545.7 401.5,546.3 401.7,547.0 402.0,547.7 402.3,548.4 402.6,549.1 402.9,549.7 403.1,550.4 403.4,551.0 403.7,551.7 404.0,552.3 404.2,553.0 404.5,553.6 404.8,554.2 405.1,554.8 405.4,555.5 405.6,556.1 405.9,556.7 406.2,557.3 406.5,557.9 406.7,558.5 407.0,559.0 407.3,559.6 407.6,560.2 407.9,560.8 408.1,561.3 408.4,561.9 408.7,562.4 409.0,563.0 409.3,563.5 409.5,564.1 409.8,564.6 410.1,565.1 410.4,565.7 410.6,566.2 411.0,566.9 411.4,567.5 411.7,568.2 412.1,568.8 412.5,569.5 412.8,570.1 413.2,570.7 413.5,571.4 413.9,572.0 414.3,572.6 414.6,573.2 415.0,573.8 415.4,574.4 415.7,574.9 416.1,575.5 416.4,576.1 416.8,576.6 417.2,577.2 417.5,577.7 417.9,578.3 418.2,578.8 418.6,579.4 419.0,579.9 419.3,580.4 419.7,580.9 420.1,581.4 420.4,581.9 420.8,582.4 421.1,582.9 421.5,583.4 421.9,583.9 422.2,584.4 422.6,584.8 423.0,585.3 423.3,585.7 423.7,586.2 424.0,586.6 424.4,587.1 424.8,587.5 425.2,588.1 425.7,588.6 426.2,589.2 426.6,589.7 427.1,590.3 427.6,590.8 428.1,591.3 428.5,591.8 429.0,592.3 429.5,592.8 429.9,593.3 430.4,593.8 430.9,594.2 431.3,594.7 431.8,595.2 432.3,595.6 432.8,596.1 433.2,596.5 433.7,596.9 434.2,597.4 434.6,597.8 435.1,598.2 435.6,598.6 436.1,599.0 436.5,599.4 437.0,599.8 437.5,600.2 437.9,600.6 438.4,601.0 438.9,601.3 439.3,601.7 439.8,602.0 440.3,602.4 440.8,602.7 441.2,603.1 441.7,603.4 442.2,603.8 442.8,604.2 443.4,604.6 444.0,605.0 444.6,605.4 445.2,605.8 445.8,606.2 446.5,606.6 447.1,607.0 447.7,607.3 448.3,607.7 448.9,608.0 449.5,608.4 450.1,608.7 450.7,609.0 451.3,609.4 452.0,609.7 452.6,610.0 453.2,610.3 453.8,610.6 454.4,610.9 455.0,611.2 455.6,611.5 456.2,611.8 456.9,612.1 457.5,612.3 458.1,612.6 458.7,612.9 459.3,613.1 459.9,613.4 460.5,613.6 461.1,613.8 461.7,614.1 462.4,614.3 463.0,614.5 463.6,614.8 464.2,615.0 464.8,615.2 465.4,615.4 466.0,615.6 466.6,615.8 467.2,616.0 467.9,616.2 468.5,616.4 469.1,616.6 469.9,616.8 470.7,617.1 471.5,617.3 472.3,617.5 473.1,617.7 473.9,618.0 474.7,618.2 475.4,618.4 476.2,618.6 477.0,618.8 477.8,618.9 478.6,619.1 479.4,619.3 480.2,619.5 481.0,619.7 481.8,619.8 482.6,620.0 483.4,620.1 484.2,620.3 485.0,620.4 485.8,620.6 486.6,620.7 487.4,620.9 488.2,621.0 489.0,621.1 489.8,621.3 490.6,621.4 491.3,621.5 492.1,621.6 492.9,621.8 493.7,621.9 494.5,622.0 495.3,622.1 496.1,622.2 496.9,622.3 497.7,622.4 498.5,622.5 499.3,622.6 500.1,622.7 500.9,622.8 501.7,622.9 502.5,623.0 503.3,623.0 504.1,623.1 504.9,623.2 505.7,623.3 506.5,623.4 507.3,623.4 508.0,623.5 508.8,623.6 509.6,623.7 510.4,623.7 511.2,623.8 512.0,623.9 512.8,623.9 513.6,624.0 514.4,624.0 515.2,624.1 516.0,624.2 516.8,624.2 517.6,624.3 518.4,624.3 519.2,624.4 520.0,624.4 520.8,624.5 521.6,624.5 522.4,624.6 523.2,624.6 524.0,624.7 524.7,624.7 525.5,624.8 526.3,624.8 527.1,624.8 527.9,624.9 528.7,624.9 529.5,625.0 530.3,625.0 531.1,625.0 531.9,625.1 532.7,625.1 533.5,625.1 534.3,625.2 535.1,625.2 535.9,625.2 536.7,625.3 537.5,625.3 538.3,625.3 539.1,625.3 539.9,625.4 540.7,625.4 541.4,625.4 542.2,625.4 543.0,625.5 543.8,625.5 544.6,625.5 545.4,625.5 546.2,625.6 547.0,625.6 547.8,625.6 548.6,625.6 549.4,625.7 550.2,625.7 551.0,625.7 551.8,625.7 552.6,625.7 553.4,625.7 554.2,625.8 555.0,625.8 555.8,625.8 556.6,625.8 557.3,625.8 558.1,625.8 558.9,625.9 559.7,625.9 560.5,625.9 561.3,625.9 562.1,625.9 562.9,625.9 563.7,625.9 564.5,626.0 565.3,626.0 566.1,626.0 566.9,626.0 567.7,626.0 568.5,626.0 569.3,626.0 570.1,626.0 570.9,626.1 571.7,626.1 572.5,626.1 573.3,626.1 574.0,626.1 574.8,626.1 575.6,626.1 576.4,626.1 577.2,626.1 578.0,626.1 578.8,626.1 579.6,626.2 580.4,626.2 581.2,626.2 582.0,626.2 582.8,626.2 583.6,626.2 584.4,626.2 585.2,626.2 586.0,626.2 586.8,626.2 587.6,626.2 588.4,626.2 589.2,626.2 590.0,626.2 590.7,626.2 591.5,626.3 592.3,626.3 593.1,626.3 593.9,626.3 594.7,626.3 595.5,626.3 596.6,626.3 597.6,626.3 598.6,626.3 599.7,626.3 600.7,626.3 601.7,626.3 602.8,626.3 603.8,626.3 604.8,626.3 605.9,626.3 606.9,626.3 607.9,626.3 609.0,626.3 610.0,626.3 611.0,626.4 612.1,626.4 613.1,626.4 614.1,626.4 615.2,626.4 616.2,626.4 617.2,626.4 618.3,626.4 619.3,626.4 620.3,626.4 621.4,626.4 622.4,626.4 623.4,626.4 624.5,626.4 625.5,626.4 626.5,626.4 627.6,626.4 628.6,626.4 629.6,626.4 630.7,626.4 631.7,626.4 632.7,626.4 633.8,626.4 634.8,626.4 635.8,626.4 636.9,626.4 637.9,626.4 638.9,626.4 640.0,626.4 641.0,626.4 642.0,626.4 643.1,626.4 644.1,626.4 645.1,626.4 646.2,626.4 647.2,626.4 648.2,626.4 649.3,626.4 650.3,626.4 651.3,626.4 652.4,626.4 653.4,626.4 654.4,626.4 655.5,626.4 656.5,626.4 657.5,626.4 658.6,626.4 659.6,626.4 660.6,626.4 661.7,626.4 662.7,626.5 663.7,626.5 664.8,626.5 665.8,626.5 666.8,626.5 667.8,626.5" fill="none" stroke="#CD9600" stroke-width="1.55" stroke-linejoin="round" stroke-linecap="butt" stroke-dasharray="5.5 5.5"/>
<polyline points="381.0,475.5 381.2,476.2 381.3,476.9 381.5,477.5 381.7,478.2 381.8,478.9 382.0,479.5 382.2,480.2 382.3,480.9 382.5,481.5 382.6,482.2 382.8,482.8 383.0,483.5 383.1,484.1 383.3,484.7 383.5,485.6 383.7,486.4 383.9,487.2 384.2,488.0 384.4,488.8 384.6,489.6 384.8,490.4 385.0,491.2 385.2,492.0 385.4,492.7 385.7,493.5 385.9,494.3 386.1,495.0 386.3,495.8 386.5,496.6 386.7,497.3 386.9,498.1 387.2,498.8 387.4,499.5 387.6,500.3 387.8,501.0 388.0,501.7 388.2,502.4 388.4,503.1 388.7,503.8 388.9,504.5 389.1,505.2 389.3,505.9 389.5,506.6 389.7,507.3 389.9,508.0 390.2,508.6 390.4,509.3 390.6,510.0 390.8,510.6 391.0,511.3 391.2,512.0 391.4,512.6 391.7,513.2 391.9,513.9 392.1,514.5 392.3,515.2 392.5,515.8 392.7,516.4 392.9,517.0 393.2,517.6 393.4,518.3 393.6,518.9 393.8,519.5 394.0,520.1 394.2,520.7 394.4,521.3 394.7,521.8 394.9,522.6 395.2,523.4 395.5,524.1 395.8,524.8 396.0,525.6 396.3,526.3 396.6,527.0 396.9,527.8 397.2,528.5 397.4,529.2 397.7,529.9 398.0,530.6 398.3,531.2 398.6,531.9 398.8,532.6 399.1,533.3 399.4,533.9 399.7,534.6 399.9,535.2 400.2,535.9 400.5,536.5 400.8,537.2 401.1,537.8 401.3,538.4 401.6,539.0 401.9,539.7 402.2,540.3 402.5,540.9 402.7,541.5 403.0,542.1 403.3,542.7 403.6,543.2 403.8,543.8 404.1,544.4 404.4,545.0 404.7,545.5 405.0,546.1 405.2,546.7 405.5,547.2 405.8,547.7 406.1,548.3 406.4,548.8 406.6,549.4 406.9,549.9 407.2,550.4 407.5,551.1 407.9,551.8 408.3,552.4 408.6,553.1 409.0,553.7 409.4,554.4 409.7,555.0 410.1,555.6 410.4,556.2 410.8,556.8 411.2,557.4 411.5,558.0 411.9,558.6 412.3,559.2 412.6,559.8 413.0,560.4 413.3,560.9 413.7,561.5 414.1,562.1 414.4,562.6 414.8,563.1 415.1,563.7 415.5,564.2 415.9,564.7 416.2,565.3 416.6,565.8 417.0,566.3 417.3,566.8 417.7,567.3 418.0,567.8 418.4,568.2 418.8,568.7 419.1,569.2 419.5,569.7 419.9,570.1 420.2,570.6 420.6,571.1 420.9,571.5 421.3,571.9 421.7,572.4 422.1,573.0 422.6,573.5 423.1,574.1 423.5,574.6 424.0,575.1 424.5,575.7 425.0,576.2 425.4,576.7 425.9,577.2 426.4,577.7 426.8,578.2 427.3,578.7 427.8,579.1 428.3,579.6 428.7,580.1 429.2,580.5 429.7,581.0 430.1,581.4 430.6,581.9 431.1,582.3 431.5,582.7 432.0,583.1 432.5,583.5 433.0,583.9 433.4,584.4 433.9,584.7 434.4,585.1 434.8,585.5 435.3,585.9 435.8,586.3 436.2,586.6 436.7,587.0 437.2,587.4 437.7,587.7 438.1,588.1 438.6,588.4 439.1,588.7 439.5,589.1 440.2,589.5 440.8,589.9 441.4,590.3 442.0,590.7 442.6,591.1 443.2,591.5 443.8,591.9 444.4,592.3 445.0,592.6 445.7,593.0 446.3,593.4 446.9,593.7 447.5,594.0 448.1,594.4 448.7,594.7 449.3,595.0 449.9,595.4 450.6,595.7 451.2,596.0 451.8,596.3 452.4,596.6 453.0,596.9 453.6,597.1 454.2,597.4 454.8,597.7 455.4,598.0 456.1,598.2 456.7,598.5 457.3,598.7 457.9,599.0 458.5,599.2 459.1,599.5 459.7,599.7 460.3,599.9 461.0,600.2 461.6,600.4 462.2,600.6 462.8,600.8 463.4,601.0 464.0,601.2 464.6,601.4 465.2,601.6 465.8,601.8 466.5,602.0 467.1,602.2 467.9,602.5 468.7,602.7 469.5,602.9 470.2,603.1 471.0,603.4 471.8,603.6 472.6,603.8 473.4,604.0 474.2,604.2 475.0,604.4 475.8,604.6 476.6,604.7 477.4,604.9 478.2,605.1 479.0,605.3 479.8,605.4 480.6,605.6 481.4,605.8 482.2,605.9 483.0,606.1 483.8,606.2 484.6,606.4 485.4,606.5 486.2,606.6 486.9,606.8 487.7,606.9 488.5,607.0 489.3,607.2 490.1,607.3 490.9,607.4 491.7,607.5 492.5,607.6 493.3,607.7 494.1,607.9 494.9,608.0 495.7,608.1 496.5,608.2 497.3,608.3 498.1,608.4 498.9,608.5 499.7,608.5 500.5,608.6 501.3,608.7 502.1,608.8 502.9,608.9 503.6,609.0 504.4,609.0 505.2,609.1 506.0,609.2 506.8,609.3 507.6,609.3 508.4,609.4 509.2,609.5 510.0,609.6 510.8,609.6 511.6,609.7 512.4,609.7 513.2,609.8 514.0,609.9 514.8,609.9 515.6,610.0 516.4,610.0 517.2,610.1 518.0,610.1 518.8,610.2 519.5,610.2 520.3,610.3 521.1,610.3 521.9,610.4 522.7,610.4 523.5,610.5 524.3,610.5 525.1,610.6 525.9,610.6 526.7,610.6 527.5,610.7 528.3,610.7 529.1,610.8 529.9,610.8 530.7,610.8 531.5,610.9 532.3,610.9 533.1,610.9 533.9,611.0 534.7,611.0 535.5,611.0 536.2,611.1 537.0,611.1 537.8,611.1 538.6,611.1 539.4,611.2 540.2,611.2 541.0,611.2 541.8,611.3 542.6,611.3 543.4,611.3 544.2,611.3 545.0,611.3 545.8,611.4 546.6,611.4 547.4,611.4 548.2,611.4 549.0,611.5 549.8,611.5 550.6,611.5 551.4,611.5 552.2,611.5 552.9,611.6 553.7,611.6 554.5,611.6 555.3,611.6 556.1,611.6 556.9,611.6 557.7,611.7 558.5,611.7 559.3,611.7 560.1,611.7 560.9,611.7 561.7,611.7 562.5,611.7 563.3,611.8 564.1,611.8 564.9,611.8 565.7,611.8 566.5,611.8 567.3,611.8 568.1,611.8 568.8,611.8 569.6,611.8 570.4,611.9 571.2,611.9 572.0,611.9 572.8,611.9 573.6,611.9 574.4,611.9 575.2,611.9 576.0,611.9 576.8,611.9 577.6,611.9 578.4,612.0 579.2,612.0 580.0,612.0 580.8,612.0 581.6,612.0 582.4,612.0 583.2,612.0 584.0,612.0 584.8,612.0 585.5,612.0 586.3,612.0 587.1,612.0 587.9,612.0 588.7,612.0 589.5,612.1 590.3,612.1 591.1,612.1 591.9,612.1 592.7,612.1 593.5,612.1 594.3,612.1 595.1,612.1 595.9,612.1 596.7,612.1 597.7,612.1 598.7,612.1 599.8,612.1 600.8,612.1 601.8,612.1 602.9,612.1 603.9,612.1 605.0,612.1 606.0,612.1 607.0,612.2 608.1,612.2 609.1,612.2 610.1,612.2 611.2,612.2 612.2,612.2 613.2,612.2 614.3,612.2 615.3,612.2 616.3,612.2 617.4,612.2 618.4,612.2 619.4,612.2 620.5,612.2 621.5,612.2 622.5,612.2 623.6,612.2 624.6,612.2 625.6,612.2 626.7,612.2 627.7,612.2 628.7,612.2 629.8,612.2 630.8,612.2 631.8,612.2 632.9,612.2 633.9,612.2 634.9,612.2 636.0,612.2 637.0,612.2 638.0,612.2 639.1,612.2 640.1,612.2 641.1,612.2 642.2,612.2 643.2,612.3 644.2,612.3 645.3,612.3 646.3,612.3 647.3,612.3 648.4,612.3 649.4,612.3 650.4,612.3 651.5,612.3 652.5,612.3 653.5,612.3 654.6,612.3 655.6,612.3 656.6,612.3 657.7,612.3 658.7,612.3 659.7,612.3 660.8,612.3 661.8,612.3 662.8,612.3 663.9,612.3 664.9,612.3 665.9,612.3 667.0,612.3 667.8,612.3" fill="none" stroke="#7CAE00" stroke-width="1.55" stroke-linejoin="round" stroke-linecap="butt"/>
<polyline points="381.0,475.5 381.8,475.7 382.6,475.9 383.4,476.1 384.2,476.3 385.0,476.5 385.8,476.7 386.6,476.9 387.4,477.0 388.2,477.2 389.0,477.4 389.7,477.5 390.5,477.7 391.3,477.8 392.1,478.0 392.9,478.1 393.7,478.3 394.5,478.4 395.3,478.5 396.1,478.7 396.9,478.8 397.7,478.9 398.5,479.1 399.3,479.2 400.1,479.3 400.9,479.4 401.7,479.5 402.5,479.6 403.3,479.7 404.1,479.8 404.9,479.9 405.7,480.0 406.4,480.1 407.2,480.2 408.0,480.3 408.8,480.4 409.6,480.5 410.4,480.6 411.2,480.6 412.0,480.7 412.8,480.8 413.6,480.9 414.4,480.9 415.2,481.0 416.0,481.1 416.8,481.2 417.6,481.2 418.4,481.3 419.2,481.4 420.0,481.4 420.8,481.5 421.6,481.5 422.3,481.6 423.1,481.6 423.9,481.7 424.7,481.8 425.5,481.8 426.3,481.9 427.1,481.9 427.9,482.0 428.7,482.0 429.5,482.0 430.3,482.1 431.1,482.1 431.9,482.2 432.7,482.2 433.5,482.3 434.3,482.3 435.1,482.3 435.9,482.4 436.7,482.4 437.5,482.4 438.3,482.5 439.0,482.5 439.8,482.5 440.6,482.6 441.4,482.6 442.2,482.6 443.0,482.7 443.8,482.7 444.6,482.7 445.4,482.8 446.2,482.8 447.0,482.8 447.8,482.8 448.6,482.9 449.4,482.9 450.2,482.9 451.0,482.9 451.8,482.9 452.6,483.0 453.4,483.0 454.2,483.0 455.0,483.0 455.7,483.1 456.5,483.1 457.3,483.1 458.1,483.1 458.9,483.1 459.7,483.1 460.5,483.2 461.3,483.2 462.1,483.2 462.9,483.2 463.7,483.2 464.5,483.2 465.3,483.3 466.1,483.3 466.9,483.3 467.7,483.3 468.5,483.3 469.3,483.3 470.1,483.3 470.9,483.3 471.6,483.4 472.4,483.4 473.2,483.4 474.0,483.4 474.8,483.4 475.6,483.4 476.4,483.4 477.2,483.4 478.0,483.4 478.8,483.5 479.6,483.5 480.4,483.5 481.2,483.5 482.0,483.5 482.8,483.5 483.6,483.5 484.4,483.5 485.2,483.5 486.0,483.5 486.8,483.5 487.6,483.5 488.3,483.6 489.1,483.6 489.9,483.6 490.7,483.6 491.5,483.6 492.3,483.6 493.1,483.6 493.9,483.6 494.7,483.6 495.5,483.6 496.3,483.6 497.1,483.6 497.9,483.6 498.7,483.6 499.5,483.6 500.5,483.6 501.5,483.6 502.6,483.7 503.6,483.7 504.6,483.7 505.7,483.7 506.7,483.7 507.8,483.7 508.8,483.7 509.8,483.7 510.9,483.7 511.9,483.7 512.9,483.7 514.0,483.7 515.0,483.7 516.0,483.7 517.1,483.7 518.1,483.7 519.1,483.7 520.2,483.7 521.2,483.7 522.2,483.7 523.3,483.7 524.3,483.7 525.3,483.7 526.4,483.7 527.4,483.7 528.4,483.7 529.5,483.8 530.5,483.8 531.5,483.8 532.6,483.8 533.6,483.8 534.6,483.8 535.7,483.8 536.7,483.8 537.7,483.8 538.8,483.8 539.8,483.8 540.8,483.8 541.9,483.8 542.9,483.8 543.9,483.8 545.0,483.8 546.0,483.8 547.0,483.8 548.1,483.8 549.1,483.8 550.1,483.8 551.2,483.8 552.2,483.8 553.2,483.8 554.3,483.8 555.3,483.8 556.3,483.8 557.4,483.8 558.4,483.8 559.4,483.8 560.5,483.8 561.5,483.8 562.5,483.8 563.6,483.8 564.6,483.8 565.6,483.8 566.7,483.8 567.7,483.8 568.7,483.8 569.8,483.8 570.8,483.8 571.8,483.8 572.9,483.8 573.9,483.8 574.9,483.8 576.0,483.8 577.0,483.8 578.0,483.8 579.1,483.8 580.1,483.8 581.1,483.8 582.2,483.8 583.2,483.8 584.2,483.8 585.3,483.8 586.3,483.8 587.3,483.8 588.4,483.8 589.4,483.8 590.4,483.8 591.5,483.8 592.5,483.8 593.5,483.8 594.6,483.8 595.6,483.8 596.7,483.8 597.7,483.8 598.7,483.8 599.8,483.8 600.8,483.8 601.8,483.8 602.9,483.8 603.9,483.8 604.9,483.8 606.0,483.8 607.0,483.8 608.0,483.8 609.1,483.8 610.1,483.8 611.1,483.8 612.2,483.8 613.2,483.8 614.2,483.8 615.3,483.8 616.3,483.8 617.3,483.8 618.4,483.8 619.4,483.8 620.4,483.8 621.5,483.8 622.5,483.8 623.5,483.8 624.6,483.8 625.6,483.8 626.6,483.8 627.7,483.8 628.7,483.8 629.7,483.8 630.8,483.8 631.8,483.8 632.8,483.8 633.9,483.8 634.9,483.8 635.9,483.8 637.0,483.8 638.0,483.8 639.0,483.8 640.1,483.8 641.1,483.8 642.1,483.8 643.2,483.8 644.2,483.8 645.2,483.8 646.3,483.8 647.3,483.8 648.3,483.8 649.4,483.8 650.4,483.8 651.4,483.8 652.5,483.8 653.5,483.8 654.5,483.8 655.6,483.8 656.6,483.8 657.6,483.8 658.7,483.8 659.7,483.8 660.7,483.8 661.8,483.8 662.8,483.8 663.8,483.8 664.9,483.8 665.9,483.8 666.9,483.8 667.8,483.8" fill="none" stroke="#00BE67" stroke-width="1.55" stroke-linejoin="round" stroke-linecap="butt"/>
<polyline points="381.0,475.5 381.8,475.7 382.6,475.9 383.4,476.1 384.2,476.3 385.0,476.5 385.8,476.7 386.6,476.9 387.4,477.0 388.2,477.2 389.0,477.4 389.7,477.5 390.5,477.7 391.3,477.8 392.1,478.0 392.9,478.1 393.7,478.3 394.5,478.4 395.3,478.5 396.1,478.7 396.9,478.8 397.7,478.9 398.5,479.1 399.3,479.2 400.1,479.3 400.9,479.4 401.7,479.5 402.5,479.6 403.3,479.7 404.1,479.8 404.9,479.9 405.7,480.0 406.4,480.1 407.2,480.2 408.0,480.3 408.8,480.4 409.6,480.5 410.4,480.6 411.2,480.6 412.0,480.7 412.8,480.8 413.6,480.9 414.4,480.9 415.2,481.0 416.0,481.1 416.8,481.2 417.6,481.2 418.4,481.3 419.2,481.4 420.0,481.4 420.8,481.5 421.6,481.5 422.3,481.6 423.1,481.6 423.9,481.7 424.7,481.8 425.5,481.8 426.3,481.9 427.1,481.9 427.9,482.0 428.7,482.0 429.5,482.0 430.3,482.1 431.1,482.1 431.9,482.2 432.7,482.2 433.5,482.3 434.3,482.3 435.1,482.3 435.9,482.4 436.7,482.4 437.5,482.4 438.3,482.5 439.0,482.5 439.8,482.5 440.6,482.6 441.4,482.6 442.2,482.6 443.0,482.7 443.8,482.7 444.6,482.7 445.4,482.8 446.2,482.8 447.0,482.8 447.8,482.8 448.6,482.9 449.4,482.9 450.2,482.9 451.0,482.9 451.8,482.9 452.6,483.0 453.4,483.0 454.2,483.0 455.0,483.0 455.7,483.1 456.5,483.1 457.3,483.1 458.1,483.1 458.9,483.1 459.7,483.1 460.5,483.2 461.3,483.2 462.1,483.2 462.9,483.2 463.7,483.2 464.5,483.2 465.3,483.3 466.1,483.3 466.9,483.3 467.7,483.3 468.5,483.3 469.3,483.3 470.1,483.3 470.9,483.3 471.6,483.4 472.4,483.4 473.2,483.4 474.0,483.4 474.8,483.4 475.6,483.4 476.4,483.4 477.2,483.4 478.0,483.4 478.8,483.5 479.6,483.5 480.4,483.5 481.2,483.5 482.0,483.5 482.8,483.5 483.6,483.5 484.4,483.5 485.2,483.5 486.0,483.5 486.8,483.5 487.6,483.5 488.3,483.6 489.1,483.6 489.9,483.6 490.7,483.6 491.5,483.6 492.3,483.6 493.1,483.6 493.9,483.6 494.7,483.6 495.5,483.6 496.3,483.6 497.1,483.6 497.9,483.6 498.7,483.6 499.5,483.6 500.5,483.6 501.5,483.6 502.6,483.7 503.6,483.7 504.6,483.7 505.7,483.7 506.7,483.7 507.8,483.7 508.8,483.7 509.8,483.7 510.9,483.7 511.9,483.7 512.9,483.7 514.0,483.7 515.0,483.7 516.0,483.7 517.1,483.7 518.1,483.7 519.1,483.7 520.2,483.7 521.2,483.7 522.2,483.7 523.3,483.7 524.3,483.7 525.3,483.7 526.4,483.7 527.4,483.7 528.4,483.7 529.5,483.8 530.5,483.8 531.5,483.8 532.6,483.8 533.6,483.8 534.6,483.8 535.7,483.8 536.7,483.8 537.7,483.8 538.8,483.8 539.8,483.8 540.8,483.8 541.9,483.8 542.9,483.8 543.9,483.8 545.0,483.8 546.0,483.8 547.0,483.8 548.1,483.8 549.1,483.8 550.1,483.8 551.2,483.8 552.2,483.8 553.2,483.8 554.3,483.8 555.3,483.8 556.3,483.8 557.4,483.8 558.4,483.8 559.4,483.8 560.5,483.8 561.5,483.8 562.5,483.8 563.6,483.8 564.6,483.8 565.6,483.8 566.7,483.8 567.7,483.8 568.7,483.8 569.8,483.8 570.8,483.8 571.8,483.8 572.9,483.8 573.9,483.8 574.9,483.8 576.0,483.8 577.0,483.8 578.0,483.8 579.1,483.8 580.1,483.8 581.1,483.8 582.2,483.8 583.2,483.8 584.2,483.8 585.3,483.8 586.3,483.8 587.3,483.8 588.4,483.8 589.4,483.8 590.4,483.8 591.5,483.8 592.5,483.8 593.5,483.8 594.6,483.8 595.6,483.8 596.7,483.8 597.7,483.8 598.7,483.8 599.8,483.8 600.8,483.8 601.8,483.8 602.9,483.8 603.9,483.8 604.9,483.8 606.0,483.8 607.0,483.8 608.0,483.8 609.1,483.8 610.1,483.8 611.1,483.8 612.2,483.8 613.2,483.8 614.2,483.8 615.3,483.8 616.3,483.8 617.3,483.8 618.4,483.8 619.4,483.8 620.4,483.8 621.5,483.8 622.5,483.8 623.5,483.8 624.6,483.8 625.6,483.8 626.6,483.8 627.7,483.8 628.7,483.8 629.7,483.8 630.8,483.8 631.8,483.8 632.8,483.8 633.9,483.8 634.9,483.8 635.9,483.8 637.0,483.8 638.0,483.8 639.0,483.8 640.1,483.8 641.1,483.8 642.1,483.8 643.2,483.8 644.2,483.8 645.2,483.8 646.3,483.8 647.3,483.8 648.3,483.8 649.4,483.8 650.4,483.8 651.4,483.8 652.5,483.8 653.5,483.8 654.5,483.8 655.6,483.8 656.6,483.8 657.6,483.8 658.7,483.8 659.7,483.8 660.7,483.8 661.8,483.8 662.8,483.8 663.8,483.8 664.9,483.8 665.9,483.8 666.9,483.8 667.8,483.8" fill="none" stroke="#00BFC4" stroke-width="1.55" stroke-linejoin="round" stroke-linecap="butt" stroke-dasharray="4 7" stroke-dashoffset="5.5"/>
<polyline points="381.0,475.5 381.8,475.7 382.6,475.9 383.4,476.1 384.2,476.3 385.0,476.5 385.8,476.7 386.6,476.9 387.4,477.0 388.2,477.2 389.0,477.4 389.7,477.5 390.5,477.7 391.3,477.8 392.1,478.0 392.9,478.1 393.7,478.3 394.5,478.4 395.3,478.5 396.1,478.7 396.9,478.8 397.7,478.9 398.5,479.1 399.3,479.2 400.1,479.3 400.9,479.4 401.7,479.5 402.5,479.6 403.3,479.7 404.1,479.8 404.9,479.9 405.7,480.0 406.4,480.1 407.2,480.2 408.0,480.3 408.8,480.4 409.6,480.5 410.4,480.6 411.2,480.6 412.0,480.7 412.8,480.8 413.6,480.9 414.4,480.9 415.2,481.0 416.0,481.1 416.8,481.2 417.6,481.2 418.4,481.3 419.2,481.4 420.0,481.4 420.8,481.5 421.6,481.5 422.3,481.6 423.1,481.6 423.9,481.7 424.7,481.8 425.5,481.8 426.3,481.9 427.1,481.9 427.9,482.0 428.7,482.0 429.5,482.0 430.3,482.1 431.1,482.1 431.9,482.2 432.7,482.2 433.5,482.3 434.3,482.3 435.1,482.3 435.9,482.4 436.7,482.4 437.5,482.4 438.3,482.5 439.0,482.5 439.8,482.5 440.6,482.6 441.4,482.6 442.2,482.6 443.0,482.7 443.8,482.7 444.6,482.7 445.4,482.8 446.2,482.8 447.0,482.8 447.8,482.8 448.6,482.9 449.4,482.9 450.2,482.9 451.0,482.9 451.8,482.9 452.6,483.0 453.4,483.0 454.2,483.0 455.0,483.0 455.7,483.1 456.5,483.1 457.3,483.1 458.1,483.1 458.9,483.1 459.7,483.1 460.5,483.2 461.3,483.2 462.1,483.2 462.9,483.2 463.7,483.2 464.5,483.2 465.3,483.3 466.1,483.3 466.9,483.3 467.7,483.3 468.5,483.3 469.3,483.3 470.1,483.3 470.9,483.3 471.6,483.4 472.4,483.4 473.2,483.4 474.0,483.4 474.8,483.4 475.6,483.4 476.4,483.4 477.2,483.4 478.0,483.4 478.8,483.5 479.6,483.5 480.4,483.5 481.2,483.5 482.0,483.5 482.8,483.5 483.6,483.5 484.4,483.5 485.2,483.5 486.0,483.5 486.8,483.5 487.6,483.5 488.3,483.6 489.1,483.6 489.9,483.6 490.7,483.6 491.5,483.6 492.3,483.6 493.1,483.6 493.9,483.6 494.7,483.6 495.5,483.6 496.3,483.6 497.1,483.6 497.9,483.6 498.7,483.6 499.5,483.6 500.5,483.6 501.5,483.6 502.6,483.7 503.6,483.7 504.6,483.7 505.7,483.7 506.7,483.7 507.8,483.7 508.8,483.7 509.8,483.7 510.9,483.7 511.9,483.7 512.9,483.7 514.0,483.7 515.0,483.7 516.0,483.7 517.1,483.7 518.1,483.7 519.1,483.7 520.2,483.7 521.2,483.7 522.2,483.7 523.3,483.7 524.3,483.7 525.3,483.7 526.4,483.7 527.4,483.7 528.4,483.7 529.5,483.8 530.5,483.8 531.5,483.8 532.6,483.8 533.6,483.8 534.6,483.8 535.7,483.8 536.7,483.8 537.7,483.8 538.8,483.8 539.8,483.8 540.8,483.8 541.9,483.8 542.9,483.8 543.9,483.8 545.0,483.8 546.0,483.8 547.0,483.8 548.1,483.8 549.1,483.8 550.1,483.8 551.2,483.8 552.2,483.8 553.2,483.8 554.3,483.8 555.3,483.8 556.3,483.8 557.4,483.8 558.4,483.8 559.4,483.8 560.5,483.8 561.5,483.8 562.5,483.8 563.6,483.8 564.6,483.8 565.6,483.8 566.7,483.8 567.7,483.8 568.7,483.8 569.8,483.8 570.8,483.8 571.8,483.8 572.9,483.8 573.9,483.8 574.9,483.8 576.0,483.8 577.0,483.8 578.0,483.8 579.1,483.8 580.1,483.8 581.1,483.8 582.2,483.8 583.2,483.8 584.2,483.8 585.3,483.8 586.3,483.8 587.3,483.8 588.4,483.8 589.4,483.8 590.4,483.8 591.5,483.8 592.5,483.8 593.5,483.8 594.6,483.8 595.6,483.8 596.7,483.8 597.7,483.8 598.7,483.8 599.8,483.8 600.8,483.8 601.8,483.8 602.9,483.8 603.9,483.8 604.9,483.8 606.0,483.8 607.0,483.8 608.0,483.8 609.1,483.8 610.1,483.8 611.1,483.8 612.2,483.8 613.2,483.8 614.2,483.8 615.3,483.8 616.3,483.8 617.3,483.8 618.4,483.8 619.4,483.8 620.4,483.8 621.5,483.8 622.5,483.8 623.5,483.8 624.6,483.8 625.6,483.8 626.6,483.8 627.7,483.8 628.7,483.8 629.7,483.8 630.8,483.8 631.8,483.8 632.8,483.8 633.9,483.8 634.9,483.8 635.9,483.8 637.0,483.8 638.0,483.8 639.0,483.8 640.1,483.8 641.1,483.8 642.1,483.8 643.2,483.8 644.2,483.8 645.2,483.8 646.3,483.8 647.3,483.8 648.3,483.8 649.4,483.8 650.4,483.8 651.4,483.8 652.5,483.8 653.5,483.8 654.5,483.8 655.6,483.8 656.6,483.8 657.6,483.8 658.7,483.8 659.7,483.8 660.7,483.8 661.8,483.8 662.8,483.8 663.8,483.8 664.9,483.8 665.9,483.8 666.9,483.8 667.8,483.8" fill="none" stroke="#00A9FF" stroke-width="1.55" stroke-linejoin="round" stroke-linecap="butt" stroke-dasharray="1.5 6" stroke-dashoffset="3"/>
<polyline points="381.0,475.5 381.8,475.7 382.6,475.9 383.4,476.1 384.2,476.3 385.0,476.5 385.8,476.7 386.6,476.9 387.4,477.0 388.2,477.2 389.0,477.4 389.7,477.5 390.5,477.7 391.3,477.8 392.1,478.0 392.9,478.1 393.7,478.3 394.5,478.4 395.3,478.5 396.1,478.7 396.9,478.8 397.7,478.9 398.5,479.1 399.3,479.2 400.1,479.3 400.9,479.4 401.7,479.5 402.5,479.6 403.3,479.7 404.1,479.8 404.9,479.9 405.7,480.0 406.4,480.1 407.2,480.2 408.0,480.3 408.8,480.4 409.6,480.5 410.4,480.6 411.2,480.6 412.0,480.7 412.8,480.8 413.6,480.9 414.4,480.9 415.2,481.0 416.0,481.1 416.8,481.2 417.6,481.2 418.4,481.3 419.2,481.4 420.0,481.4 420.8,481.5 421.6,481.5 422.3,481.6 423.1,481.6 423.9,481.7 424.7,481.8 425.5,481.8 426.3,481.9 427.1,481.9 427.9,482.0 428.7,482.0 429.5,482.0 430.3,482.1 431.1,482.1 431.9,482.2 432.7,482.2 433.5,482.3 434.3,482.3 435.1,482.3 435.9,482.4 436.7,482.4 437.5,482.4 438.3,482.5 439.0,482.5 439.8,482.5 440.6,482.6 441.4,482.6 442.2,482.6 443.0,482.7 443.8,482.7 444.6,482.7 445.4,482.8 446.2,482.8 447.0,482.8 447.8,482.8 448.6,482.9 449.4,482.9 450.2,482.9 451.0,482.9 451.8,482.9 452.6,483.0 453.4,483.0 454.2,483.0 455.0,483.0 455.7,483.1 456.5,483.1 457.3,483.1 458.1,483.1 458.9,483.1 459.7,483.1 460.5,483.2 461.3,483.2 462.1,483.2 462.9,483.2 463.7,483.2 464.5,483.2 465.3,483.3 466.1,483.3 466.9,483.3 467.7,483.3 468.5,483.3 469.3,483.3 470.1,483.3 470.9,483.3 471.6,483.4 472.4,483.4 473.2,483.4 474.0,483.4 474.8,483.4 475.6,483.4 476.4,483.4 477.2,483.4 478.0,483.4 478.8,483.5 479.6,483.5 480.4,483.5 481.2,483.5 482.0,483.5 482.8,483.5 483.6,483.5 484.4,483.5 485.2,483.5 486.0,483.5 486.8,483.5 487.6,483.5 488.3,483.6 489.1,483.6 489.9,483.6 490.7,483.6 491.5,483.6 492.3,483.6 493.1,483.6 493.9,483.6 494.7,483.6 495.5,483.6 496.3,483.6 497.1,483.6 497.9,483.6 498.7,483.6 499.5,483.6 500.5,483.6 501.5,483.6 502.6,483.7 503.6,483.7 504.6,483.7 505.7,483.7 506.7,483.7 507.8,483.7 508.8,483.7 509.8,483.7 510.9,483.7 511.9,483.7 512.9,483.7 514.0,483.7 515.0,483.7 516.0,483.7 517.1,483.7 518.1,483.7 519.1,483.7 520.2,483.7 521.2,483.7 522.2,483.7 523.3,483.7 524.3,483.7 525.3,483.7 526.4,483.7 527.4,483.7 528.4,483.7 529.5,483.8 530.5,483.8 531.5,483.8 532.6,483.8 533.6,483.8 534.6,483.8 535.7,483.8 536.7,483.8 537.7,483.8 538.8,483.8 539.8,483.8 540.8,483.8 541.9,483.8 542.9,483.8 543.9,483.8 545.0,483.8 546.0,483.8 547.0,483.8 548.1,483.8 549.1,483.8 550.1,483.8 551.2,483.8 552.2,483.8 553.2,483.8 554.3,483.8 555.3,483.8 556.3,483.8 557.4,483.8 558.4,483.8 559.4,483.8 560.5,483.8 561.5,483.8 562.5,483.8 563.6,483.8 564.6,483.8 565.6,483.8 566.7,483.8 567.7,483.8 568.7,483.8 569.8,483.8 570.8,483.8 571.8,483.8 572.9,483.8 573.9,483.8 574.9,483.8 576.0,483.8 577.0,483.8 578.0,483.8 579.1,483.8 580.1,483.8 581.1,483.8 582.2,483.8 583.2,483.8 584.2,483.8 585.3,483.8 586.3,483.8 587.3,483.8 588.4,483.8 589.4,483.8 590.4,483.8 591.5,483.8 592.5,483.8 593.5,483.8 594.6,483.8 595.6,483.8 596.7,483.8 597.7,483.8 598.7,483.8 599.8,483.8 600.8,483.8 601.8,483.8 602.9,483.8 603.9,483.8 604.9,483.8 606.0,483.8 607.0,483.8 608.0,483.8 609.1,483.8 610.1,483.8 611.1,483.8 612.2,483.8 613.2,483.8 614.2,483.8 615.3,483.8 616.3,483.8 617.3,483.8 618.4,483.8 619.4,483.8 620.4,483.8 621.5,483.8 622.5,483.8 623.5,483.8 624.6,483.8 625.6,483.8 626.6,483.8 627.7,483.8 628.7,483.8 629.7,483.8 630.8,483.8 631.8,483.8 632.8,483.8 633.9,483.8 634.9,483.8 635.9,483.8 637.0,483.8 638.0,483.8 639.0,483.8 640.1,483.8 641.1,483.8 642.1,483.8 643.2,483.8 644.2,483.8 645.2,483.8 646.3,483.8 647.3,483.8 648.3,483.8 649.4,483.8 650.4,483.8 651.4,483.8 652.5,483.8 653.5,483.8 654.5,483.8 655.6,483.8 656.6,483.8 657.6,483.8 658.7,483.8 659.7,483.8 660.7,483.8 661.8,483.8 662.8,483.8 663.8,483.8 664.9,483.8 665.9,483.8 666.9,483.8 667.8,483.8" fill="none" stroke="#C77CFF" stroke-width="1.55" stroke-linejoin="round" stroke-linecap="butt" stroke-dasharray="4.5 6.5"/>
<polyline points="381.0,475.5 667.8,475.5" fill="none" stroke="#FF61CC" stroke-width="1.6" stroke-linejoin="round" stroke-linecap="butt"/>
<line x1="366" y1="468.5" x2="683" y2="468.5" stroke="#A8A8A8" stroke-width="1"/>
<line x1="366.5" y1="468" x2="366.5" y2="635" stroke="#A8A8A8" stroke-width="1"/>
<line x1="366" y1="634.0" x2="683" y2="634.0" stroke="#A8A8A8" stroke-width="1"/>
<line x1="682.5" y1="468" x2="682.5" y2="635" stroke="#A8A8A8" stroke-width="1"/>
<line x1="364.2" y1="610.5" x2="366.5" y2="610.5" stroke="#8C8C8C" stroke-width="1"/>
<text font-size="8.6" text-anchor="end" fill="#444444" stroke="#444444" stroke-width="0.22" transform="translate(363.00 613.90) scale(0.9 1)">0.4</text>
<line x1="364.2" y1="565.5" x2="366.5" y2="565.5" stroke="#8C8C8C" stroke-width="1"/>
<text font-size="8.6" text-anchor="end" fill="#444444" stroke="#444444" stroke-width="0.22" transform="translate(363.00 568.90) scale(0.9 1)">0.6</text>
<line x1="364.2" y1="520.5" x2="366.5" y2="520.5" stroke="#8C8C8C" stroke-width="1"/>
<text font-size="8.6" text-anchor="end" fill="#444444" stroke="#444444" stroke-width="0.22" transform="translate(363.00 523.90) scale(0.9 1)">0.8</text>
<line x1="364.2" y1="475.5" x2="366.5" y2="475.5" stroke="#8C8C8C" stroke-width="1"/>
<text font-size="8.6" text-anchor="end" fill="#444444" stroke="#444444" stroke-width="0.22" transform="translate(363.00 478.90) scale(0.9 1)">1.0</text>
<line x1="381.0" y1="634.5" x2="381.0" y2="636.3" stroke="#8C8C8C" stroke-width="1"/>
<text font-size="8.6" text-anchor="middle" fill="#444444" stroke="#444444" stroke-width="0.22" transform="translate(381.00 643.00) scale(0.9 1)">0</text>
<line x1="440.75" y1="634.5" x2="440.75" y2="636.3" stroke="#8C8C8C" stroke-width="1"/>
<text font-size="8.6" text-anchor="middle" fill="#444444" stroke="#444444" stroke-width="0.22" transform="translate(440.75 643.00) scale(0.9 1)">5</text>
<line x1="500.5" y1="634.5" x2="500.5" y2="636.3" stroke="#8C8C8C" stroke-width="1"/>
<text font-size="8.6" text-anchor="middle" fill="#444444" stroke="#444444" stroke-width="0.22" transform="translate(500.50 643.00) scale(0.9 1)">10</text>
<line x1="560.25" y1="634.5" x2="560.25" y2="636.3" stroke="#8C8C8C" stroke-width="1"/>
<text font-size="8.6" text-anchor="middle" fill="#444444" stroke="#444444" stroke-width="0.22" transform="translate(560.25 643.00) scale(0.9 1)">15</text>
<line x1="620.0" y1="634.5" x2="620.0" y2="636.3" stroke="#8C8C8C" stroke-width="1"/>
<text font-size="8.6" text-anchor="middle" fill="#444444" stroke="#444444" stroke-width="0.22" transform="translate(620.00 643.00) scale(0.9 1)">20</text>
<line x1="679.75" y1="634.5" x2="679.75" y2="636.3" stroke="#8C8C8C" stroke-width="1"/>
<text font-size="8.6" text-anchor="middle" fill="#444444" stroke="#444444" stroke-width="0.22" transform="translate(679.75 643.00) scale(0.9 1)">25</text>
<text x="366.9" y="463.9" font-size="8.25" font-weight="bold" text-anchor="start" fill="#000000">Ciprofloxacin loss of susceptibility</text>
<text x="524.5" y="652.2" font-size="8.25" font-weight="bold" text-anchor="middle" fill="#000000">Time (hours)</text>
<text x="351.0" y="551.0" font-size="8.25" font-weight="bold" text-anchor="middle" fill="#000000" transform="rotate(-90 351.0 551.0)">Relative effect</text>
<line x1="419.1" y1="664.9" x2="424.90000000000003" y2="664.9" stroke="#F8766D" stroke-width="1.6"/>
<text x="428.7" y="668.1" font-size="8.25" font-weight="bold" text-anchor="start" fill="#000000">0.004 mg/l</text>
<line x1="420.5" y1="675.1" x2="423.90000000000003" y2="675.1" stroke="#CD9600" stroke-width="1.6"/>
<text x="428.7" y="678.3000000000001" font-size="8.25" font-weight="bold" text-anchor="start" fill="#000000">0.008 mg/l</text>
<line x1="471.5" y1="664.9" x2="478.1" y2="664.9" stroke="#7CAE00" stroke-width="1.6"/>
<text x="481.5" y="668.1" font-size="8.25" font-weight="bold" text-anchor="start" fill="#000000">0.015 mg/l</text>
<line x1="472.0" y1="675.1" x2="477.9" y2="675.1" stroke="#00BE67" stroke-width="1.6"/>
<text x="481.5" y="678.3000000000001" font-size="8.25" font-weight="bold" text-anchor="start" fill="#000000">0.03 mg/l</text>
<line x1="524.3000000000001" y1="664.9" x2="530.0" y2="664.9" stroke="#00BFC4" stroke-width="1.6"/>
<text x="534.5" y="668.1" font-size="8.25" font-weight="bold" text-anchor="start" fill="#000000">0.06 mg/l</text>
<line x1="524.6" y1="675.1" x2="526.2" y2="675.1" stroke="#00A9FF" stroke-width="1.6"/>
<line x1="529.7" y1="675.1" x2="531.3000000000001" y2="675.1" stroke="#00A9FF" stroke-width="1.6"/>
<text x="534.5" y="678.3000000000001" font-size="8.25" font-weight="bold" text-anchor="start" fill="#000000">0.12 mg/l</text>
<line x1="572.0" y1="664.9" x2="573.5999999999999" y2="664.9" stroke="#C77CFF" stroke-width="1.6"/>
<line x1="577.5" y1="664.9" x2="579.0999999999999" y2="664.9" stroke="#C77CFF" stroke-width="1.6"/>
<text x="582.5" y="668.1" font-size="8.25" font-weight="bold" text-anchor="start" fill="#000000">0.24 mg/l</text>
<line x1="572.8" y1="675.1" x2="578.5999999999999" y2="675.1" stroke="#FF61CC" stroke-width="1.6"/>
<text x="582.5" y="678.3000000000001" font-size="8.25" font-weight="bold" text-anchor="start" fill="#000000">Combination</text>
</svg>
</body></html>
